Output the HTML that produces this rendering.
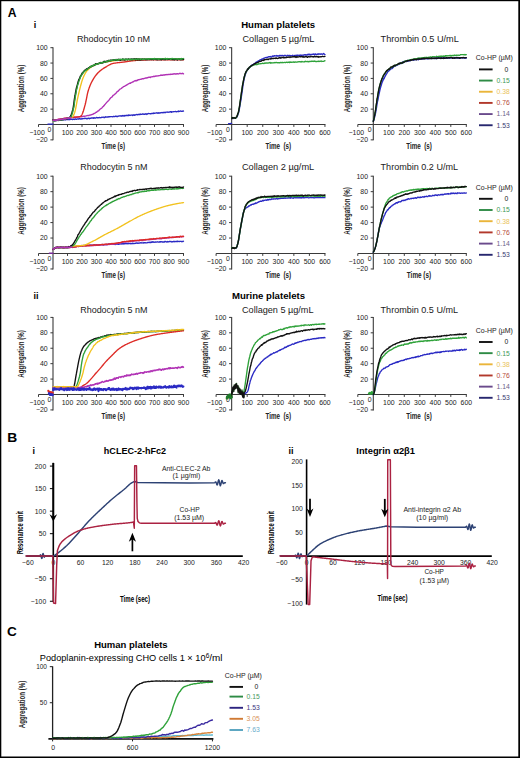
<!DOCTYPE html>
<html><head><meta charset="utf-8"><style>
html,body{margin:0;padding:0;background:#fff;width:520px;height:758px;overflow:hidden}
svg{display:block;font-family:"Liberation Sans", sans-serif}
</style></head><body>
<svg width="520" height="758" viewBox="0 0 520 758">
<rect width="520" height="758" fill="#fff"/>
<rect x="0" y="0" width="1.3" height="758" fill="#000"/><rect x="0" y="0" width="520" height="1.2" fill="#000"/><rect x="518.3" y="0" width="1.7" height="758" fill="#000"/><rect x="0" y="756.5" width="520" height="1.5" fill="#000"/>
<text x="7.80" y="16.70" font-size="12" font-weight="bold" fill="#000" textLength="8.80" lengthAdjust="spacingAndGlyphs">A</text>
<text x="33.80" y="27.70" font-size="9" font-weight="bold" fill="#000">i</text>
<text x="278.20" y="27.70" font-size="9.4" text-anchor="middle" font-weight="bold" fill="#000" textLength="74.00" lengthAdjust="spacingAndGlyphs">Human platelets</text>
<text x="33.60" y="299.30" font-size="9" font-weight="bold" fill="#000">ii</text>
<text x="268.50" y="299.30" font-size="9.4" text-anchor="middle" font-weight="bold" fill="#000" textLength="73.00" lengthAdjust="spacingAndGlyphs">Murine platelets</text>
<line x1="53.00" y1="47.20" x2="53.00" y2="140.36" stroke="#3a3a3a" stroke-width="1.1"/>
<line x1="50.40" y1="47.70" x2="53.00" y2="47.70" stroke="#3a3a3a" stroke-width="1.0"/>
<text x="47.70" y="50.15" font-size="6.9" text-anchor="end" fill="#222">100</text>
<line x1="50.40" y1="63.06" x2="53.00" y2="63.06" stroke="#3a3a3a" stroke-width="1.0"/>
<text x="47.70" y="65.51" font-size="6.9" text-anchor="end" fill="#222">80</text>
<line x1="50.40" y1="78.42" x2="53.00" y2="78.42" stroke="#3a3a3a" stroke-width="1.0"/>
<text x="47.70" y="80.87" font-size="6.9" text-anchor="end" fill="#222">60</text>
<line x1="50.40" y1="93.78" x2="53.00" y2="93.78" stroke="#3a3a3a" stroke-width="1.0"/>
<text x="47.70" y="96.23" font-size="6.9" text-anchor="end" fill="#222">40</text>
<line x1="50.40" y1="109.14" x2="53.00" y2="109.14" stroke="#3a3a3a" stroke-width="1.0"/>
<text x="47.70" y="111.59" font-size="6.9" text-anchor="end" fill="#222">20</text>
<line x1="50.40" y1="139.86" x2="53.00" y2="139.86" stroke="#3a3a3a" stroke-width="1.0"/>
<text x="47.70" y="142.31" font-size="6.9" text-anchor="end" fill="#222">−20</text>
<line x1="38.50" y1="124.50" x2="184.00" y2="124.50" stroke="#3a3a3a" stroke-width="1.1"/>
<line x1="38.50" y1="124.50" x2="38.50" y2="126.90" stroke="#3a3a3a" stroke-width="1.0"/>
<text x="37.00" y="135.30" font-size="6.9" text-anchor="middle" fill="#222">−100</text>
<line x1="67.50" y1="124.50" x2="67.50" y2="126.90" stroke="#3a3a3a" stroke-width="1.0"/>
<text x="67.50" y="135.30" font-size="6.9" text-anchor="middle" fill="#222">100</text>
<line x1="82.00" y1="124.50" x2="82.00" y2="126.90" stroke="#3a3a3a" stroke-width="1.0"/>
<text x="82.00" y="135.30" font-size="6.9" text-anchor="middle" fill="#222">200</text>
<line x1="96.50" y1="124.50" x2="96.50" y2="126.90" stroke="#3a3a3a" stroke-width="1.0"/>
<text x="96.50" y="135.30" font-size="6.9" text-anchor="middle" fill="#222">300</text>
<line x1="111.00" y1="124.50" x2="111.00" y2="126.90" stroke="#3a3a3a" stroke-width="1.0"/>
<text x="111.00" y="135.30" font-size="6.9" text-anchor="middle" fill="#222">400</text>
<line x1="125.50" y1="124.50" x2="125.50" y2="126.90" stroke="#3a3a3a" stroke-width="1.0"/>
<text x="125.50" y="135.30" font-size="6.9" text-anchor="middle" fill="#222">500</text>
<line x1="140.00" y1="124.50" x2="140.00" y2="126.90" stroke="#3a3a3a" stroke-width="1.0"/>
<text x="140.00" y="135.30" font-size="6.9" text-anchor="middle" fill="#222">600</text>
<line x1="154.50" y1="124.50" x2="154.50" y2="126.90" stroke="#3a3a3a" stroke-width="1.0"/>
<text x="154.50" y="135.30" font-size="6.9" text-anchor="middle" fill="#222">700</text>
<line x1="169.00" y1="124.50" x2="169.00" y2="126.90" stroke="#3a3a3a" stroke-width="1.0"/>
<text x="169.00" y="135.30" font-size="6.9" text-anchor="middle" fill="#222">800</text>
<line x1="183.50" y1="124.50" x2="183.50" y2="126.90" stroke="#3a3a3a" stroke-width="1.0"/>
<text x="183.50" y="135.30" font-size="6.9" text-anchor="middle" fill="#222">900</text>
<text x="49.30" y="131.70" font-size="6.9" text-anchor="middle" fill="#222">0</text>
<text x="24.30" y="88.50" font-size="8.4" text-anchor="middle" font-weight="bold" fill="#222" textLength="47.50" lengthAdjust="spacingAndGlyphs" transform="rotate(-90 24.30 88.50)">Aggregation (%)</text>
<text x="113.30" y="148.60" font-size="8.6" text-anchor="middle" font-weight="bold" fill="#222" textLength="23.60" lengthAdjust="spacingAndGlyphs">Time (s)</text>
<text x="113.45" y="41.80" font-size="9" text-anchor="middle" fill="#1a1a1a" textLength="73.10" lengthAdjust="spacingAndGlyphs">Rhodocytin 10 nM</text>
<line x1="231.65" y1="47.20" x2="231.65" y2="140.36" stroke="#3a3a3a" stroke-width="1.1"/>
<line x1="229.05" y1="47.70" x2="231.65" y2="47.70" stroke="#3a3a3a" stroke-width="1.0"/>
<text x="226.35" y="50.15" font-size="6.9" text-anchor="end" fill="#222">100</text>
<line x1="229.05" y1="63.06" x2="231.65" y2="63.06" stroke="#3a3a3a" stroke-width="1.0"/>
<text x="226.35" y="65.51" font-size="6.9" text-anchor="end" fill="#222">80</text>
<line x1="229.05" y1="78.42" x2="231.65" y2="78.42" stroke="#3a3a3a" stroke-width="1.0"/>
<text x="226.35" y="80.87" font-size="6.9" text-anchor="end" fill="#222">60</text>
<line x1="229.05" y1="93.78" x2="231.65" y2="93.78" stroke="#3a3a3a" stroke-width="1.0"/>
<text x="226.35" y="96.23" font-size="6.9" text-anchor="end" fill="#222">40</text>
<line x1="229.05" y1="109.14" x2="231.65" y2="109.14" stroke="#3a3a3a" stroke-width="1.0"/>
<text x="226.35" y="111.59" font-size="6.9" text-anchor="end" fill="#222">20</text>
<line x1="229.05" y1="139.86" x2="231.65" y2="139.86" stroke="#3a3a3a" stroke-width="1.0"/>
<text x="226.35" y="142.31" font-size="6.9" text-anchor="end" fill="#222">−20</text>
<line x1="216.10" y1="124.50" x2="325.45" y2="124.50" stroke="#3a3a3a" stroke-width="1.1"/>
<line x1="216.10" y1="124.50" x2="216.10" y2="126.90" stroke="#3a3a3a" stroke-width="1.0"/>
<text x="214.60" y="135.30" font-size="6.9" text-anchor="middle" fill="#222">−100</text>
<line x1="247.20" y1="124.50" x2="247.20" y2="126.90" stroke="#3a3a3a" stroke-width="1.0"/>
<text x="247.20" y="135.30" font-size="6.9" text-anchor="middle" fill="#222">100</text>
<line x1="262.75" y1="124.50" x2="262.75" y2="126.90" stroke="#3a3a3a" stroke-width="1.0"/>
<text x="262.75" y="135.30" font-size="6.9" text-anchor="middle" fill="#222">200</text>
<line x1="278.30" y1="124.50" x2="278.30" y2="126.90" stroke="#3a3a3a" stroke-width="1.0"/>
<text x="278.30" y="135.30" font-size="6.9" text-anchor="middle" fill="#222">300</text>
<line x1="293.85" y1="124.50" x2="293.85" y2="126.90" stroke="#3a3a3a" stroke-width="1.0"/>
<text x="293.85" y="135.30" font-size="6.9" text-anchor="middle" fill="#222">400</text>
<line x1="309.40" y1="124.50" x2="309.40" y2="126.90" stroke="#3a3a3a" stroke-width="1.0"/>
<text x="309.40" y="135.30" font-size="6.9" text-anchor="middle" fill="#222">500</text>
<line x1="324.95" y1="124.50" x2="324.95" y2="126.90" stroke="#3a3a3a" stroke-width="1.0"/>
<text x="324.95" y="135.30" font-size="6.9" text-anchor="middle" fill="#222">600</text>
<text x="227.95" y="131.70" font-size="6.9" text-anchor="middle" fill="#222">0</text>
<text x="208.00" y="88.50" font-size="8.4" text-anchor="middle" font-weight="bold" fill="#222" textLength="47.50" lengthAdjust="spacingAndGlyphs" transform="rotate(-90 208.00 88.50)">Aggregation (%)</text>
<text x="278.30" y="148.60" font-size="8.6" text-anchor="middle" font-weight="bold" fill="#222" textLength="25.60" lengthAdjust="spacingAndGlyphs">Time&#160;&#160;(s)</text>
<text x="278.45" y="41.80" font-size="9" text-anchor="middle" fill="#1a1a1a" textLength="71.90" lengthAdjust="spacingAndGlyphs">Collagen 5 µg/mL</text>
<line x1="373.30" y1="47.20" x2="373.30" y2="140.36" stroke="#3a3a3a" stroke-width="1.1"/>
<line x1="370.70" y1="47.70" x2="373.30" y2="47.70" stroke="#3a3a3a" stroke-width="1.0"/>
<text x="368.00" y="50.15" font-size="6.9" text-anchor="end" fill="#222">100</text>
<line x1="370.70" y1="63.06" x2="373.30" y2="63.06" stroke="#3a3a3a" stroke-width="1.0"/>
<text x="368.00" y="65.51" font-size="6.9" text-anchor="end" fill="#222">80</text>
<line x1="370.70" y1="78.42" x2="373.30" y2="78.42" stroke="#3a3a3a" stroke-width="1.0"/>
<text x="368.00" y="80.87" font-size="6.9" text-anchor="end" fill="#222">60</text>
<line x1="370.70" y1="93.78" x2="373.30" y2="93.78" stroke="#3a3a3a" stroke-width="1.0"/>
<text x="368.00" y="96.23" font-size="6.9" text-anchor="end" fill="#222">40</text>
<line x1="370.70" y1="109.14" x2="373.30" y2="109.14" stroke="#3a3a3a" stroke-width="1.0"/>
<text x="368.00" y="111.59" font-size="6.9" text-anchor="end" fill="#222">20</text>
<line x1="370.70" y1="139.86" x2="373.30" y2="139.86" stroke="#3a3a3a" stroke-width="1.0"/>
<text x="368.00" y="142.31" font-size="6.9" text-anchor="end" fill="#222">−20</text>
<line x1="357.80" y1="124.50" x2="466.80" y2="124.50" stroke="#3a3a3a" stroke-width="1.1"/>
<line x1="357.80" y1="124.50" x2="357.80" y2="126.90" stroke="#3a3a3a" stroke-width="1.0"/>
<text x="356.30" y="135.30" font-size="6.9" text-anchor="middle" fill="#222">−100</text>
<line x1="388.80" y1="124.50" x2="388.80" y2="126.90" stroke="#3a3a3a" stroke-width="1.0"/>
<text x="388.80" y="135.30" font-size="6.9" text-anchor="middle" fill="#222">100</text>
<line x1="404.30" y1="124.50" x2="404.30" y2="126.90" stroke="#3a3a3a" stroke-width="1.0"/>
<text x="404.30" y="135.30" font-size="6.9" text-anchor="middle" fill="#222">200</text>
<line x1="419.80" y1="124.50" x2="419.80" y2="126.90" stroke="#3a3a3a" stroke-width="1.0"/>
<text x="419.80" y="135.30" font-size="6.9" text-anchor="middle" fill="#222">300</text>
<line x1="435.30" y1="124.50" x2="435.30" y2="126.90" stroke="#3a3a3a" stroke-width="1.0"/>
<text x="435.30" y="135.30" font-size="6.9" text-anchor="middle" fill="#222">400</text>
<line x1="450.80" y1="124.50" x2="450.80" y2="126.90" stroke="#3a3a3a" stroke-width="1.0"/>
<text x="450.80" y="135.30" font-size="6.9" text-anchor="middle" fill="#222">500</text>
<line x1="466.30" y1="124.50" x2="466.30" y2="126.90" stroke="#3a3a3a" stroke-width="1.0"/>
<text x="466.30" y="135.30" font-size="6.9" text-anchor="middle" fill="#222">600</text>
<text x="369.60" y="131.70" font-size="6.9" text-anchor="middle" fill="#222">0</text>
<text x="349.80" y="88.50" font-size="8.4" text-anchor="middle" font-weight="bold" fill="#222" textLength="47.50" lengthAdjust="spacingAndGlyphs" transform="rotate(-90 349.80 88.50)">Aggregation (%)</text>
<text x="419.00" y="148.60" font-size="8.6" text-anchor="middle" font-weight="bold" fill="#222" textLength="25.60" lengthAdjust="spacingAndGlyphs">Time&#160;&#160;(s)</text>
<text x="419.70" y="41.80" font-size="9" text-anchor="middle" fill="#1a1a1a" textLength="78.20" lengthAdjust="spacingAndGlyphs">Thrombin 0.5 U/mL</text>
<text x="494.30" y="60.40" font-size="6.8" text-anchor="middle" fill="#222" textLength="37.00" lengthAdjust="spacingAndGlyphs">Co-HP (µM)</text>
<line x1="479.00" y1="69.40" x2="492.60" y2="69.40" stroke="#111" stroke-width="1.9"/>
<text x="508.30" y="71.80" font-size="6.8" text-anchor="end" fill="#222">0</text>
<line x1="479.00" y1="80.57" x2="492.60" y2="80.57" stroke="#2e8b45" stroke-width="1.9"/>
<text x="509.80" y="82.97" font-size="6.8" text-anchor="end" fill="#3f9a58">0.15</text>
<line x1="479.00" y1="91.74" x2="492.60" y2="91.74" stroke="#eab53a" stroke-width="1.9"/>
<text x="509.80" y="94.14" font-size="6.8" text-anchor="end" fill="#e9c35a">0.38</text>
<line x1="479.00" y1="102.91" x2="492.60" y2="102.91" stroke="#b2382b" stroke-width="1.9"/>
<text x="509.80" y="105.31" font-size="6.8" text-anchor="end" fill="#b54a3a">0.76</text>
<line x1="479.00" y1="114.08" x2="492.60" y2="114.08" stroke="#6a4a8c" stroke-width="1.9"/>
<text x="509.80" y="116.48" font-size="6.8" text-anchor="end" fill="#6f5f88">1.14</text>
<line x1="479.00" y1="125.25" x2="492.60" y2="125.25" stroke="#27276f" stroke-width="1.9"/>
<text x="509.80" y="127.65" font-size="6.8" text-anchor="end" fill="#3a3a70">1.53</text>
<line x1="53.00" y1="175.70" x2="53.00" y2="269.46" stroke="#3a3a3a" stroke-width="1.1"/>
<line x1="50.40" y1="176.20" x2="53.00" y2="176.20" stroke="#3a3a3a" stroke-width="1.0"/>
<text x="47.70" y="178.65" font-size="6.9" text-anchor="end" fill="#222">100</text>
<line x1="50.40" y1="191.66" x2="53.00" y2="191.66" stroke="#3a3a3a" stroke-width="1.0"/>
<text x="47.70" y="194.11" font-size="6.9" text-anchor="end" fill="#222">80</text>
<line x1="50.40" y1="207.12" x2="53.00" y2="207.12" stroke="#3a3a3a" stroke-width="1.0"/>
<text x="47.70" y="209.57" font-size="6.9" text-anchor="end" fill="#222">60</text>
<line x1="50.40" y1="222.58" x2="53.00" y2="222.58" stroke="#3a3a3a" stroke-width="1.0"/>
<text x="47.70" y="225.03" font-size="6.9" text-anchor="end" fill="#222">40</text>
<line x1="50.40" y1="238.04" x2="53.00" y2="238.04" stroke="#3a3a3a" stroke-width="1.0"/>
<text x="47.70" y="240.49" font-size="6.9" text-anchor="end" fill="#222">20</text>
<line x1="50.40" y1="268.96" x2="53.00" y2="268.96" stroke="#3a3a3a" stroke-width="1.0"/>
<text x="47.70" y="271.41" font-size="6.9" text-anchor="end" fill="#222">−20</text>
<line x1="38.50" y1="253.50" x2="184.00" y2="253.50" stroke="#3a3a3a" stroke-width="1.1"/>
<line x1="38.50" y1="253.50" x2="38.50" y2="255.90" stroke="#3a3a3a" stroke-width="1.0"/>
<text x="37.00" y="264.30" font-size="6.9" text-anchor="middle" fill="#222">−100</text>
<line x1="67.50" y1="253.50" x2="67.50" y2="255.90" stroke="#3a3a3a" stroke-width="1.0"/>
<text x="67.50" y="264.30" font-size="6.9" text-anchor="middle" fill="#222">100</text>
<line x1="82.00" y1="253.50" x2="82.00" y2="255.90" stroke="#3a3a3a" stroke-width="1.0"/>
<text x="82.00" y="264.30" font-size="6.9" text-anchor="middle" fill="#222">200</text>
<line x1="96.50" y1="253.50" x2="96.50" y2="255.90" stroke="#3a3a3a" stroke-width="1.0"/>
<text x="96.50" y="264.30" font-size="6.9" text-anchor="middle" fill="#222">300</text>
<line x1="111.00" y1="253.50" x2="111.00" y2="255.90" stroke="#3a3a3a" stroke-width="1.0"/>
<text x="111.00" y="264.30" font-size="6.9" text-anchor="middle" fill="#222">400</text>
<line x1="125.50" y1="253.50" x2="125.50" y2="255.90" stroke="#3a3a3a" stroke-width="1.0"/>
<text x="125.50" y="264.30" font-size="6.9" text-anchor="middle" fill="#222">500</text>
<line x1="140.00" y1="253.50" x2="140.00" y2="255.90" stroke="#3a3a3a" stroke-width="1.0"/>
<text x="140.00" y="264.30" font-size="6.9" text-anchor="middle" fill="#222">600</text>
<line x1="154.50" y1="253.50" x2="154.50" y2="255.90" stroke="#3a3a3a" stroke-width="1.0"/>
<text x="154.50" y="264.30" font-size="6.9" text-anchor="middle" fill="#222">700</text>
<line x1="169.00" y1="253.50" x2="169.00" y2="255.90" stroke="#3a3a3a" stroke-width="1.0"/>
<text x="169.00" y="264.30" font-size="6.9" text-anchor="middle" fill="#222">800</text>
<line x1="183.50" y1="253.50" x2="183.50" y2="255.90" stroke="#3a3a3a" stroke-width="1.0"/>
<text x="183.50" y="264.30" font-size="6.9" text-anchor="middle" fill="#222">900</text>
<text x="49.30" y="260.70" font-size="6.9" text-anchor="middle" fill="#222">0</text>
<text x="24.30" y="211.00" font-size="8.4" text-anchor="middle" font-weight="bold" fill="#222" textLength="47.50" lengthAdjust="spacingAndGlyphs" transform="rotate(-90 24.30 211.00)">Aggregation (%)</text>
<text x="113.30" y="277.60" font-size="8.6" text-anchor="middle" font-weight="bold" fill="#222" textLength="23.60" lengthAdjust="spacingAndGlyphs">Time (s)</text>
<text x="113.85" y="170.30" font-size="9" text-anchor="middle" fill="#1a1a1a" textLength="67.30" lengthAdjust="spacingAndGlyphs">Rhodocytin 5 nM</text>
<line x1="231.65" y1="175.70" x2="231.65" y2="269.46" stroke="#3a3a3a" stroke-width="1.1"/>
<line x1="229.05" y1="176.20" x2="231.65" y2="176.20" stroke="#3a3a3a" stroke-width="1.0"/>
<text x="226.35" y="178.65" font-size="6.9" text-anchor="end" fill="#222">100</text>
<line x1="229.05" y1="191.66" x2="231.65" y2="191.66" stroke="#3a3a3a" stroke-width="1.0"/>
<text x="226.35" y="194.11" font-size="6.9" text-anchor="end" fill="#222">80</text>
<line x1="229.05" y1="207.12" x2="231.65" y2="207.12" stroke="#3a3a3a" stroke-width="1.0"/>
<text x="226.35" y="209.57" font-size="6.9" text-anchor="end" fill="#222">60</text>
<line x1="229.05" y1="222.58" x2="231.65" y2="222.58" stroke="#3a3a3a" stroke-width="1.0"/>
<text x="226.35" y="225.03" font-size="6.9" text-anchor="end" fill="#222">40</text>
<line x1="229.05" y1="238.04" x2="231.65" y2="238.04" stroke="#3a3a3a" stroke-width="1.0"/>
<text x="226.35" y="240.49" font-size="6.9" text-anchor="end" fill="#222">20</text>
<line x1="229.05" y1="268.96" x2="231.65" y2="268.96" stroke="#3a3a3a" stroke-width="1.0"/>
<text x="226.35" y="271.41" font-size="6.9" text-anchor="end" fill="#222">−20</text>
<line x1="216.10" y1="253.50" x2="325.45" y2="253.50" stroke="#3a3a3a" stroke-width="1.1"/>
<line x1="216.10" y1="253.50" x2="216.10" y2="255.90" stroke="#3a3a3a" stroke-width="1.0"/>
<text x="214.60" y="264.30" font-size="6.9" text-anchor="middle" fill="#222">−100</text>
<line x1="247.20" y1="253.50" x2="247.20" y2="255.90" stroke="#3a3a3a" stroke-width="1.0"/>
<text x="247.20" y="264.30" font-size="6.9" text-anchor="middle" fill="#222">100</text>
<line x1="262.75" y1="253.50" x2="262.75" y2="255.90" stroke="#3a3a3a" stroke-width="1.0"/>
<text x="262.75" y="264.30" font-size="6.9" text-anchor="middle" fill="#222">200</text>
<line x1="278.30" y1="253.50" x2="278.30" y2="255.90" stroke="#3a3a3a" stroke-width="1.0"/>
<text x="278.30" y="264.30" font-size="6.9" text-anchor="middle" fill="#222">300</text>
<line x1="293.85" y1="253.50" x2="293.85" y2="255.90" stroke="#3a3a3a" stroke-width="1.0"/>
<text x="293.85" y="264.30" font-size="6.9" text-anchor="middle" fill="#222">400</text>
<line x1="309.40" y1="253.50" x2="309.40" y2="255.90" stroke="#3a3a3a" stroke-width="1.0"/>
<text x="309.40" y="264.30" font-size="6.9" text-anchor="middle" fill="#222">500</text>
<line x1="324.95" y1="253.50" x2="324.95" y2="255.90" stroke="#3a3a3a" stroke-width="1.0"/>
<text x="324.95" y="264.30" font-size="6.9" text-anchor="middle" fill="#222">600</text>
<text x="227.95" y="260.70" font-size="6.9" text-anchor="middle" fill="#222">0</text>
<text x="208.00" y="211.00" font-size="8.4" text-anchor="middle" font-weight="bold" fill="#222" textLength="47.50" lengthAdjust="spacingAndGlyphs" transform="rotate(-90 208.00 211.00)">Aggregation (%)</text>
<text x="278.30" y="277.60" font-size="8.6" text-anchor="middle" font-weight="bold" fill="#222" textLength="25.60" lengthAdjust="spacingAndGlyphs">Time&#160;&#160;(s)</text>
<text x="278.05" y="170.30" font-size="9" text-anchor="middle" fill="#1a1a1a" textLength="72.30" lengthAdjust="spacingAndGlyphs">Collagen 2 µg/mL</text>
<line x1="373.30" y1="175.70" x2="373.30" y2="269.46" stroke="#3a3a3a" stroke-width="1.1"/>
<line x1="370.70" y1="176.20" x2="373.30" y2="176.20" stroke="#3a3a3a" stroke-width="1.0"/>
<text x="368.00" y="178.65" font-size="6.9" text-anchor="end" fill="#222">100</text>
<line x1="370.70" y1="191.66" x2="373.30" y2="191.66" stroke="#3a3a3a" stroke-width="1.0"/>
<text x="368.00" y="194.11" font-size="6.9" text-anchor="end" fill="#222">80</text>
<line x1="370.70" y1="207.12" x2="373.30" y2="207.12" stroke="#3a3a3a" stroke-width="1.0"/>
<text x="368.00" y="209.57" font-size="6.9" text-anchor="end" fill="#222">60</text>
<line x1="370.70" y1="222.58" x2="373.30" y2="222.58" stroke="#3a3a3a" stroke-width="1.0"/>
<text x="368.00" y="225.03" font-size="6.9" text-anchor="end" fill="#222">40</text>
<line x1="370.70" y1="238.04" x2="373.30" y2="238.04" stroke="#3a3a3a" stroke-width="1.0"/>
<text x="368.00" y="240.49" font-size="6.9" text-anchor="end" fill="#222">20</text>
<line x1="370.70" y1="268.96" x2="373.30" y2="268.96" stroke="#3a3a3a" stroke-width="1.0"/>
<text x="368.00" y="271.41" font-size="6.9" text-anchor="end" fill="#222">−20</text>
<line x1="357.80" y1="253.50" x2="466.80" y2="253.50" stroke="#3a3a3a" stroke-width="1.1"/>
<line x1="357.80" y1="253.50" x2="357.80" y2="255.90" stroke="#3a3a3a" stroke-width="1.0"/>
<text x="356.30" y="264.30" font-size="6.9" text-anchor="middle" fill="#222">−100</text>
<line x1="388.80" y1="253.50" x2="388.80" y2="255.90" stroke="#3a3a3a" stroke-width="1.0"/>
<text x="388.80" y="264.30" font-size="6.9" text-anchor="middle" fill="#222">100</text>
<line x1="404.30" y1="253.50" x2="404.30" y2="255.90" stroke="#3a3a3a" stroke-width="1.0"/>
<text x="404.30" y="264.30" font-size="6.9" text-anchor="middle" fill="#222">200</text>
<line x1="419.80" y1="253.50" x2="419.80" y2="255.90" stroke="#3a3a3a" stroke-width="1.0"/>
<text x="419.80" y="264.30" font-size="6.9" text-anchor="middle" fill="#222">300</text>
<line x1="435.30" y1="253.50" x2="435.30" y2="255.90" stroke="#3a3a3a" stroke-width="1.0"/>
<text x="435.30" y="264.30" font-size="6.9" text-anchor="middle" fill="#222">400</text>
<line x1="450.80" y1="253.50" x2="450.80" y2="255.90" stroke="#3a3a3a" stroke-width="1.0"/>
<text x="450.80" y="264.30" font-size="6.9" text-anchor="middle" fill="#222">500</text>
<line x1="466.30" y1="253.50" x2="466.30" y2="255.90" stroke="#3a3a3a" stroke-width="1.0"/>
<text x="466.30" y="264.30" font-size="6.9" text-anchor="middle" fill="#222">600</text>
<text x="369.60" y="260.70" font-size="6.9" text-anchor="middle" fill="#222">0</text>
<text x="349.80" y="211.00" font-size="8.4" text-anchor="middle" font-weight="bold" fill="#222" textLength="47.50" lengthAdjust="spacingAndGlyphs" transform="rotate(-90 349.80 211.00)">Aggregation (%)</text>
<text x="419.00" y="277.60" font-size="8.6" text-anchor="middle" font-weight="bold" fill="#222" textLength="24.30" lengthAdjust="spacingAndGlyphs">Time (s)</text>
<text x="419.30" y="170.30" font-size="9" text-anchor="middle" fill="#1a1a1a" textLength="77.40" lengthAdjust="spacingAndGlyphs">Thrombin 0.2 U/mL</text>
<text x="494.30" y="189.80" font-size="6.8" text-anchor="middle" fill="#222" textLength="37.00" lengthAdjust="spacingAndGlyphs">Co-HP (µM)</text>
<line x1="479.00" y1="198.80" x2="492.60" y2="198.80" stroke="#111" stroke-width="1.9"/>
<text x="508.30" y="201.20" font-size="6.8" text-anchor="end" fill="#222">0</text>
<line x1="479.00" y1="210.00" x2="492.60" y2="210.00" stroke="#2e8b45" stroke-width="1.9"/>
<text x="509.80" y="212.40" font-size="6.8" text-anchor="end" fill="#3f9a58">0.15</text>
<line x1="479.00" y1="221.20" x2="492.60" y2="221.20" stroke="#eab53a" stroke-width="1.9"/>
<text x="509.80" y="223.60" font-size="6.8" text-anchor="end" fill="#e9c35a">0.38</text>
<line x1="479.00" y1="232.40" x2="492.60" y2="232.40" stroke="#b2382b" stroke-width="1.9"/>
<text x="509.80" y="234.80" font-size="6.8" text-anchor="end" fill="#b54a3a">0.76</text>
<line x1="479.00" y1="243.60" x2="492.60" y2="243.60" stroke="#6a4a8c" stroke-width="1.9"/>
<text x="509.80" y="246.00" font-size="6.8" text-anchor="end" fill="#6f5f88">1.14</text>
<line x1="479.00" y1="254.80" x2="492.60" y2="254.80" stroke="#27276f" stroke-width="1.9"/>
<text x="509.80" y="257.20" font-size="6.8" text-anchor="end" fill="#3a3a70">1.53</text>
<line x1="53.00" y1="316.90" x2="53.00" y2="410.42" stroke="#3a3a3a" stroke-width="1.1"/>
<line x1="50.40" y1="317.40" x2="53.00" y2="317.40" stroke="#3a3a3a" stroke-width="1.0"/>
<text x="47.70" y="319.85" font-size="6.9" text-anchor="end" fill="#222">100</text>
<line x1="50.40" y1="332.82" x2="53.00" y2="332.82" stroke="#3a3a3a" stroke-width="1.0"/>
<text x="47.70" y="335.27" font-size="6.9" text-anchor="end" fill="#222">80</text>
<line x1="50.40" y1="348.24" x2="53.00" y2="348.24" stroke="#3a3a3a" stroke-width="1.0"/>
<text x="47.70" y="350.69" font-size="6.9" text-anchor="end" fill="#222">60</text>
<line x1="50.40" y1="363.66" x2="53.00" y2="363.66" stroke="#3a3a3a" stroke-width="1.0"/>
<text x="47.70" y="366.11" font-size="6.9" text-anchor="end" fill="#222">40</text>
<line x1="50.40" y1="379.08" x2="53.00" y2="379.08" stroke="#3a3a3a" stroke-width="1.0"/>
<text x="47.70" y="381.53" font-size="6.9" text-anchor="end" fill="#222">20</text>
<line x1="50.40" y1="409.92" x2="53.00" y2="409.92" stroke="#3a3a3a" stroke-width="1.0"/>
<text x="47.70" y="412.37" font-size="6.9" text-anchor="end" fill="#222">−20</text>
<line x1="38.50" y1="394.50" x2="184.00" y2="394.50" stroke="#3a3a3a" stroke-width="1.1"/>
<line x1="38.50" y1="394.50" x2="38.50" y2="396.90" stroke="#3a3a3a" stroke-width="1.0"/>
<text x="37.00" y="405.30" font-size="6.9" text-anchor="middle" fill="#222">−100</text>
<line x1="67.50" y1="394.50" x2="67.50" y2="396.90" stroke="#3a3a3a" stroke-width="1.0"/>
<text x="67.50" y="405.30" font-size="6.9" text-anchor="middle" fill="#222">100</text>
<line x1="82.00" y1="394.50" x2="82.00" y2="396.90" stroke="#3a3a3a" stroke-width="1.0"/>
<text x="82.00" y="405.30" font-size="6.9" text-anchor="middle" fill="#222">200</text>
<line x1="96.50" y1="394.50" x2="96.50" y2="396.90" stroke="#3a3a3a" stroke-width="1.0"/>
<text x="96.50" y="405.30" font-size="6.9" text-anchor="middle" fill="#222">300</text>
<line x1="111.00" y1="394.50" x2="111.00" y2="396.90" stroke="#3a3a3a" stroke-width="1.0"/>
<text x="111.00" y="405.30" font-size="6.9" text-anchor="middle" fill="#222">400</text>
<line x1="125.50" y1="394.50" x2="125.50" y2="396.90" stroke="#3a3a3a" stroke-width="1.0"/>
<text x="125.50" y="405.30" font-size="6.9" text-anchor="middle" fill="#222">500</text>
<line x1="140.00" y1="394.50" x2="140.00" y2="396.90" stroke="#3a3a3a" stroke-width="1.0"/>
<text x="140.00" y="405.30" font-size="6.9" text-anchor="middle" fill="#222">600</text>
<line x1="154.50" y1="394.50" x2="154.50" y2="396.90" stroke="#3a3a3a" stroke-width="1.0"/>
<text x="154.50" y="405.30" font-size="6.9" text-anchor="middle" fill="#222">700</text>
<line x1="169.00" y1="394.50" x2="169.00" y2="396.90" stroke="#3a3a3a" stroke-width="1.0"/>
<text x="169.00" y="405.30" font-size="6.9" text-anchor="middle" fill="#222">800</text>
<line x1="183.50" y1="394.50" x2="183.50" y2="396.90" stroke="#3a3a3a" stroke-width="1.0"/>
<text x="183.50" y="405.30" font-size="6.9" text-anchor="middle" fill="#222">900</text>
<text x="49.30" y="401.70" font-size="6.9" text-anchor="middle" fill="#222">0</text>
<text x="24.30" y="354.00" font-size="8.4" text-anchor="middle" font-weight="bold" fill="#222" textLength="47.50" lengthAdjust="spacingAndGlyphs" transform="rotate(-90 24.30 354.00)">Aggregation (%)</text>
<text x="113.30" y="418.60" font-size="8.6" text-anchor="middle" font-weight="bold" fill="#222" textLength="23.60" lengthAdjust="spacingAndGlyphs">Time (s)</text>
<text x="113.85" y="312.70" font-size="9" text-anchor="middle" fill="#1a1a1a" textLength="67.30" lengthAdjust="spacingAndGlyphs">Rhodocytin 5 nM</text>
<line x1="231.65" y1="316.90" x2="231.65" y2="410.42" stroke="#3a3a3a" stroke-width="1.1"/>
<line x1="229.05" y1="317.40" x2="231.65" y2="317.40" stroke="#3a3a3a" stroke-width="1.0"/>
<text x="226.35" y="319.85" font-size="6.9" text-anchor="end" fill="#222">100</text>
<line x1="229.05" y1="332.82" x2="231.65" y2="332.82" stroke="#3a3a3a" stroke-width="1.0"/>
<text x="226.35" y="335.27" font-size="6.9" text-anchor="end" fill="#222">80</text>
<line x1="229.05" y1="348.24" x2="231.65" y2="348.24" stroke="#3a3a3a" stroke-width="1.0"/>
<text x="226.35" y="350.69" font-size="6.9" text-anchor="end" fill="#222">60</text>
<line x1="229.05" y1="363.66" x2="231.65" y2="363.66" stroke="#3a3a3a" stroke-width="1.0"/>
<text x="226.35" y="366.11" font-size="6.9" text-anchor="end" fill="#222">40</text>
<line x1="229.05" y1="379.08" x2="231.65" y2="379.08" stroke="#3a3a3a" stroke-width="1.0"/>
<text x="226.35" y="381.53" font-size="6.9" text-anchor="end" fill="#222">20</text>
<line x1="229.05" y1="409.92" x2="231.65" y2="409.92" stroke="#3a3a3a" stroke-width="1.0"/>
<text x="226.35" y="412.37" font-size="6.9" text-anchor="end" fill="#222">−20</text>
<line x1="216.10" y1="394.50" x2="325.45" y2="394.50" stroke="#3a3a3a" stroke-width="1.1"/>
<line x1="216.10" y1="394.50" x2="216.10" y2="396.90" stroke="#3a3a3a" stroke-width="1.0"/>
<text x="214.60" y="405.30" font-size="6.9" text-anchor="middle" fill="#222">−100</text>
<line x1="247.20" y1="394.50" x2="247.20" y2="396.90" stroke="#3a3a3a" stroke-width="1.0"/>
<text x="247.20" y="405.30" font-size="6.9" text-anchor="middle" fill="#222">100</text>
<line x1="262.75" y1="394.50" x2="262.75" y2="396.90" stroke="#3a3a3a" stroke-width="1.0"/>
<text x="262.75" y="405.30" font-size="6.9" text-anchor="middle" fill="#222">200</text>
<line x1="278.30" y1="394.50" x2="278.30" y2="396.90" stroke="#3a3a3a" stroke-width="1.0"/>
<text x="278.30" y="405.30" font-size="6.9" text-anchor="middle" fill="#222">300</text>
<line x1="293.85" y1="394.50" x2="293.85" y2="396.90" stroke="#3a3a3a" stroke-width="1.0"/>
<text x="293.85" y="405.30" font-size="6.9" text-anchor="middle" fill="#222">400</text>
<line x1="309.40" y1="394.50" x2="309.40" y2="396.90" stroke="#3a3a3a" stroke-width="1.0"/>
<text x="309.40" y="405.30" font-size="6.9" text-anchor="middle" fill="#222">500</text>
<line x1="324.95" y1="394.50" x2="324.95" y2="396.90" stroke="#3a3a3a" stroke-width="1.0"/>
<text x="324.95" y="405.30" font-size="6.9" text-anchor="middle" fill="#222">600</text>
<text x="227.95" y="401.70" font-size="6.9" text-anchor="middle" fill="#222">0</text>
<text x="208.00" y="354.00" font-size="8.4" text-anchor="middle" font-weight="bold" fill="#222" textLength="47.50" lengthAdjust="spacingAndGlyphs" transform="rotate(-90 208.00 354.00)">Aggregation (%)</text>
<text x="278.30" y="418.60" font-size="8.6" text-anchor="middle" font-weight="bold" fill="#222" textLength="25.60" lengthAdjust="spacingAndGlyphs">Time&#160;&#160;(s)</text>
<text x="277.75" y="312.70" font-size="9" text-anchor="middle" fill="#1a1a1a" textLength="71.50" lengthAdjust="spacingAndGlyphs">Collagen 5 µg/mL</text>
<line x1="373.30" y1="316.90" x2="373.30" y2="410.42" stroke="#3a3a3a" stroke-width="1.1"/>
<line x1="370.70" y1="317.40" x2="373.30" y2="317.40" stroke="#3a3a3a" stroke-width="1.0"/>
<text x="368.00" y="319.85" font-size="6.9" text-anchor="end" fill="#222">100</text>
<line x1="370.70" y1="332.82" x2="373.30" y2="332.82" stroke="#3a3a3a" stroke-width="1.0"/>
<text x="368.00" y="335.27" font-size="6.9" text-anchor="end" fill="#222">80</text>
<line x1="370.70" y1="348.24" x2="373.30" y2="348.24" stroke="#3a3a3a" stroke-width="1.0"/>
<text x="368.00" y="350.69" font-size="6.9" text-anchor="end" fill="#222">60</text>
<line x1="370.70" y1="363.66" x2="373.30" y2="363.66" stroke="#3a3a3a" stroke-width="1.0"/>
<text x="368.00" y="366.11" font-size="6.9" text-anchor="end" fill="#222">40</text>
<line x1="370.70" y1="379.08" x2="373.30" y2="379.08" stroke="#3a3a3a" stroke-width="1.0"/>
<text x="368.00" y="381.53" font-size="6.9" text-anchor="end" fill="#222">20</text>
<line x1="370.70" y1="409.92" x2="373.30" y2="409.92" stroke="#3a3a3a" stroke-width="1.0"/>
<text x="368.00" y="412.37" font-size="6.9" text-anchor="end" fill="#222">−20</text>
<line x1="357.80" y1="394.50" x2="466.80" y2="394.50" stroke="#3a3a3a" stroke-width="1.1"/>
<line x1="357.80" y1="394.50" x2="357.80" y2="396.90" stroke="#3a3a3a" stroke-width="1.0"/>
<text x="356.30" y="405.30" font-size="6.9" text-anchor="middle" fill="#222">−100</text>
<line x1="388.80" y1="394.50" x2="388.80" y2="396.90" stroke="#3a3a3a" stroke-width="1.0"/>
<text x="388.80" y="405.30" font-size="6.9" text-anchor="middle" fill="#222">100</text>
<line x1="404.30" y1="394.50" x2="404.30" y2="396.90" stroke="#3a3a3a" stroke-width="1.0"/>
<text x="404.30" y="405.30" font-size="6.9" text-anchor="middle" fill="#222">200</text>
<line x1="419.80" y1="394.50" x2="419.80" y2="396.90" stroke="#3a3a3a" stroke-width="1.0"/>
<text x="419.80" y="405.30" font-size="6.9" text-anchor="middle" fill="#222">300</text>
<line x1="435.30" y1="394.50" x2="435.30" y2="396.90" stroke="#3a3a3a" stroke-width="1.0"/>
<text x="435.30" y="405.30" font-size="6.9" text-anchor="middle" fill="#222">400</text>
<line x1="450.80" y1="394.50" x2="450.80" y2="396.90" stroke="#3a3a3a" stroke-width="1.0"/>
<text x="450.80" y="405.30" font-size="6.9" text-anchor="middle" fill="#222">500</text>
<line x1="466.30" y1="394.50" x2="466.30" y2="396.90" stroke="#3a3a3a" stroke-width="1.0"/>
<text x="466.30" y="405.30" font-size="6.9" text-anchor="middle" fill="#222">600</text>
<text x="369.60" y="401.70" font-size="6.9" text-anchor="middle" fill="#222">0</text>
<text x="349.80" y="354.00" font-size="8.4" text-anchor="middle" font-weight="bold" fill="#222" textLength="47.50" lengthAdjust="spacingAndGlyphs" transform="rotate(-90 349.80 354.00)">Aggregation (%)</text>
<text x="419.00" y="418.60" font-size="8.6" text-anchor="middle" font-weight="bold" fill="#222" textLength="25.60" lengthAdjust="spacingAndGlyphs">Time&#160;&#160;(s)</text>
<text x="419.30" y="312.70" font-size="9" text-anchor="middle" fill="#1a1a1a" textLength="77.40" lengthAdjust="spacingAndGlyphs">Thrombin 0.5 U/mL</text>
<text x="494.30" y="333.20" font-size="6.8" text-anchor="middle" fill="#222" textLength="37.00" lengthAdjust="spacingAndGlyphs">Co-HP (µM)</text>
<line x1="479.00" y1="342.00" x2="492.60" y2="342.00" stroke="#111" stroke-width="1.9"/>
<text x="508.30" y="344.40" font-size="6.8" text-anchor="end" fill="#222">0</text>
<line x1="479.00" y1="353.16" x2="492.60" y2="353.16" stroke="#2e8b45" stroke-width="1.9"/>
<text x="509.80" y="355.56" font-size="6.8" text-anchor="end" fill="#3f9a58">0.15</text>
<line x1="479.00" y1="364.32" x2="492.60" y2="364.32" stroke="#eab53a" stroke-width="1.9"/>
<text x="509.80" y="366.72" font-size="6.8" text-anchor="end" fill="#e9c35a">0.38</text>
<line x1="479.00" y1="375.48" x2="492.60" y2="375.48" stroke="#b2382b" stroke-width="1.9"/>
<text x="509.80" y="377.88" font-size="6.8" text-anchor="end" fill="#b54a3a">0.76</text>
<line x1="479.00" y1="386.64" x2="492.60" y2="386.64" stroke="#6a4a8c" stroke-width="1.9"/>
<text x="509.80" y="389.04" font-size="6.8" text-anchor="end" fill="#6f5f88">1.14</text>
<line x1="479.00" y1="397.80" x2="492.60" y2="397.80" stroke="#27276f" stroke-width="1.9"/>
<text x="509.80" y="400.20" font-size="6.8" text-anchor="end" fill="#3a3a70">1.53</text>
<path d="M47.92,124.12 L48.65,124.12 L49.38,124.12 L50.10,124.12 L50.83,124.12 L51.55,124.12 L52.27,124.12 L53.00,124.12" fill="none" stroke="#2a2ac4" stroke-width="1.25" stroke-linejoin="round" stroke-linecap="round"/>
<path d="M53.00,120.18 L53.44,120.13 L53.87,120.37 L54.30,120.51 L54.74,120.55 L55.17,120.31 L55.61,120.49 L56.05,120.54 L56.48,120.20 L56.91,120.19 L57.35,120.09 L57.78,120.35 L58.22,120.14 L58.66,120.13 L59.09,120.39 L59.52,119.97 L59.96,119.99 L60.39,119.57 L60.83,119.96 L61.27,120.00 L61.70,119.71 L62.13,119.89 L62.57,119.73 L63.00,119.95 L63.44,119.81 L63.88,119.63 L64.31,119.67 L64.75,119.75 L65.18,119.96 L65.61,119.64 L66.05,119.68 L66.48,119.54 L66.92,119.61 L67.36,119.41 L67.79,119.61 L68.22,119.53 L68.66,119.42 L69.09,119.73 L69.53,119.57 L69.97,119.56 L70.40,119.06 L70.83,119.43 L71.27,119.26 L71.70,119.24 L72.14,119.39 L72.58,119.61 L73.01,119.10 L73.44,119.33 L73.88,119.09 L74.31,119.45 L74.75,119.26 L75.19,118.91 L75.62,118.85 L76.06,119.35 L76.49,119.32 L76.92,119.05 L77.36,118.87 L77.80,118.96 L78.23,118.90 L78.66,119.12 L79.10,118.79 L79.53,118.66 L79.97,118.93 L80.41,119.10 L80.84,118.94 L81.28,118.62 L81.71,119.07 L82.14,118.73 L82.58,118.87 L83.02,118.68 L83.45,118.67 L83.88,118.60 L84.32,118.28 L84.75,118.46 L85.19,118.26 L85.62,118.51 L86.06,118.55 L86.50,118.36 L86.93,118.95 L87.36,118.38 L87.80,118.31 L88.23,118.55 L88.67,118.20 L89.10,118.37 L89.54,118.70 L89.97,118.24 L90.41,118.36 L90.84,118.24 L91.28,118.14 L91.72,117.84 L92.15,118.04 L92.58,118.03 L93.02,117.92 L93.45,118.32 L93.89,117.70 L94.32,118.12 L94.76,117.79 L95.19,118.07 L95.63,118.01 L96.06,117.87 L96.50,117.40 L96.94,117.60 L97.37,117.82 L97.81,117.73 L98.24,117.86 L98.67,117.62 L99.11,117.69 L99.54,117.41 L99.98,117.78 L100.41,117.56 L100.85,117.62 L101.28,117.57 L101.72,117.27 L102.16,117.35 L102.59,117.23 L103.03,117.08 L103.46,117.06 L103.89,117.51 L104.33,117.12 L104.76,117.53 L105.20,117.17 L105.63,116.76 L106.07,117.14 L106.50,117.14 L106.94,117.00 L107.38,117.00 L107.81,116.97 L108.25,117.09 L108.68,116.71 L109.11,116.71 L109.55,116.89 L109.98,116.76 L110.42,116.66 L110.85,116.56 L111.29,116.65 L111.72,116.56 L112.16,116.72 L112.59,116.84 L113.03,116.70 L113.47,116.38 L113.90,116.35 L114.33,116.48 L114.77,116.59 L115.20,116.39 L115.64,116.10 L116.07,116.12 L116.51,116.48 L116.94,116.33 L117.38,116.57 L117.81,116.47 L118.25,116.19 L118.69,116.18 L119.12,115.97 L119.55,115.88 L119.99,115.93 L120.42,115.80 L120.86,116.13 L121.30,116.21 L121.73,115.86 L122.16,115.41 L122.60,115.82 L123.03,116.07 L123.47,115.77 L123.91,115.51 L124.34,115.95 L124.77,115.56 L125.21,115.80 L125.64,115.40 L126.08,115.46 L126.52,115.51 L126.95,115.15 L127.38,115.58 L127.82,115.60 L128.25,115.08 L128.69,115.56 L129.12,114.94 L129.56,115.33 L130.00,115.49 L130.43,115.25 L130.87,115.19 L131.30,115.14 L131.74,115.18 L132.17,114.90 L132.60,115.52 L133.04,115.14 L133.47,115.05 L133.91,114.61 L134.34,115.31 L134.78,114.96 L135.21,115.07 L135.65,114.95 L136.08,114.66 L136.52,114.67 L136.95,114.43 L137.39,114.79 L137.82,114.58 L138.26,114.37 L138.69,114.39 L139.13,114.59 L139.56,114.27 L140.00,114.63 L140.44,114.07 L140.87,114.35 L141.31,114.37 L141.74,114.26 L142.18,114.11 L142.61,113.91 L143.04,114.23 L143.48,114.24 L143.91,114.02 L144.35,114.26 L144.78,114.39 L145.22,113.87 L145.65,114.06 L146.09,113.74 L146.52,114.12 L146.96,114.44 L147.39,113.80 L147.83,113.79 L148.26,113.48 L148.70,113.65 L149.13,113.65 L149.57,113.57 L150.00,113.72 L150.44,113.60 L150.88,113.84 L151.31,113.44 L151.75,113.66 L152.18,113.56 L152.62,113.31 L153.05,113.23 L153.49,113.56 L153.92,112.95 L154.35,113.42 L154.79,113.11 L155.22,113.05 L155.66,113.16 L156.09,113.13 L156.53,112.79 L156.96,112.93 L157.40,112.98 L157.83,113.38 L158.27,113.14 L158.70,112.74 L159.14,112.89 L159.57,113.08 L160.01,112.98 L160.44,112.89 L160.88,112.66 L161.31,112.69 L161.75,112.53 L162.19,112.85 L162.62,112.47 L163.06,112.72 L163.49,112.65 L163.93,112.22 L164.36,112.51 L164.79,112.52 L165.23,112.50 L165.66,112.50 L166.10,112.09 L166.53,112.09 L166.97,112.18 L167.40,112.25 L167.84,112.05 L168.27,112.24 L168.71,112.10 L169.14,112.08 L169.58,112.10 L170.01,111.77 L170.45,111.72 L170.88,111.77 L171.32,112.35 L171.75,111.60 L172.19,111.79 L172.62,111.97 L173.06,111.86 L173.50,111.60 L173.93,111.56 L174.37,111.59 L174.80,111.69 L175.23,111.68 L175.67,111.49 L176.10,111.64 L176.54,111.76 L176.97,111.67 L177.41,111.55 L177.84,111.42 L178.28,111.02 L178.71,111.69 L179.15,111.30 L179.58,111.37 L180.02,111.27 L180.45,111.03 L180.89,111.02 L181.32,111.25 L181.76,111.30 L182.19,111.42 L182.63,111.14 L183.06,110.85 L183.50,111.11" fill="none" stroke="#2a2ac4" stroke-width="1.35" stroke-linejoin="round" stroke-linecap="round"/>
<path d="M53.00,120.32 L53.44,120.25 L53.87,120.22 L54.30,120.04 L54.74,120.15 L55.17,120.18 L55.61,120.16 L56.05,119.77 L56.48,119.89 L56.91,119.81 L57.35,119.57 L57.78,119.74 L58.22,119.28 L58.66,119.38 L59.09,119.50 L59.52,119.44 L59.96,119.11 L60.39,119.39 L60.83,119.24 L61.27,119.07 L61.70,118.98 L62.13,118.94 L62.57,118.82 L63.00,118.87 L63.44,118.77 L63.88,118.49 L64.31,118.53 L64.75,118.63 L65.18,118.24 L65.61,118.75 L66.05,118.37 L66.48,118.22 L66.92,118.11 L67.36,118.18 L67.79,118.20 L68.22,117.99 L68.66,118.06 L69.09,117.90 L69.53,118.35 L69.97,117.80 L70.40,117.93 L70.83,117.61 L71.27,117.59 L71.70,117.54 L72.14,117.67 L72.58,117.49 L73.01,117.56 L73.44,117.43 L73.88,117.44 L74.31,117.51 L74.75,117.03 L75.19,117.17 L75.62,117.56 L76.06,117.06 L76.49,117.37 L76.92,117.14 L77.36,117.15 L77.80,117.10 L78.23,116.93 L78.66,116.97 L79.10,117.10 L79.53,116.82 L79.97,116.72 L80.41,116.45 L80.84,116.73 L81.28,116.79 L81.71,116.61 L82.14,116.39 L82.58,116.57 L83.02,116.48 L83.45,116.23 L83.88,116.25 L84.32,116.15 L84.75,116.22 L85.19,116.19 L85.62,116.04 L86.06,115.94 L86.50,115.90 L86.93,115.70 L87.36,115.60 L87.80,115.52 L88.23,115.44 L88.67,115.55 L89.10,115.49 L89.54,115.09 L89.97,115.09 L90.41,114.95 L90.84,115.01 L91.28,114.72 L91.72,114.63 L92.15,114.50 L92.58,114.29 L93.02,114.24 L93.45,113.81 L93.89,113.44 L94.32,113.52 L94.76,113.19 L95.19,113.15 L95.63,112.64 L96.06,112.20 L96.50,112.40 L96.94,111.95 L97.37,111.38 L97.81,111.22 L98.24,110.91 L98.67,110.89 L99.11,110.23 L99.54,109.69 L99.98,109.23 L100.41,108.96 L100.85,108.76 L101.28,108.37 L101.72,108.15 L102.16,107.63 L102.59,106.88 L103.03,106.63 L103.46,106.37 L103.89,105.50 L104.33,105.48 L104.76,104.54 L105.20,104.28 L105.63,103.68 L106.07,103.13 L106.50,102.69 L106.94,102.04 L107.38,101.73 L107.81,101.30 L108.25,100.87 L108.68,100.53 L109.11,99.96 L109.55,99.24 L109.98,98.81 L110.42,98.26 L110.85,97.60 L111.29,97.46 L111.72,97.04 L112.16,96.87 L112.59,96.26 L113.03,95.44 L113.47,95.26 L113.90,94.94 L114.33,94.45 L114.77,94.37 L115.20,93.79 L115.64,93.46 L116.07,93.19 L116.51,92.34 L116.94,91.92 L117.38,91.70 L117.81,91.23 L118.25,91.05 L118.69,90.44 L119.12,90.02 L119.55,89.53 L119.99,89.16 L120.42,88.98 L120.86,88.73 L121.30,88.50 L121.73,88.14 L122.16,87.64 L122.60,87.35 L123.03,87.14 L123.47,86.60 L123.91,86.48 L124.34,86.30 L124.77,86.07 L125.21,85.77 L125.64,85.67 L126.08,85.43 L126.52,84.98 L126.95,84.88 L127.38,84.60 L127.82,84.14 L128.25,84.12 L128.69,83.67 L129.12,83.65 L129.56,83.19 L130.00,83.14 L130.43,83.26 L130.87,82.59 L131.30,82.60 L131.74,82.66 L132.17,82.14 L132.60,81.93 L133.04,81.96 L133.47,81.67 L133.91,81.31 L134.34,81.00 L134.78,80.87 L135.21,80.69 L135.65,80.55 L136.08,80.96 L136.52,80.54 L136.95,80.26 L137.39,80.56 L137.82,79.90 L138.26,79.75 L138.69,79.87 L139.13,79.69 L139.56,79.66 L140.00,79.40 L140.44,79.28 L140.87,79.17 L141.31,79.21 L141.74,78.89 L142.18,78.89 L142.61,78.59 L143.04,78.58 L143.48,78.76 L143.91,78.65 L144.35,78.31 L144.78,78.30 L145.22,78.05 L145.65,77.91 L146.09,77.93 L146.52,78.10 L146.96,77.93 L147.39,77.56 L147.83,77.72 L148.26,77.30 L148.70,77.39 L149.13,77.21 L149.57,77.34 L150.00,77.14 L150.44,77.49 L150.88,76.98 L151.31,76.78 L151.75,76.93 L152.18,76.84 L152.62,76.64 L153.05,76.54 L153.49,76.60 L153.92,76.30 L154.35,76.58 L154.79,76.09 L155.22,76.40 L155.66,76.24 L156.09,75.84 L156.53,76.13 L156.96,76.16 L157.40,75.83 L157.83,75.91 L158.27,75.88 L158.70,75.74 L159.14,75.68 L159.57,75.65 L160.01,75.60 L160.44,75.13 L160.88,75.41 L161.31,75.10 L161.75,75.40 L162.19,75.04 L162.62,75.26 L163.06,75.08 L163.49,74.85 L163.93,74.97 L164.36,75.14 L164.79,74.87 L165.23,74.76 L165.66,74.59 L166.10,74.79 L166.53,74.63 L166.97,74.53 L167.40,74.75 L167.84,74.48 L168.27,74.55 L168.71,74.32 L169.14,74.37 L169.58,74.34 L170.01,74.65 L170.45,74.27 L170.88,74.28 L171.32,74.33 L171.75,74.23 L172.19,74.32 L172.62,74.07 L173.06,73.96 L173.50,73.94 L173.93,74.08 L174.37,73.72 L174.80,73.81 L175.23,74.06 L175.67,73.91 L176.10,74.12 L176.54,73.86 L176.97,73.71 L177.41,73.60 L177.84,73.83 L178.28,74.02 L178.71,73.75 L179.15,73.50 L179.58,73.67 L180.02,73.48 L180.45,73.53 L180.89,73.40 L181.32,73.54 L181.76,73.72 L182.19,73.54 L182.63,73.21 L183.06,73.67 L183.50,73.87" fill="none" stroke="#b133b5" stroke-width="1.35" stroke-linejoin="round" stroke-linecap="round"/>
<path d="M53.00,120.43 L53.44,120.34 L53.87,120.25 L54.30,120.16 L54.74,120.07 L55.17,119.98 L55.61,119.90 L56.05,119.81 L56.48,119.73 L56.91,119.64 L57.35,119.56 L57.78,119.48 L58.22,119.40 L58.66,119.32 L59.09,119.24 L59.52,119.16 L59.96,119.08 L60.39,119.00 L60.83,118.93 L61.27,118.85 L61.70,118.78 L62.13,118.71 L62.57,118.63 L63.00,118.56 L63.44,118.49 L63.88,118.42 L64.31,118.35 L64.75,118.29 L65.18,118.22 L65.61,118.15 L66.05,118.09 L66.48,118.03 L66.92,117.96 L67.36,117.90 L67.79,117.84 L68.22,117.78 L68.66,117.72 L69.09,117.66 L69.53,117.61 L69.97,117.55 L70.40,117.50 L70.83,117.46 L71.27,117.42 L71.70,117.39 L72.14,117.36 L72.58,117.33 L73.01,117.30 L73.44,117.28 L73.88,117.25 L74.31,117.23 L74.75,117.20 L75.19,117.17 L75.62,117.14 L76.06,117.11 L76.49,117.08 L76.92,117.03 L77.36,116.99 L77.80,116.94 L78.23,116.88 L78.66,116.82 L79.10,116.74 L79.53,116.66 L79.97,116.57 L80.41,116.47 L80.84,116.27 L81.28,115.75 L81.71,115.03 L82.14,114.25 L82.58,113.28 L83.02,112.11 L83.45,110.77 L83.88,109.31 L84.32,107.76 L84.75,106.15 L85.19,104.53 L85.62,102.75 L86.06,100.71 L86.50,98.53 L86.93,96.32 L87.36,94.20 L87.80,92.29 L88.23,90.71 L88.67,89.36 L89.10,88.10 L89.54,86.91 L89.97,85.80 L90.41,84.75 L90.84,83.76 L91.28,82.83 L91.72,81.95 L92.15,81.12 L92.58,80.34 L93.02,79.59 L93.45,78.86 L93.89,78.16 L94.32,77.49 L94.76,76.84 L95.19,76.22 L95.63,75.62 L96.06,75.04 L96.50,74.50 L96.94,73.97 L97.37,73.48 L97.81,73.01 L98.24,72.56 L98.67,72.14 L99.11,71.74 L99.54,71.35 L99.98,70.97 L100.41,70.62 L100.85,70.27 L101.28,69.93 L101.72,69.61 L102.16,69.30 L102.59,68.99 L103.03,68.70 L103.46,68.41 L103.89,68.13 L104.33,67.86 L104.76,67.59 L105.20,67.33 L105.63,67.07 L106.07,66.81 L106.50,66.56 L106.94,66.29 L107.38,66.03 L107.81,65.77 L108.25,65.51 L108.68,65.26 L109.11,65.02 L109.55,64.78 L109.98,64.56 L110.42,64.35 L110.85,64.15 L111.29,63.97 L111.72,63.81 L112.16,63.67 L112.59,63.55 L113.03,63.46 L113.47,63.37 L113.90,63.28 L114.33,63.20 L114.77,63.13 L115.20,63.05 L115.64,62.99 L116.07,62.92 L116.51,62.86 L116.94,62.80 L117.38,62.75 L117.81,62.70 L118.25,62.65 L118.69,62.60 L119.12,62.55 L119.55,62.50 L119.99,62.46 L120.42,62.41 L120.86,62.37 L121.30,62.32 L121.73,62.27 L122.16,62.23 L122.60,62.18 L123.03,62.13 L123.47,62.08 L123.91,62.02 L124.34,61.97 L124.77,61.91 L125.21,61.85 L125.64,61.78 L126.08,61.72 L126.52,61.65 L126.95,61.58 L127.38,61.51 L127.82,61.44 L128.25,61.37 L128.69,61.30 L129.12,61.24 L129.56,61.17 L130.00,61.11 L130.43,61.04 L130.87,60.98 L131.30,60.92 L131.74,60.87 L132.17,60.82 L132.60,60.77 L133.04,60.73 L133.47,60.68 L133.91,60.64 L134.34,60.59 L134.78,60.55 L135.21,60.51 L135.65,60.46 L136.08,60.42 L136.52,60.38 L136.95,60.34 L137.39,60.30 L137.82,60.26 L138.26,60.22 L138.69,60.19 L139.13,60.16 L139.56,60.13 L140.00,60.10 L140.44,60.07 L140.87,60.05 L141.31,60.03 L141.74,60.02 L142.18,60.00 L142.61,59.99 L143.04,59.99 L143.48,59.98 L143.91,59.98 L144.35,59.97 L144.78,59.96 L145.22,59.96 L145.65,59.95 L146.09,59.95 L146.52,59.94 L146.96,59.94 L147.39,59.93 L147.83,59.93 L148.26,59.93 L148.70,59.92 L149.13,59.92 L149.57,59.91 L150.00,59.91 L150.44,59.90 L150.88,59.90 L151.31,59.90 L151.75,59.89 L152.18,59.89 L152.62,59.88 L153.05,59.88 L153.49,59.88 L153.92,59.87 L154.35,59.87 L154.79,59.86 L155.22,59.86 L155.66,59.86 L156.09,59.85 L156.53,59.85 L156.96,59.85 L157.40,59.84 L157.83,59.84 L158.27,59.84 L158.70,59.84 L159.14,59.83 L159.57,59.83 L160.01,59.83 L160.44,59.82 L160.88,59.82 L161.31,59.82 L161.75,59.82 L162.19,59.81 L162.62,59.81 L163.06,59.81 L163.49,59.81 L163.93,59.80 L164.36,59.80 L164.79,59.80 L165.23,59.80 L165.66,59.80 L166.10,59.79 L166.53,59.79 L166.97,59.79 L167.40,59.79 L167.84,59.79 L168.27,59.78 L168.71,59.78 L169.14,59.78 L169.58,59.78 L170.01,59.78 L170.45,59.78 L170.88,59.78 L171.32,59.77 L171.75,59.77 L172.19,59.77 L172.62,59.77 L173.06,59.77 L173.50,59.77 L173.93,59.77 L174.37,59.77 L174.80,59.77 L175.23,59.77 L175.67,59.76 L176.10,59.76 L176.54,59.76 L176.97,59.76 L177.41,59.76 L177.84,59.76 L178.28,59.76 L178.71,59.76 L179.15,59.76 L179.58,59.76 L180.02,59.76 L180.45,59.76 L180.89,59.76 L181.32,59.76 L181.76,59.76 L182.19,59.76 L182.63,59.76 L183.06,59.76 L183.50,59.76" fill="none" stroke="#dd2a25" stroke-width="1.35" stroke-linejoin="round" stroke-linecap="round"/>
<path d="M53.00,120.43 L53.44,120.39 L53.87,120.35 L54.30,120.30 L54.74,120.25 L55.17,120.20 L55.61,120.15 L56.05,120.10 L56.48,120.04 L56.91,119.98 L57.35,119.92 L57.78,119.86 L58.22,119.79 L58.66,119.73 L59.09,119.66 L59.52,119.59 L59.96,119.51 L60.39,119.44 L60.83,119.37 L61.27,119.29 L61.70,119.21 L62.13,119.13 L62.57,119.05 L63.00,118.97 L63.44,118.89 L63.88,118.80 L64.31,118.72 L64.75,118.63 L65.18,118.54 L65.61,118.45 L66.05,118.36 L66.48,118.27 L66.92,118.18 L67.36,118.09 L67.79,118.00 L68.22,117.90 L68.66,117.81 L69.09,117.71 L69.53,117.62 L69.97,117.53 L70.40,117.45 L70.83,117.36 L71.27,117.27 L71.70,117.15 L72.14,117.01 L72.58,116.82 L73.01,116.40 L73.44,115.65 L73.88,114.63 L74.31,113.46 L74.75,112.21 L75.19,110.72 L75.62,108.83 L76.06,106.67 L76.49,104.34 L76.92,101.98 L77.36,99.70 L77.80,97.62 L78.23,95.68 L78.66,93.77 L79.10,91.89 L79.53,90.06 L79.97,88.30 L80.41,86.63 L80.84,85.04 L81.28,83.47 L81.71,81.94 L82.14,80.50 L82.58,79.17 L83.02,78.00 L83.45,76.99 L83.88,76.03 L84.32,75.13 L84.75,74.27 L85.19,73.48 L85.62,72.74 L86.06,72.07 L86.50,71.45 L86.93,70.91 L87.36,70.42 L87.80,69.95 L88.23,69.50 L88.67,69.07 L89.10,68.66 L89.54,68.27 L89.97,67.89 L90.41,67.54 L90.84,67.20 L91.28,66.88 L91.72,66.59 L92.15,66.31 L92.58,66.04 L93.02,65.80 L93.45,65.57 L93.89,65.36 L94.32,65.17 L94.76,64.98 L95.19,64.80 L95.63,64.62 L96.06,64.45 L96.50,64.29 L96.94,64.13 L97.37,63.98 L97.81,63.83 L98.24,63.69 L98.67,63.56 L99.11,63.43 L99.54,63.30 L99.98,63.18 L100.41,63.06 L100.85,62.95 L101.28,62.84 L101.72,62.74 L102.16,62.64 L102.59,62.54 L103.03,62.44 L103.46,62.35 L103.89,62.26 L104.33,62.18 L104.76,62.09 L105.20,62.01 L105.63,61.93 L106.07,61.86 L106.50,61.79 L106.94,61.72 L107.38,61.65 L107.81,61.58 L108.25,61.51 L108.68,61.45 L109.11,61.39 L109.55,61.33 L109.98,61.27 L110.42,61.21 L110.85,61.15 L111.29,61.09 L111.72,61.04 L112.16,60.98 L112.59,60.92 L113.03,60.87 L113.47,60.81 L113.90,60.76 L114.33,60.70 L114.77,60.64 L115.20,60.58 L115.64,60.51 L116.07,60.45 L116.51,60.39 L116.94,60.32 L117.38,60.26 L117.81,60.20 L118.25,60.14 L118.69,60.08 L119.12,60.03 L119.55,59.98 L119.99,59.93 L120.42,59.89 L120.86,59.85 L121.30,59.82 L121.73,59.79 L122.16,59.77 L122.60,59.76 L123.03,59.75 L123.47,59.74 L123.91,59.73 L124.34,59.72 L124.77,59.71 L125.21,59.70 L125.64,59.70 L126.08,59.69 L126.52,59.68 L126.95,59.67 L127.38,59.66 L127.82,59.66 L128.25,59.65 L128.69,59.64 L129.12,59.63 L129.56,59.62 L130.00,59.62 L130.43,59.61 L130.87,59.60 L131.30,59.59 L131.74,59.59 L132.17,59.58 L132.60,59.57 L133.04,59.57 L133.47,59.56 L133.91,59.55 L134.34,59.55 L134.78,59.54 L135.21,59.53 L135.65,59.53 L136.08,59.52 L136.52,59.51 L136.95,59.51 L137.39,59.50 L137.82,59.49 L138.26,59.49 L138.69,59.48 L139.13,59.48 L139.56,59.47 L140.00,59.47 L140.44,59.46 L140.87,59.45 L141.31,59.45 L141.74,59.44 L142.18,59.44 L142.61,59.43 L143.04,59.43 L143.48,59.42 L143.91,59.42 L144.35,59.41 L144.78,59.41 L145.22,59.40 L145.65,59.40 L146.09,59.39 L146.52,59.39 L146.96,59.39 L147.39,59.38 L147.83,59.38 L148.26,59.37 L148.70,59.37 L149.13,59.36 L149.57,59.36 L150.00,59.36 L150.44,59.35 L150.88,59.35 L151.31,59.34 L151.75,59.34 L152.18,59.34 L152.62,59.33 L153.05,59.33 L153.49,59.33 L153.92,59.32 L154.35,59.32 L154.79,59.32 L155.22,59.31 L155.66,59.31 L156.09,59.31 L156.53,59.30 L156.96,59.30 L157.40,59.30 L157.83,59.30 L158.27,59.29 L158.70,59.29 L159.14,59.29 L159.57,59.28 L160.01,59.28 L160.44,59.28 L160.88,59.28 L161.31,59.27 L161.75,59.27 L162.19,59.27 L162.62,59.27 L163.06,59.27 L163.49,59.26 L163.93,59.26 L164.36,59.26 L164.79,59.26 L165.23,59.26 L165.66,59.25 L166.10,59.25 L166.53,59.25 L166.97,59.25 L167.40,59.25 L167.84,59.25 L168.27,59.24 L168.71,59.24 L169.14,59.24 L169.58,59.24 L170.01,59.24 L170.45,59.24 L170.88,59.24 L171.32,59.24 L171.75,59.23 L172.19,59.23 L172.62,59.23 L173.06,59.23 L173.50,59.23 L173.93,59.23 L174.37,59.23 L174.80,59.23 L175.23,59.23 L175.67,59.23 L176.10,59.23 L176.54,59.22 L176.97,59.22 L177.41,59.22 L177.84,59.22 L178.28,59.22 L178.71,59.22 L179.15,59.22 L179.58,59.22 L180.02,59.22 L180.45,59.22 L180.89,59.22 L181.32,59.22 L181.76,59.22 L182.19,59.22 L182.63,59.22 L183.06,59.22 L183.50,59.22" fill="none" stroke="#f2c21e" stroke-width="1.35" stroke-linejoin="round" stroke-linecap="round"/>
<path d="M53.00,119.94 L53.44,120.33 L53.87,120.57 L54.30,120.56 L54.74,120.76 L55.17,120.23 L55.61,120.34 L56.05,120.50 L56.48,120.42 L56.91,120.40 L57.35,120.02 L57.78,120.27 L58.22,119.87 L58.66,120.34 L59.09,120.24 L59.52,120.16 L59.96,120.12 L60.39,119.96 L60.83,119.64 L61.27,119.53 L61.70,119.98 L62.13,119.36 L62.57,119.56 L63.00,119.13 L63.44,119.44 L63.88,119.50 L64.31,119.03 L64.75,118.96 L65.18,119.11 L65.61,118.88 L66.05,118.74 L66.48,118.57 L66.92,118.91 L67.36,118.66 L67.79,118.23 L68.22,118.04 L68.66,118.08 L69.09,118.21 L69.53,117.33 L69.97,117.45 L70.40,117.06 L70.83,115.70 L71.27,114.80 L71.70,113.59 L72.14,112.20 L72.58,110.64 L73.01,109.22 L73.44,106.84 L73.88,103.78 L74.31,100.43 L74.75,97.51 L75.19,95.27 L75.62,92.67 L76.06,90.26 L76.49,88.13 L76.92,86.51 L77.36,85.12 L77.80,83.49 L78.23,81.76 L78.66,80.56 L79.10,79.25 L79.53,78.75 L79.97,77.43 L80.41,76.21 L80.84,76.01 L81.28,75.01 L81.71,74.43 L82.14,73.14 L82.58,72.86 L83.02,72.51 L83.45,71.88 L83.88,71.50 L84.32,70.87 L84.75,70.43 L85.19,70.12 L85.62,69.91 L86.06,69.49 L86.50,69.16 L86.93,68.77 L87.36,69.16 L87.80,68.36 L88.23,68.12 L88.67,67.81 L89.10,67.62 L89.54,67.30 L89.97,66.89 L90.41,66.69 L90.84,66.45 L91.28,66.48 L91.72,66.28 L92.15,65.94 L92.58,65.96 L93.02,65.47 L93.45,65.35 L93.89,65.39 L94.32,65.26 L94.76,64.76 L95.19,64.64 L95.63,63.86 L96.06,64.02 L96.50,64.26 L96.94,64.06 L97.37,64.06 L97.81,63.88 L98.24,63.66 L98.67,63.47 L99.11,63.49 L99.54,63.05 L99.98,62.98 L100.41,62.57 L100.85,63.21 L101.28,62.65 L101.72,62.78 L102.16,62.96 L102.59,62.55 L103.03,62.75 L103.46,62.26 L103.89,61.51 L104.33,61.72 L104.76,61.48 L105.20,61.50 L105.63,62.01 L106.07,61.43 L106.50,61.37 L106.94,61.18 L107.38,61.40 L107.81,61.51 L108.25,60.45 L108.68,60.56 L109.11,60.66 L109.55,60.75 L109.98,60.51 L110.42,60.76 L110.85,60.18 L111.29,60.31 L111.72,60.33 L112.16,60.35 L112.59,60.23 L113.03,60.14 L113.47,60.22 L113.90,59.87 L114.33,60.01 L114.77,60.04 L115.20,60.18 L115.64,59.67 L116.07,59.62 L116.51,59.73 L116.94,60.28 L117.38,59.90 L117.81,59.57 L118.25,59.76 L118.69,59.45 L119.12,59.82 L119.55,59.51 L119.99,59.55 L120.42,60.22 L120.86,59.73 L121.30,59.67 L121.73,59.74 L122.16,59.79 L122.60,59.21 L123.03,59.59 L123.47,59.37 L123.91,59.85 L124.34,60.01 L124.77,59.64 L125.21,59.43 L125.64,59.68 L126.08,59.39 L126.52,59.32 L126.95,59.61 L127.38,59.51 L127.82,59.66 L128.25,59.24 L128.69,59.08 L129.12,59.36 L129.56,59.59 L130.00,59.63 L130.43,59.53 L130.87,59.26 L131.30,59.63 L131.74,59.11 L132.17,59.73 L132.60,59.45 L133.04,59.14 L133.47,59.02 L133.91,59.52 L134.34,59.24 L134.78,58.84 L135.21,59.15 L135.65,59.92 L136.08,59.35 L136.52,58.86 L136.95,59.67 L137.39,59.19 L137.82,59.88 L138.26,59.03 L138.69,59.58 L139.13,59.20 L139.56,59.17 L140.00,60.02 L140.44,59.70 L140.87,59.30 L141.31,59.72 L141.74,59.37 L142.18,59.58 L142.61,59.05 L143.04,59.47 L143.48,59.56 L143.91,59.20 L144.35,59.06 L144.78,59.38 L145.22,59.28 L145.65,59.22 L146.09,59.45 L146.52,59.60 L146.96,59.21 L147.39,59.41 L147.83,59.64 L148.26,59.12 L148.70,59.22 L149.13,59.28 L149.57,59.49 L150.00,59.36 L150.44,59.17 L150.88,59.19 L151.31,59.49 L151.75,59.51 L152.18,59.22 L152.62,59.25 L153.05,59.10 L153.49,59.56 L153.92,59.08 L154.35,58.88 L154.79,59.07 L155.22,59.25 L155.66,59.07 L156.09,59.58 L156.53,59.38 L156.96,58.80 L157.40,59.65 L157.83,59.54 L158.27,59.08 L158.70,59.42 L159.14,59.40 L159.57,59.52 L160.01,58.87 L160.44,59.40 L160.88,59.32 L161.31,59.68 L161.75,59.08 L162.19,59.26 L162.62,59.14 L163.06,58.89 L163.49,59.21 L163.93,59.52 L164.36,59.48 L164.79,59.23 L165.23,58.94 L165.66,59.52 L166.10,59.30 L166.53,59.27 L166.97,59.09 L167.40,59.44 L167.84,59.17 L168.27,59.06 L168.71,59.24 L169.14,59.26 L169.58,59.09 L170.01,59.10 L170.45,58.94 L170.88,59.48 L171.32,58.95 L171.75,59.28 L172.19,59.49 L172.62,59.36 L173.06,59.51 L173.50,59.27 L173.93,58.99 L174.37,59.74 L174.80,59.50 L175.23,59.05 L175.67,59.29 L176.10,59.04 L176.54,59.53 L176.97,59.24 L177.41,59.82 L177.84,59.42 L178.28,59.05 L178.71,58.94 L179.15,58.85 L179.58,59.23 L180.02,59.42 L180.45,59.31 L180.89,59.66 L181.32,58.91 L181.76,58.95 L182.19,59.43 L182.63,58.80 L183.06,59.53 L183.50,59.09" fill="none" stroke="#111111" stroke-width="1.6" stroke-linejoin="round" stroke-linecap="round"/>
<path d="M53.00,120.62 L53.44,120.83 L53.87,120.33 L54.30,120.68 L54.74,120.12 L55.17,120.59 L55.61,120.34 L56.05,120.45 L56.48,120.28 L56.91,120.42 L57.35,120.05 L57.78,120.06 L58.22,120.14 L58.66,120.13 L59.09,119.60 L59.52,120.16 L59.96,120.04 L60.39,119.69 L60.83,119.81 L61.27,120.11 L61.70,119.69 L62.13,119.67 L62.57,119.73 L63.00,119.36 L63.44,119.58 L63.88,119.28 L64.31,119.39 L64.75,118.66 L65.18,118.98 L65.61,118.70 L66.05,118.63 L66.48,118.41 L66.92,118.49 L67.36,118.15 L67.79,118.17 L68.22,118.63 L68.66,117.85 L69.09,118.08 L69.53,117.42 L69.97,117.40 L70.40,117.20 L70.83,117.23 L71.27,116.42 L71.70,115.22 L72.14,113.82 L72.58,112.63 L73.01,110.26 L73.44,108.87 L73.88,106.89 L74.31,104.11 L74.75,100.67 L75.19,97.67 L75.62,95.14 L76.06,92.55 L76.49,90.00 L76.92,88.49 L77.36,86.25 L77.80,84.45 L78.23,83.52 L78.66,81.87 L79.10,80.65 L79.53,79.65 L79.97,78.10 L80.41,77.41 L80.84,76.15 L81.28,75.46 L81.71,74.83 L82.14,73.98 L82.58,73.50 L83.02,73.25 L83.45,72.05 L83.88,71.83 L84.32,71.22 L84.75,71.49 L85.19,70.45 L85.62,70.14 L86.06,70.00 L86.50,70.15 L86.93,69.32 L87.36,69.19 L87.80,68.78 L88.23,68.42 L88.67,68.35 L89.10,67.88 L89.54,67.56 L89.97,66.94 L90.41,67.03 L90.84,66.20 L91.28,66.75 L91.72,66.26 L92.15,65.71 L92.58,66.13 L93.02,65.41 L93.45,65.26 L93.89,65.30 L94.32,65.04 L94.76,64.46 L95.19,64.76 L95.63,64.44 L96.06,64.26 L96.50,63.94 L96.94,64.56 L97.37,64.29 L97.81,64.13 L98.24,63.76 L98.67,63.44 L99.11,63.27 L99.54,63.42 L99.98,62.89 L100.41,63.14 L100.85,62.86 L101.28,63.09 L101.72,62.61 L102.16,62.86 L102.59,62.32 L103.03,62.28 L103.46,61.94 L103.89,62.35 L104.33,62.41 L104.76,61.83 L105.20,61.83 L105.63,61.90 L106.07,61.97 L106.50,61.35 L106.94,61.87 L107.38,61.41 L107.81,60.94 L108.25,61.13 L108.68,60.85 L109.11,60.74 L109.55,60.62 L109.98,60.41 L110.42,60.42 L110.85,60.57 L111.29,60.70 L111.72,60.42 L112.16,60.45 L112.59,60.15 L113.03,59.91 L113.47,59.97 L113.90,60.26 L114.33,60.01 L114.77,60.01 L115.20,60.08 L115.64,59.63 L116.07,59.74 L116.51,59.76 L116.94,60.09 L117.38,60.37 L117.81,59.90 L118.25,59.44 L118.69,59.72 L119.12,59.64 L119.55,59.67 L119.99,59.47 L120.42,59.55 L120.86,59.13 L121.30,59.53 L121.73,59.54 L122.16,59.13 L122.60,59.27 L123.03,59.26 L123.47,59.29 L123.91,59.40 L124.34,59.31 L124.77,59.25 L125.21,59.34 L125.64,59.79 L126.08,59.03 L126.52,59.45 L126.95,59.46 L127.38,59.40 L127.82,59.48 L128.25,59.51 L128.69,59.32 L129.12,59.09 L129.56,59.35 L130.00,59.17 L130.43,59.58 L130.87,59.09 L131.30,59.52 L131.74,59.09 L132.17,59.41 L132.60,59.37 L133.04,59.51 L133.47,59.51 L133.91,59.26 L134.34,59.43 L134.78,59.25 L135.21,58.93 L135.65,59.38 L136.08,59.25 L136.52,59.19 L136.95,59.31 L137.39,59.17 L137.82,59.10 L138.26,58.91 L138.69,59.31 L139.13,59.18 L139.56,59.16 L140.00,58.84 L140.44,59.35 L140.87,59.07 L141.31,58.93 L141.74,58.96 L142.18,59.25 L142.61,59.32 L143.04,59.51 L143.48,59.20 L143.91,59.13 L144.35,59.41 L144.78,58.86 L145.22,59.02 L145.65,59.10 L146.09,59.17 L146.52,58.93 L146.96,59.10 L147.39,58.91 L147.83,59.13 L148.26,58.78 L148.70,59.39 L149.13,59.26 L149.57,58.59 L150.00,58.76 L150.44,58.62 L150.88,59.17 L151.31,58.82 L151.75,58.75 L152.18,58.77 L152.62,59.02 L153.05,58.63 L153.49,58.87 L153.92,59.26 L154.35,58.39 L154.79,58.93 L155.22,58.66 L155.66,59.11 L156.09,59.16 L156.53,58.74 L156.96,58.75 L157.40,59.11 L157.83,58.87 L158.27,59.23 L158.70,59.40 L159.14,58.67 L159.57,59.18 L160.01,58.74 L160.44,58.67 L160.88,58.82 L161.31,58.56 L161.75,58.82 L162.19,58.83 L162.62,58.90 L163.06,58.80 L163.49,58.81 L163.93,59.11 L164.36,58.90 L164.79,58.97 L165.23,58.23 L165.66,58.60 L166.10,59.06 L166.53,58.74 L166.97,59.28 L167.40,58.86 L167.84,58.45 L168.27,58.85 L168.71,58.57 L169.14,58.95 L169.58,58.76 L170.01,58.78 L170.45,59.37 L170.88,59.04 L171.32,58.42 L171.75,59.05 L172.19,58.58 L172.62,58.46 L173.06,58.86 L173.50,58.62 L173.93,58.76 L174.37,58.98 L174.80,58.71 L175.23,58.75 L175.67,59.07 L176.10,58.95 L176.54,59.15 L176.97,58.92 L177.41,58.85 L177.84,59.07 L178.28,59.27 L178.71,58.68 L179.15,58.55 L179.58,59.05 L180.02,58.82 L180.45,58.99 L180.89,59.44 L181.32,58.35 L181.76,58.77 L182.19,59.16 L182.63,58.54 L183.06,58.67 L183.50,58.51" fill="none" stroke="#2fa23a" stroke-width="1.3" stroke-linejoin="round" stroke-linecap="round"/>
<path d="M53.00,120.32 L53.44,120.31 L53.87,120.12 L54.30,120.34 L54.74,120.21 L55.17,120.36 L55.61,120.32 L56.05,120.06 L56.48,120.00 L56.91,120.23 L57.35,119.87 L57.78,119.71 L58.22,120.00 L58.66,119.80 L59.09,119.42 L59.52,119.75 L59.96,119.47 L60.39,119.37 L60.83,119.40 L61.27,119.34 L61.70,119.20 L62.13,119.18 L62.57,119.13 L63.00,119.30 L63.44,118.97 L63.88,119.05 L64.31,118.63 L64.75,118.44 L65.18,118.54 L65.61,118.96 L66.05,118.40 L66.48,118.46 L66.92,118.57 L67.36,118.51 L67.79,118.08 L68.22,118.26 L68.66,118.09 L69.09,117.99 L69.53,117.78 L69.97,118.25 L70.40,117.56 L70.83,117.78" fill="none" stroke="#b133b5" stroke-width="1.6" stroke-linejoin="round" stroke-linecap="round"/>
<path d="M228.54,123.73 L229.32,123.64 L230.09,123.54 L230.87,123.44 L231.65,123.35" fill="none" stroke="#2a2ac4" stroke-width="1.25" stroke-linejoin="round" stroke-linecap="round"/>
<path d="M231.65,118.07 L232.12,117.83 L232.58,117.89 L233.05,118.50 L233.52,117.83 L233.98,118.01 L234.45,118.21 L234.92,118.11 L235.38,118.34 L235.85,117.79 L236.31,117.44 L236.78,117.18 L237.25,116.24 L237.71,115.40 L238.18,113.91 L238.65,112.44 L239.11,110.42 L239.58,107.73 L240.05,105.15 L240.51,102.19 L240.98,99.60 L241.45,96.14 L241.91,93.16 L242.38,89.80 L242.85,86.25 L243.31,83.73 L243.78,80.58 L244.25,78.69 L244.71,76.63 L245.18,74.58 L245.65,73.68 L246.11,72.16 L246.58,71.01 L247.04,70.59 L247.51,69.96 L247.98,68.94 L248.44,68.87 L248.91,67.99 L249.38,67.68 L249.84,67.02 L250.31,66.82 L250.78,66.08 L251.24,65.69 L251.71,65.04 L252.18,65.16 L252.64,64.61 L253.11,64.77 L253.58,64.20 L254.04,63.63 L254.51,63.69 L254.97,63.09 L255.44,62.97 L255.91,62.36 L256.37,62.05 L256.84,62.02 L257.31,61.49 L257.77,61.50 L258.24,61.09 L258.71,60.74 L259.17,60.49 L259.64,60.24 L260.11,59.74 L260.57,60.03 L261.04,59.66 L261.51,59.80 L261.97,58.93 L262.44,59.15 L262.91,58.80 L263.37,58.55 L263.84,58.13 L264.31,58.10 L264.77,57.92 L265.24,57.68 L265.70,57.64 L266.17,57.46 L266.64,57.58 L267.10,57.39 L267.57,57.45 L268.04,56.89 L268.50,56.79 L268.97,56.76 L269.44,56.76 L269.90,56.89 L270.37,56.55 L270.84,56.96 L271.30,57.11 L271.77,56.74 L272.24,56.06 L272.70,56.28 L273.17,55.92 L273.63,56.39 L274.10,55.94 L274.57,55.75 L275.03,55.84 L275.50,55.96 L275.97,55.74 L276.43,56.05 L276.90,55.50 L277.37,56.14 L277.83,56.02 L278.30,55.82 L278.77,55.98 L279.23,55.38 L279.70,55.61 L280.17,55.92 L280.63,55.36 L281.10,55.42 L281.57,55.81 L282.03,55.36 L282.50,55.43 L282.97,55.82 L283.43,55.82 L283.90,55.62 L284.36,55.42 L284.83,55.31 L285.30,55.32 L285.76,55.78 L286.23,56.07 L286.70,56.04 L287.16,55.30 L287.63,55.40 L288.10,55.37 L288.56,55.64 L289.03,55.62 L289.50,55.52 L289.96,55.52 L290.43,55.60 L290.90,55.84 L291.36,55.93 L291.83,55.57 L292.30,55.64 L292.76,55.27 L293.23,55.83 L293.69,56.04 L294.16,56.03 L294.63,55.57 L295.09,55.17 L295.56,55.62 L296.03,55.70 L296.49,55.43 L296.96,55.15 L297.43,55.24 L297.89,55.26 L298.36,55.23 L298.83,55.48 L299.29,55.37 L299.76,55.26 L300.23,54.90 L300.69,55.80 L301.16,55.38 L301.62,55.13 L302.09,55.24 L302.56,55.17 L303.02,55.16 L303.49,55.28 L303.96,54.91 L304.42,54.69 L304.89,55.03 L305.36,54.81 L305.82,54.61 L306.29,54.98 L306.76,54.81 L307.22,55.06 L307.69,54.36 L308.16,54.29 L308.62,54.71 L309.09,54.17 L309.56,54.41 L310.02,55.00 L310.49,54.44 L310.95,54.47 L311.42,54.38 L311.89,54.31 L312.35,54.55 L312.82,54.16 L313.29,54.32 L313.75,53.93 L314.22,54.37 L314.69,54.90 L315.15,53.85 L315.62,54.14 L316.09,54.67 L316.55,54.36 L317.02,54.38 L317.49,53.96 L317.95,54.30 L318.42,53.86 L318.89,54.22 L319.35,53.86 L319.82,54.20 L320.29,54.32 L320.75,53.88 L321.22,54.05 L321.68,53.86 L322.15,54.34 L322.62,54.18 L323.08,54.00 L323.55,53.45 L324.02,53.79 L324.48,54.25 L324.95,54.57" fill="none" stroke="#2a2ac4" stroke-width="1.35" stroke-linejoin="round" stroke-linecap="round"/>
<path d="M231.65,117.61 L232.12,117.91 L232.58,118.22 L233.05,117.78 L233.52,117.81 L233.98,117.56 L234.45,117.93 L234.92,118.07 L235.38,117.81 L235.85,118.18 L236.31,117.41 L236.78,116.63 L237.25,115.57 L237.71,114.48 L238.18,113.05 L238.65,111.27 L239.11,108.73 L239.58,105.90 L240.05,102.69 L240.51,99.33 L240.98,96.12 L241.45,92.79 L241.91,89.10 L242.38,86.31 L242.85,83.66 L243.31,81.40 L243.78,78.81 L244.25,76.68 L244.71,75.76 L245.18,73.65 L245.65,72.93 L246.11,71.69 L246.58,70.90 L247.04,70.44 L247.51,69.83 L247.98,69.08 L248.44,68.03 L248.91,68.30 L249.38,67.69 L249.84,67.25 L250.31,66.87 L250.78,66.25 L251.24,65.75 L251.71,65.87 L252.18,65.54 L252.64,65.48 L253.11,64.95 L253.58,65.11 L254.04,64.83 L254.51,64.87 L254.97,64.49 L255.44,64.61 L255.91,64.65 L256.37,64.02 L256.84,64.67 L257.31,64.18 L257.77,64.20 L258.24,64.22 L258.71,63.57 L259.17,63.84 L259.64,63.91 L260.11,63.93 L260.57,63.62 L261.04,63.62 L261.51,63.59 L261.97,63.61 L262.44,63.13 L262.91,63.32 L263.37,63.34 L263.84,63.49 L264.31,63.35 L264.77,63.02 L265.24,63.26 L265.70,62.96 L266.17,63.08 L266.64,62.96 L267.10,62.95 L267.57,63.08 L268.04,63.03 L268.50,62.98 L268.97,62.82 L269.44,62.47 L269.90,62.75 L270.37,63.16 L270.84,62.47 L271.30,62.91 L271.77,63.01 L272.24,62.84 L272.70,62.86 L273.17,62.79 L273.63,62.84 L274.10,62.83 L274.57,62.57 L275.03,62.48 L275.50,62.77 L275.97,62.48 L276.43,62.59 L276.90,62.53 L277.37,62.70 L277.83,62.70 L278.30,62.57 L278.77,62.90 L279.23,62.69 L279.70,62.90 L280.17,62.49 L280.63,62.61 L281.10,62.51 L281.57,62.67 L282.03,62.74 L282.50,62.38 L282.97,62.63 L283.43,62.57 L283.90,62.49 L284.36,62.39 L284.83,62.44 L285.30,62.63 L285.76,62.61 L286.23,62.18 L286.70,62.42 L287.16,62.38 L287.63,62.47 L288.10,62.10 L288.56,62.16 L289.03,62.33 L289.50,62.53 L289.96,61.83 L290.43,62.26 L290.90,62.35 L291.36,62.20 L291.83,62.30 L292.30,62.06 L292.76,62.15 L293.23,62.25 L293.69,61.87 L294.16,62.14 L294.63,62.32 L295.09,61.88 L295.56,62.03 L296.03,62.12 L296.49,62.21 L296.96,62.01 L297.43,61.98 L297.89,61.94 L298.36,61.93 L298.83,61.57 L299.29,61.60 L299.76,61.73 L300.23,61.66 L300.69,61.85 L301.16,62.02 L301.62,61.63 L302.09,61.45 L302.56,61.83 L303.02,61.82 L303.49,61.81 L303.96,61.91 L304.42,61.54 L304.89,61.84 L305.36,61.35 L305.82,61.28 L306.29,61.57 L306.76,61.58 L307.22,61.73 L307.69,61.38 L308.16,61.52 L308.62,61.81 L309.09,61.69 L309.56,61.41 L310.02,61.58 L310.49,61.39 L310.95,61.42 L311.42,61.18 L311.89,61.46 L312.35,61.23 L312.82,61.21 L313.29,61.15 L313.75,61.46 L314.22,61.33 L314.69,60.89 L315.15,61.40 L315.62,61.47 L316.09,61.32 L316.55,61.56 L317.02,61.49 L317.49,61.40 L317.95,61.37 L318.42,61.11 L318.89,61.51 L319.35,61.32 L319.82,61.23 L320.29,61.33 L320.75,61.12 L321.22,60.83 L321.68,61.46 L322.15,61.41 L322.62,61.34 L323.08,61.34 L323.55,61.33 L324.02,61.14 L324.48,60.89 L324.95,60.74" fill="none" stroke="#2fa23a" stroke-width="1.35" stroke-linejoin="round" stroke-linecap="round"/>
<path d="M231.65,117.99 L232.12,118.52 L232.58,117.55 L233.05,117.97 L233.52,118.08 L233.98,117.68 L234.45,118.00 L234.92,118.03 L235.38,118.21 L235.85,117.67 L236.31,117.09 L236.78,116.66 L237.25,115.61 L237.71,113.90 L238.18,112.96 L238.65,111.17 L239.11,109.01 L239.58,105.97 L240.05,102.45 L240.51,99.41 L240.98,96.00 L241.45,92.72 L241.91,90.04 L242.38,86.37 L242.85,83.74 L243.31,81.75 L243.78,78.81 L244.25,76.97 L244.71,75.33 L245.18,73.67 L245.65,72.46 L246.11,71.58 L246.58,71.09 L247.04,70.23 L247.51,68.93 L247.98,69.37 L248.44,68.48 L248.91,68.01 L249.38,67.17 L249.84,66.98 L250.31,66.70 L250.78,66.46 L251.24,65.70 L251.71,65.69 L252.18,65.41 L252.64,65.03 L253.11,64.60 L253.58,64.48 L254.04,64.15 L254.51,63.73 L254.97,63.88 L255.44,63.49 L255.91,63.17 L256.37,62.77 L256.84,62.57 L257.31,62.63 L257.77,62.57 L258.24,62.19 L258.71,62.03 L259.17,61.47 L259.64,61.35 L260.11,61.33 L260.57,61.46 L261.04,61.35 L261.51,60.80 L261.97,60.51 L262.44,60.41 L262.91,60.43 L263.37,60.06 L263.84,60.61 L264.31,59.64 L264.77,59.42 L265.24,59.67 L265.70,59.55 L266.17,59.58 L266.64,59.20 L267.10,59.61 L267.57,59.44 L268.04,59.11 L268.50,59.52 L268.97,58.94 L269.44,58.88 L269.90,58.94 L270.37,59.01 L270.84,58.35 L271.30,58.90 L271.77,58.66 L272.24,58.43 L272.70,58.59 L273.17,58.25 L273.63,58.48 L274.10,58.37 L274.57,58.39 L275.03,58.16 L275.50,58.47 L275.97,58.01 L276.43,57.93 L276.90,58.45 L277.37,58.53 L277.83,58.44 L278.30,58.26 L278.77,57.82 L279.23,57.95 L279.70,57.42 L280.17,57.46 L280.63,58.26 L281.10,57.92 L281.57,57.85 L282.03,57.30 L282.50,57.49 L282.97,57.41 L283.43,57.84 L283.90,57.04 L284.36,57.84 L284.83,57.50 L285.30,57.73 L285.76,57.68 L286.23,57.34 L286.70,57.61 L287.16,57.15 L287.63,57.16 L288.10,57.26 L288.56,57.07 L289.03,56.91 L289.50,56.89 L289.96,57.46 L290.43,56.95 L290.90,56.86 L291.36,57.18 L291.83,57.16 L292.30,56.71 L292.76,56.83 L293.23,56.96 L293.69,56.59 L294.16,56.71 L294.63,56.48 L295.09,57.04 L295.56,56.66 L296.03,57.45 L296.49,57.08 L296.96,56.45 L297.43,57.16 L297.89,56.93 L298.36,56.98 L298.83,56.75 L299.29,56.56 L299.76,56.43 L300.23,56.90 L300.69,56.76 L301.16,56.61 L301.62,56.53 L302.09,56.91 L302.56,56.46 L303.02,57.21 L303.49,56.74 L303.96,57.18 L304.42,56.93 L304.89,57.01 L305.36,56.32 L305.82,56.34 L306.29,56.58 L306.76,56.74 L307.22,57.30 L307.69,57.23 L308.16,56.72 L308.62,56.57 L309.09,56.62 L309.56,56.95 L310.02,56.96 L310.49,56.60 L310.95,56.13 L311.42,56.54 L311.89,56.75 L312.35,56.76 L312.82,56.61 L313.29,56.64 L313.75,57.11 L314.22,56.30 L314.69,56.59 L315.15,56.56 L315.62,56.83 L316.09,56.41 L316.55,56.43 L317.02,56.90 L317.49,56.43 L317.95,56.89 L318.42,57.19 L318.89,56.47 L319.35,56.96 L319.82,56.84 L320.29,56.94 L320.75,56.71 L321.22,56.79 L321.68,56.65 L322.15,56.56 L322.62,56.25 L323.08,56.56 L323.55,56.55 L324.02,56.55 L324.48,56.47 L324.95,56.44" fill="none" stroke="#111111" stroke-width="1.35" stroke-linejoin="round" stroke-linecap="round"/>
<path d="M373.30,121.36 L373.76,120.25 L374.23,118.54 L374.69,116.40 L375.16,114.52 L375.62,112.31 L376.09,109.70 L376.56,106.91 L377.02,103.70 L377.49,101.23 L377.95,99.26 L378.42,96.55 L378.88,94.35 L379.35,92.35 L379.81,90.03 L380.28,88.31 L380.74,86.61 L381.20,85.24 L381.67,83.42 L382.13,82.27 L382.60,81.04 L383.06,80.13 L383.53,78.57 L384.00,78.67 L384.46,77.39 L384.93,76.60 L385.39,75.71 L385.86,74.88 L386.32,74.04 L386.79,73.32 L387.25,72.57 L387.72,71.73 L388.18,71.38 L388.65,70.99 L389.11,70.58 L389.57,70.01 L390.04,69.48 L390.50,69.43 L390.97,68.46 L391.44,68.49 L391.90,67.93 L392.37,68.35 L392.83,67.41 L393.30,67.22 L393.76,66.51 L394.23,66.29 L394.69,66.15 L395.16,65.80 L395.62,65.74 L396.09,65.61 L396.55,64.87 L397.01,65.16 L397.48,64.76 L397.94,64.67 L398.41,64.39 L398.88,64.04 L399.34,63.54 L399.81,63.75 L400.27,63.16 L400.74,63.56 L401.20,63.14 L401.67,62.97 L402.13,62.45 L402.60,62.12 L403.06,62.80 L403.53,62.08 L403.99,61.57 L404.46,61.79 L404.92,61.27 L405.38,61.24 L405.85,61.30 L406.31,61.56 L406.78,61.27 L407.25,60.64 L407.71,61.09 L408.18,61.04 L408.64,60.80 L409.11,60.31 L409.57,60.48 L410.04,60.77 L410.50,60.48 L410.97,60.09 L411.43,59.89 L411.89,59.72 L412.36,59.88 L412.82,59.81 L413.29,60.06 L413.75,59.89 L414.22,60.00 L414.69,59.65 L415.15,59.45 L415.62,59.47 L416.08,59.63 L416.55,59.22 L417.01,59.08 L417.48,58.95 L417.94,59.67 L418.41,59.68 L418.87,59.33 L419.34,58.90 L419.80,58.75 L420.26,58.77 L420.73,58.90 L421.19,58.81 L421.66,58.89 L422.12,58.96 L422.59,59.00 L423.06,58.02 L423.52,58.77 L423.99,58.56 L424.45,58.54 L424.92,58.43 L425.38,58.62 L425.85,58.37 L426.31,58.10 L426.78,58.68 L427.24,58.64 L427.71,58.72 L428.17,58.55 L428.63,58.72 L429.10,58.35 L429.56,58.25 L430.03,58.10 L430.50,58.07 L430.96,58.43 L431.43,58.28 L431.89,58.49 L432.36,58.28 L432.82,58.26 L433.29,58.15 L433.75,58.26 L434.22,58.48 L434.68,57.99 L435.14,58.24 L435.61,58.51 L436.07,58.58 L436.54,58.02 L437.00,58.57 L437.47,58.00 L437.94,57.80 L438.40,58.01 L438.87,57.94 L439.33,57.99 L439.80,58.25 L440.26,58.05 L440.73,58.52 L441.19,57.94 L441.66,57.93 L442.12,58.04 L442.59,57.81 L443.05,58.09 L443.51,58.44 L443.98,57.72 L444.44,58.01 L444.91,58.17 L445.38,58.14 L445.84,58.10 L446.31,57.96 L446.77,58.29 L447.24,57.97 L447.70,58.06 L448.17,57.83 L448.63,58.04 L449.10,57.82 L449.56,58.16 L450.02,57.87 L450.49,58.01 L450.96,57.70 L451.42,57.85 L451.88,57.70 L452.35,58.03 L452.81,58.06 L453.28,57.92 L453.75,58.14 L454.21,57.97 L454.68,57.61 L455.14,58.14 L455.61,58.02 L456.07,57.87 L456.54,57.51 L457.00,57.39 L457.47,58.00 L457.93,57.98 L458.39,57.81 L458.86,58.01 L459.33,58.31 L459.79,57.72 L460.25,57.77 L460.72,57.79 L461.19,57.73 L461.65,57.81 L462.12,57.99 L462.58,57.70 L463.05,57.85 L463.51,57.80 L463.98,58.09 L464.44,57.82 L464.91,57.85 L465.37,58.03 L465.84,58.01 L466.30,57.94" fill="none" stroke="#2a2ac4" stroke-width="1.5" stroke-linejoin="round" stroke-linecap="round"/>
<path d="M373.30,121.43 L373.76,119.58 L374.23,117.49 L374.69,114.85 L375.16,112.60 L375.62,109.47 L376.09,106.54 L376.56,103.03 L377.02,99.48 L377.49,97.36 L377.95,94.44 L378.42,91.67 L378.88,89.21 L379.35,87.30 L379.81,85.49 L380.28,83.76 L380.74,82.35 L381.20,80.74 L381.67,79.68 L382.13,78.39 L382.60,77.25 L383.06,76.10 L383.53,75.47 L384.00,74.62 L384.46,73.71 L384.93,73.63 L385.39,72.50 L385.86,72.14 L386.32,71.19 L386.79,70.96 L387.25,70.62 L387.72,69.75 L388.18,69.71 L388.65,69.42 L389.11,68.76 L389.57,68.96 L390.04,68.24 L390.50,67.73 L390.97,67.89 L391.44,67.10 L391.90,67.12 L392.37,66.91 L392.83,66.92 L393.30,65.97 L393.76,65.75 L394.23,65.90 L394.69,65.51 L395.16,65.80 L395.62,65.14 L396.09,64.86 L396.55,64.92 L397.01,64.70 L397.48,64.41 L397.94,64.36 L398.41,64.38 L398.88,63.65 L399.34,63.45 L399.81,63.34 L400.27,63.13 L400.74,62.89 L401.20,63.02 L401.67,63.45 L402.13,62.59 L402.60,62.54 L403.06,62.49 L403.53,61.93 L403.99,62.09 L404.46,61.95 L404.92,60.95 L405.38,61.41 L405.85,61.12 L406.31,60.86 L406.78,60.70 L407.25,60.71 L407.71,60.43 L408.18,60.44 L408.64,60.40 L409.11,60.24 L409.57,59.92 L410.04,59.79 L410.50,59.74 L410.97,60.07 L411.43,59.67 L411.89,59.40 L412.36,59.50 L412.82,59.20 L413.29,59.18 L413.75,58.84 L414.22,59.54 L414.69,58.89 L415.15,58.60 L415.62,58.60 L416.08,58.78 L416.55,58.63 L417.01,58.58 L417.48,58.33 L417.94,58.18 L418.41,58.41 L418.87,57.96 L419.34,58.03 L419.80,58.55 L420.26,58.10 L420.73,57.98 L421.19,58.05 L421.66,57.82 L422.12,57.80 L422.59,57.76 L423.06,57.75 L423.52,57.57 L423.99,57.73 L424.45,57.42 L424.92,57.91 L425.38,57.44 L425.85,57.53 L426.31,57.47 L426.78,57.27 L427.24,57.44 L427.71,57.99 L428.17,57.56 L428.63,57.24 L429.10,57.22 L429.56,57.23 L430.03,57.23 L430.50,56.90 L430.96,57.02 L431.43,57.22 L431.89,57.15 L432.36,56.71 L432.82,56.87 L433.29,56.78 L433.75,56.82 L434.22,56.75 L434.68,56.89 L435.14,56.95 L435.61,56.92 L436.07,56.87 L436.54,56.23 L437.00,56.46 L437.47,56.55 L437.94,56.56 L438.40,56.86 L438.87,56.29 L439.33,56.82 L439.80,56.16 L440.26,56.48 L440.73,56.65 L441.19,55.96 L441.66,56.48 L442.12,56.29 L442.59,56.23 L443.05,56.50 L443.51,56.03 L443.98,56.39 L444.44,56.10 L444.91,56.28 L445.38,55.63 L445.84,55.95 L446.31,55.60 L446.77,56.01 L447.24,55.81 L447.70,55.71 L448.17,55.78 L448.63,55.82 L449.10,55.48 L449.56,55.61 L450.02,55.65 L450.49,55.45 L450.96,56.22 L451.42,55.80 L451.88,55.43 L452.35,55.59 L452.81,55.54 L453.28,55.78 L453.75,55.49 L454.21,55.07 L454.68,55.46 L455.14,55.55 L455.61,55.35 L456.07,55.02 L456.54,55.37 L457.00,55.57 L457.47,55.11 L457.93,55.21 L458.39,55.07 L458.86,55.46 L459.33,55.30 L459.79,55.09 L460.25,54.91 L460.72,54.56 L461.19,54.62 L461.65,54.64 L462.12,54.65 L462.58,54.60 L463.05,54.67 L463.51,54.64 L463.98,54.84 L464.44,54.84 L464.91,54.40 L465.37,54.93 L465.84,54.77 L466.30,54.66" fill="none" stroke="#2fa23a" stroke-width="1.35" stroke-linejoin="round" stroke-linecap="round"/>
<path d="M373.30,121.39 L373.76,119.59 L374.23,117.35 L374.69,115.05 L375.16,112.49 L375.62,109.63 L376.09,105.59 L376.56,103.25 L377.02,99.18 L377.49,97.14 L377.95,94.10 L378.42,91.57 L378.88,89.04 L379.35,87.17 L379.81,85.52 L380.28,83.74 L380.74,82.19 L381.20,81.10 L381.67,79.55 L382.13,78.34 L382.60,77.60 L383.06,76.55 L383.53,75.15 L384.00,74.73 L384.46,73.95 L384.93,73.27 L385.39,72.66 L385.86,71.81 L386.32,71.34 L386.79,70.41 L387.25,70.50 L387.72,69.90 L388.18,69.75 L388.65,69.00 L389.11,69.21 L389.57,68.71 L390.04,68.25 L390.50,67.26 L390.97,67.10 L391.44,66.87 L391.90,67.05 L392.37,67.14 L392.83,66.41 L393.30,66.05 L393.76,66.21 L394.23,65.38 L394.69,65.15 L395.16,65.75 L395.62,65.24 L396.09,65.00 L396.55,64.79 L397.01,64.57 L397.48,64.33 L397.94,64.21 L398.41,63.38 L398.88,63.89 L399.34,63.89 L399.81,63.17 L400.27,63.04 L400.74,63.36 L401.20,63.14 L401.67,62.98 L402.13,63.10 L402.60,62.75 L403.06,62.19 L403.53,62.43 L403.99,62.03 L404.46,61.88 L404.92,61.80 L405.38,61.42 L405.85,61.35 L406.31,60.97 L406.78,61.04 L407.25,61.14 L407.71,60.51 L408.18,60.72 L408.64,60.58 L409.11,60.53 L409.57,60.58 L410.04,60.63 L410.50,60.05 L410.97,60.41 L411.43,60.23 L411.89,59.87 L412.36,59.77 L412.82,59.91 L413.29,59.38 L413.75,59.81 L414.22,59.15 L414.69,59.30 L415.15,59.50 L415.62,59.53 L416.08,59.16 L416.55,59.74 L417.01,59.13 L417.48,59.08 L417.94,58.82 L418.41,58.81 L418.87,59.01 L419.34,58.92 L419.80,59.20 L420.26,58.82 L420.73,59.08 L421.19,59.18 L421.66,58.44 L422.12,58.40 L422.59,58.80 L423.06,58.68 L423.52,58.17 L423.99,59.00 L424.45,58.32 L424.92,58.71 L425.38,58.47 L425.85,58.60 L426.31,58.21 L426.78,58.26 L427.24,58.55 L427.71,58.22 L428.17,58.26 L428.63,58.13 L429.10,58.67 L429.56,58.21 L430.03,58.39 L430.50,58.32 L430.96,58.71 L431.43,57.85 L431.89,58.34 L432.36,58.20 L432.82,58.63 L433.29,58.32 L433.75,58.22 L434.22,58.22 L434.68,58.49 L435.14,58.14 L435.61,58.30 L436.07,57.99 L436.54,58.44 L437.00,57.90 L437.47,58.39 L437.94,58.40 L438.40,58.03 L438.87,57.98 L439.33,58.01 L439.80,58.23 L440.26,58.15 L440.73,58.29 L441.19,57.81 L441.66,58.46 L442.12,58.32 L442.59,58.30 L443.05,57.90 L443.51,58.35 L443.98,57.82 L444.44,58.38 L444.91,58.37 L445.38,57.89 L445.84,57.86 L446.31,58.03 L446.77,57.63 L447.24,58.03 L447.70,58.03 L448.17,57.95 L448.63,57.59 L449.10,57.93 L449.56,57.45 L450.02,57.55 L450.49,57.61 L450.96,57.64 L451.42,57.54 L451.88,57.72 L452.35,58.36 L452.81,57.77 L453.28,57.84 L453.75,58.07 L454.21,58.22 L454.68,57.75 L455.14,58.03 L455.61,57.77 L456.07,57.95 L456.54,57.68 L457.00,57.97 L457.47,57.69 L457.93,57.75 L458.39,57.84 L458.86,57.79 L459.33,57.66 L459.79,58.33 L460.25,58.15 L460.72,57.69 L461.19,57.70 L461.65,57.65 L462.12,57.62 L462.58,57.92 L463.05,57.40 L463.51,57.52 L463.98,57.61 L464.44,57.74 L464.91,57.85 L465.37,57.82 L465.84,57.60 L466.30,57.66" fill="none" stroke="#111111" stroke-width="1.35" stroke-linejoin="round" stroke-linecap="round"/>
<path d="M53.00,249.32 L53.44,249.12 L53.87,248.92 L54.30,248.29 L54.74,248.48 L55.17,248.19 L55.61,247.64 L56.05,247.65 L56.48,247.75 L56.91,247.75 L57.35,247.47 L57.78,247.21 L58.22,247.20 L58.66,247.49 L59.09,247.52 L59.52,247.63 L59.96,247.11 L60.39,247.49 L60.83,247.54 L61.27,247.32 L61.70,247.25 L62.13,247.46 L62.57,247.23 L63.00,247.71 L63.44,247.38 L63.88,247.36 L64.31,247.39 L64.75,247.34 L65.18,247.44 L65.61,247.36 L66.05,247.88 L66.48,247.61 L66.92,247.31 L67.36,247.68 L67.79,247.63 L68.22,247.06 L68.66,247.41 L69.09,247.34 L69.53,247.29 L69.97,246.99 L70.40,247.34 L70.83,247.40 L71.27,247.14 L71.70,246.87 L72.14,247.43 L72.58,247.05 L73.01,247.04 L73.44,246.88 L73.88,246.72 L74.31,246.72 L74.75,247.02 L75.19,246.69 L75.62,246.60 L76.06,246.52 L76.49,246.24 L76.92,246.44 L77.36,246.44 L77.80,246.28 L78.23,246.18 L78.66,245.99 L79.10,246.40 L79.53,246.28 L79.97,245.98 L80.41,245.74 L80.84,245.88 L81.28,245.78 L81.71,245.46 L82.14,245.74 L82.58,245.67 L83.02,245.71 L83.45,245.48 L83.88,245.54 L84.32,245.66 L84.75,245.45 L85.19,245.47 L85.62,245.63 L86.06,245.37 L86.50,245.09 L86.93,245.67 L87.36,245.64 L87.80,245.44 L88.23,245.43 L88.67,245.32 L89.10,245.36 L89.54,245.30 L89.97,245.09 L90.41,245.04 L90.84,245.67 L91.28,245.14 L91.72,245.22 L92.15,245.10 L92.58,245.17 L93.02,245.09 L93.45,245.18 L93.89,245.25 L94.32,245.13 L94.76,244.92 L95.19,245.05 L95.63,245.05 L96.06,244.78 L96.50,244.83 L96.94,245.14 L97.37,245.11 L97.81,244.97 L98.24,244.82 L98.67,244.69 L99.11,245.20 L99.54,244.59 L99.98,244.82 L100.41,244.77 L100.85,244.63 L101.28,244.71 L101.72,244.71 L102.16,244.54 L102.59,244.48 L103.03,244.90 L103.46,244.97 L103.89,244.85 L104.33,244.58 L104.76,244.66 L105.20,244.63 L105.63,244.67 L106.07,244.71 L106.50,244.43 L106.94,244.52 L107.38,244.44 L107.81,244.37 L108.25,244.17 L108.68,244.03 L109.11,244.53 L109.55,244.15 L109.98,244.34 L110.42,244.27 L110.85,244.12 L111.29,244.43 L111.72,244.32 L112.16,244.09 L112.59,244.14 L113.03,243.89 L113.47,244.10 L113.90,244.17 L114.33,244.20 L114.77,244.04 L115.20,244.49 L115.64,243.87 L116.07,244.04 L116.51,244.20 L116.94,244.04 L117.38,243.94 L117.81,244.25 L118.25,243.83 L118.69,244.40 L119.12,243.68 L119.55,244.00 L119.99,243.87 L120.42,243.95 L120.86,244.00 L121.30,243.68 L121.73,244.03 L122.16,243.84 L122.60,243.70 L123.03,244.02 L123.47,243.65 L123.91,243.92 L124.34,243.56 L124.77,243.77 L125.21,243.44 L125.64,243.68 L126.08,243.84 L126.52,243.44 L126.95,243.38 L127.38,243.41 L127.82,243.86 L128.25,243.76 L128.69,243.35 L129.12,243.42 L129.56,243.55 L130.00,243.51 L130.43,243.42 L130.87,243.85 L131.30,243.65 L131.74,243.63 L132.17,243.17 L132.60,243.43 L133.04,243.74 L133.47,243.34 L133.91,243.36 L134.34,243.41 L134.78,243.53 L135.21,243.40 L135.65,243.15 L136.08,243.27 L136.52,243.02 L136.95,242.89 L137.39,243.19 L137.82,243.40 L138.26,243.27 L138.69,243.04 L139.13,242.89 L139.56,243.05 L140.00,243.00 L140.44,242.92 L140.87,242.71 L141.31,242.78 L141.74,242.96 L142.18,242.98 L142.61,242.84 L143.04,242.93 L143.48,242.97 L143.91,242.55 L144.35,242.69 L144.78,242.90 L145.22,242.59 L145.65,242.84 L146.09,242.80 L146.52,242.89 L146.96,242.78 L147.39,242.62 L147.83,242.45 L148.26,242.49 L148.70,242.39 L149.13,242.40 L149.57,242.47 L150.00,242.13 L150.44,242.55 L150.88,242.50 L151.31,241.89 L151.75,242.22 L152.18,242.20 L152.62,241.71 L153.05,242.41 L153.49,241.87 L153.92,242.17 L154.35,242.18 L154.79,242.32 L155.22,242.13 L155.66,241.96 L156.09,242.09 L156.53,242.16 L156.96,241.98 L157.40,241.79 L157.83,242.01 L158.27,242.09 L158.70,242.07 L159.14,241.90 L159.57,242.07 L160.01,241.68 L160.44,242.04 L160.88,241.71 L161.31,241.94 L161.75,241.74 L162.19,242.09 L162.62,241.90 L163.06,242.03 L163.49,241.98 L163.93,241.82 L164.36,242.03 L164.79,241.41 L165.23,241.45 L165.66,241.59 L166.10,241.75 L166.53,241.85 L166.97,242.05 L167.40,241.55 L167.84,241.92 L168.27,241.70 L168.71,241.79 L169.14,241.66 L169.58,241.33 L170.01,241.65 L170.45,241.66 L170.88,241.44 L171.32,241.71 L171.75,241.97 L172.19,241.73 L172.62,241.62 L173.06,241.72 L173.50,241.37 L173.93,241.32 L174.37,241.74 L174.80,241.52 L175.23,241.48 L175.67,241.60 L176.10,241.63 L176.54,241.42 L176.97,241.57 L177.41,241.14 L177.84,241.49 L178.28,241.48 L178.71,241.44 L179.15,241.43 L179.58,241.55 L180.02,241.35 L180.45,241.30 L180.89,241.41 L181.32,241.37 L181.76,241.71 L182.19,241.53 L182.63,241.43 L183.06,241.51 L183.50,241.23" fill="none" stroke="#2a2ac4" stroke-width="1.35" stroke-linejoin="round" stroke-linecap="round"/>
<path d="M53.00,249.43 L53.44,249.17 L53.87,248.94 L54.30,248.57 L54.74,248.25 L55.17,247.68 L55.61,247.90 L56.05,247.41 L56.48,247.54 L56.91,247.22 L57.35,247.33 L57.78,247.60 L58.22,247.42 L58.66,247.69 L59.09,247.36 L59.52,247.49 L59.96,247.63 L60.39,247.48 L60.83,247.38 L61.27,247.10 L61.70,247.34 L62.13,247.41 L62.57,247.48 L63.00,247.82 L63.44,247.70 L63.88,247.84 L64.31,247.66 L64.75,247.32 L65.18,247.28 L65.61,247.43 L66.05,247.53 L66.48,247.36 L66.92,247.11 L67.36,247.45 L67.79,247.25 L68.22,247.24 L68.66,247.55 L69.09,247.38 L69.53,247.50 L69.97,247.29 L70.40,247.37 L70.83,247.41 L71.27,247.12 L71.70,247.19 L72.14,247.16 L72.58,246.94 L73.01,246.95 L73.44,246.78 L73.88,246.63 L74.31,247.04 L74.75,246.72 L75.19,247.00 L75.62,246.53 L76.06,246.31 L76.49,246.70 L76.92,246.30 L77.36,246.33 L77.80,246.31 L78.23,246.66 L78.66,246.42 L79.10,246.27 L79.53,246.15 L79.97,246.09 L80.41,245.94 L80.84,246.00 L81.28,246.01 L81.71,246.10 L82.14,246.03 L82.58,245.92 L83.02,245.51 L83.45,245.89 L83.88,245.82 L84.32,245.62 L84.75,245.63 L85.19,245.63 L85.62,245.69 L86.06,245.43 L86.50,245.75 L86.93,245.42 L87.36,245.37 L87.80,245.55 L88.23,245.65 L88.67,245.65 L89.10,245.49 L89.54,245.82 L89.97,245.29 L90.41,245.60 L90.84,245.64 L91.28,245.35 L91.72,245.40 L92.15,245.52 L92.58,245.16 L93.02,245.53 L93.45,245.41 L93.89,245.54 L94.32,245.01 L94.76,245.16 L95.19,245.45 L95.63,245.13 L96.06,245.27 L96.50,245.28 L96.94,245.15 L97.37,245.40 L97.81,245.04 L98.24,245.05 L98.67,244.79 L99.11,245.13 L99.54,245.18 L99.98,245.09 L100.41,245.00 L100.85,244.76 L101.28,244.52 L101.72,244.74 L102.16,244.74 L102.59,244.95 L103.03,244.97 L103.46,244.91 L103.89,244.59 L104.33,244.49 L104.76,244.67 L105.20,244.81 L105.63,244.46 L106.07,244.56 L106.50,244.63 L106.94,244.73 L107.38,244.74 L107.81,244.19 L108.25,244.46 L108.68,244.31 L109.11,244.24 L109.55,244.15 L109.98,243.90 L110.42,244.24 L110.85,243.99 L111.29,244.27 L111.72,244.32 L112.16,244.06 L112.59,244.32 L113.03,244.21 L113.47,244.05 L113.90,243.79 L114.33,243.87 L114.77,244.07 L115.20,243.75 L115.64,243.78 L116.07,243.71 L116.51,243.66 L116.94,243.52 L117.38,243.31 L117.81,243.27 L118.25,243.26 L118.69,243.31 L119.12,243.34 L119.55,242.71 L119.99,242.68 L120.42,243.09 L120.86,242.68 L121.30,242.58 L121.73,242.54 L122.16,242.44 L122.60,242.45 L123.03,242.08 L123.47,242.17 L123.91,241.99 L124.34,242.03 L124.77,241.97 L125.21,242.01 L125.64,241.70 L126.08,242.12 L126.52,241.57 L126.95,241.76 L127.38,241.64 L127.82,241.71 L128.25,241.87 L128.69,241.68 L129.12,241.43 L129.56,241.52 L130.00,241.33 L130.43,241.50 L130.87,241.60 L131.30,241.30 L131.74,241.31 L132.17,241.32 L132.60,240.94 L133.04,241.41 L133.47,241.07 L133.91,241.10 L134.34,240.81 L134.78,240.96 L135.21,240.88 L135.65,240.86 L136.08,240.83 L136.52,240.86 L136.95,240.81 L137.39,240.62 L137.82,240.37 L138.26,240.83 L138.69,240.60 L139.13,240.76 L139.56,240.26 L140.00,240.25 L140.44,240.44 L140.87,240.21 L141.31,240.36 L141.74,240.53 L142.18,240.03 L142.61,240.51 L143.04,240.39 L143.48,240.00 L143.91,240.01 L144.35,240.01 L144.78,240.12 L145.22,240.13 L145.65,240.16 L146.09,239.75 L146.52,239.81 L146.96,239.52 L147.39,239.75 L147.83,239.69 L148.26,239.82 L148.70,239.77 L149.13,239.57 L149.57,239.73 L150.00,239.41 L150.44,239.36 L150.88,239.68 L151.31,239.35 L151.75,239.37 L152.18,239.33 L152.62,239.38 L153.05,239.11 L153.49,239.21 L153.92,239.10 L154.35,239.10 L154.79,239.22 L155.22,239.26 L155.66,238.79 L156.09,238.74 L156.53,238.96 L156.96,238.75 L157.40,238.68 L157.83,238.61 L158.27,238.65 L158.70,238.78 L159.14,238.61 L159.57,238.75 L160.01,238.60 L160.44,238.74 L160.88,238.81 L161.31,238.66 L161.75,238.72 L162.19,238.37 L162.62,238.29 L163.06,238.28 L163.49,238.43 L163.93,238.28 L164.36,238.44 L164.79,238.13 L165.23,238.07 L165.66,237.82 L166.10,238.23 L166.53,238.06 L166.97,238.01 L167.40,237.59 L167.84,237.88 L168.27,237.80 L168.71,238.06 L169.14,237.82 L169.58,237.42 L170.01,237.50 L170.45,237.57 L170.88,237.69 L171.32,237.73 L171.75,237.52 L172.19,237.61 L172.62,237.13 L173.06,237.52 L173.50,237.47 L173.93,237.24 L174.37,237.28 L174.80,237.41 L175.23,237.44 L175.67,237.33 L176.10,236.92 L176.54,237.21 L176.97,237.11 L177.41,236.90 L177.84,236.75 L178.28,236.84 L178.71,236.86 L179.15,236.98 L179.58,236.99 L180.02,236.78 L180.45,236.78 L180.89,236.69 L181.32,237.00 L181.76,236.86 L182.19,236.49 L182.63,236.34 L183.06,236.51 L183.50,236.68" fill="none" stroke="#b133b5" stroke-width="1.35" stroke-linejoin="round" stroke-linecap="round"/>
<path d="M53.00,249.39 L53.44,249.30 L53.87,248.88 L54.30,248.55 L54.74,248.09 L55.17,247.77 L55.61,247.62 L56.05,247.70 L56.48,247.31 L56.91,247.54 L57.35,247.70 L57.78,247.33 L58.22,247.18 L58.66,247.63 L59.09,247.53 L59.52,247.56 L59.96,247.54 L60.39,247.29 L60.83,247.34 L61.27,247.44 L61.70,247.44 L62.13,247.58 L62.57,247.55 L63.00,247.58 L63.44,247.38 L63.88,247.37 L64.31,247.52 L64.75,247.36 L65.18,247.60 L65.61,247.15 L66.05,247.63 L66.48,247.55 L66.92,247.48 L67.36,247.34 L67.79,247.42 L68.22,247.58 L68.66,247.34 L69.09,247.28 L69.53,247.55 L69.97,247.67 L70.40,247.22 L70.83,247.43 L71.27,247.07 L71.70,246.90 L72.14,246.94 L72.58,247.04 L73.01,246.90 L73.44,247.00 L73.88,247.05 L74.31,246.88 L74.75,246.87 L75.19,246.71 L75.62,246.87 L76.06,246.79 L76.49,246.55 L76.92,246.49 L77.36,246.44 L77.80,246.25 L78.23,246.56 L78.66,246.18 L79.10,246.26 L79.53,246.18 L79.97,245.95 L80.41,246.05 L80.84,245.89 L81.28,245.74 L81.71,245.96 L82.14,246.19 L82.58,245.96 L83.02,245.92 L83.45,245.78 L83.88,245.91 L84.32,245.73 L84.75,245.69 L85.19,245.99 L85.62,245.42 L86.06,245.73 L86.50,245.82 L86.93,245.71 L87.36,245.45 L87.80,245.05 L88.23,245.82 L88.67,245.59 L89.10,245.28 L89.54,245.54 L89.97,245.40 L90.41,245.45 L90.84,245.36 L91.28,245.29 L91.72,245.46 L92.15,245.43 L92.58,245.48 L93.02,245.20 L93.45,244.83 L93.89,245.00 L94.32,245.16 L94.76,244.92 L95.19,244.99 L95.63,245.11 L96.06,245.13 L96.50,244.98 L96.94,245.09 L97.37,244.94 L97.81,244.84 L98.24,245.06 L98.67,245.02 L99.11,244.85 L99.54,244.90 L99.98,244.76 L100.41,244.66 L100.85,244.63 L101.28,244.54 L101.72,244.60 L102.16,244.54 L102.59,244.57 L103.03,244.50 L103.46,244.50 L103.89,244.45 L104.33,244.47 L104.76,244.33 L105.20,244.22 L105.63,244.11 L106.07,244.03 L106.50,244.12 L106.94,244.30 L107.38,244.37 L107.81,244.37 L108.25,244.14 L108.68,244.02 L109.11,243.85 L109.55,243.95 L109.98,243.93 L110.42,244.07 L110.85,243.73 L111.29,243.51 L111.72,243.82 L112.16,243.38 L112.59,243.55 L113.03,243.74 L113.47,243.46 L113.90,243.48 L114.33,243.40 L114.77,243.59 L115.20,243.30 L115.64,243.16 L116.07,243.41 L116.51,243.09 L116.94,242.89 L117.38,242.96 L117.81,243.03 L118.25,242.87 L118.69,242.63 L119.12,242.57 L119.55,242.58 L119.99,242.57 L120.42,242.49 L120.86,242.31 L121.30,242.37 L121.73,242.04 L122.16,241.71 L122.60,241.95 L123.03,241.84 L123.47,241.74 L123.91,241.59 L124.34,241.65 L124.77,241.46 L125.21,241.61 L125.64,241.59 L126.08,241.46 L126.52,241.24 L126.95,241.37 L127.38,241.34 L127.82,241.14 L128.25,241.44 L128.69,241.16 L129.12,241.41 L129.56,241.10 L130.00,240.68 L130.43,241.18 L130.87,240.72 L131.30,240.94 L131.74,240.90 L132.17,240.83 L132.60,240.44 L133.04,240.79 L133.47,240.66 L133.91,240.71 L134.34,240.64 L134.78,240.45 L135.21,240.49 L135.65,240.48 L136.08,240.57 L136.52,240.40 L136.95,240.42 L137.39,240.36 L137.82,240.31 L138.26,240.36 L138.69,240.44 L139.13,240.15 L139.56,240.44 L140.00,239.99 L140.44,240.18 L140.87,240.19 L141.31,239.85 L141.74,240.06 L142.18,239.91 L142.61,240.02 L143.04,239.78 L143.48,239.75 L143.91,239.80 L144.35,239.75 L144.78,239.91 L145.22,239.46 L145.65,239.69 L146.09,239.57 L146.52,239.58 L146.96,239.42 L147.39,239.45 L147.83,239.43 L148.26,239.38 L148.70,239.26 L149.13,239.01 L149.57,239.38 L150.00,239.01 L150.44,239.11 L150.88,239.01 L151.31,239.14 L151.75,238.85 L152.18,238.84 L152.62,239.20 L153.05,239.14 L153.49,238.58 L153.92,238.88 L154.35,238.79 L154.79,238.94 L155.22,238.67 L155.66,238.62 L156.09,238.66 L156.53,238.35 L156.96,238.54 L157.40,238.34 L157.83,238.42 L158.27,238.36 L158.70,238.39 L159.14,238.39 L159.57,238.04 L160.01,238.05 L160.44,238.00 L160.88,238.24 L161.31,238.16 L161.75,238.04 L162.19,238.07 L162.62,237.89 L163.06,237.69 L163.49,237.99 L163.93,237.92 L164.36,238.06 L164.79,237.59 L165.23,237.72 L165.66,237.65 L166.10,237.77 L166.53,237.63 L166.97,237.64 L167.40,237.66 L167.84,237.44 L168.27,237.28 L168.71,237.26 L169.14,237.46 L169.58,236.91 L170.01,237.44 L170.45,237.30 L170.88,237.47 L171.32,237.28 L171.75,237.15 L172.19,237.26 L172.62,237.15 L173.06,237.25 L173.50,237.13 L173.93,237.22 L174.37,237.07 L174.80,237.29 L175.23,237.06 L175.67,236.97 L176.10,236.89 L176.54,236.64 L176.97,236.97 L177.41,236.88 L177.84,236.61 L178.28,236.85 L178.71,236.73 L179.15,236.91 L179.58,237.09 L180.02,236.25 L180.45,236.44 L180.89,236.21 L181.32,236.51 L181.76,236.68 L182.19,236.38 L182.63,236.54 L183.06,236.34 L183.50,236.28" fill="none" stroke="#dd2a25" stroke-width="1.35" stroke-linejoin="round" stroke-linecap="round"/>
<path d="M53.00,249.48 L53.44,249.17 L53.87,248.84 L54.30,248.51 L54.74,248.21 L55.17,247.93 L55.61,247.71 L56.05,247.55 L56.48,247.48 L56.91,247.47 L57.35,247.47 L57.78,247.47 L58.22,247.47 L58.66,247.47 L59.09,247.47 L59.52,247.47 L59.96,247.47 L60.39,247.47 L60.83,247.47 L61.27,247.47 L61.70,247.47 L62.13,247.47 L62.57,247.47 L63.00,247.47 L63.44,247.47 L63.88,247.47 L64.31,247.47 L64.75,247.47 L65.18,247.47 L65.61,247.47 L66.05,247.47 L66.48,247.47 L66.92,247.47 L67.36,247.45 L67.79,247.40 L68.22,247.32 L68.66,247.22 L69.09,247.10 L69.53,246.97 L69.97,246.83 L70.40,246.69 L70.83,246.55 L71.27,246.43 L71.70,246.31 L72.14,246.22 L72.58,246.16 L73.01,246.11 L73.44,246.06 L73.88,246.02 L74.31,245.99 L74.75,245.95 L75.19,245.92 L75.62,245.90 L76.06,245.87 L76.49,245.85 L76.92,245.83 L77.36,245.80 L77.80,245.78 L78.23,245.76 L78.66,245.74 L79.10,245.71 L79.53,245.69 L79.97,245.66 L80.41,245.63 L80.84,245.60 L81.28,245.57 L81.71,245.53 L82.14,245.48 L82.58,245.44 L83.02,245.38 L83.45,245.32 L83.88,245.23 L84.32,245.13 L84.75,245.01 L85.19,244.87 L85.62,244.72 L86.06,244.55 L86.50,244.37 L86.93,244.18 L87.36,243.99 L87.80,243.78 L88.23,243.57 L88.67,243.35 L89.10,243.13 L89.54,242.91 L89.97,242.68 L90.41,242.45 L90.84,242.23 L91.28,242.01 L91.72,241.79 L92.15,241.58 L92.58,241.37 L93.02,241.16 L93.45,240.95 L93.89,240.73 L94.32,240.51 L94.76,240.29 L95.19,240.06 L95.63,239.83 L96.06,239.59 L96.50,239.36 L96.94,239.12 L97.37,238.87 L97.81,238.63 L98.24,238.39 L98.67,238.14 L99.11,237.89 L99.54,237.64 L99.98,237.40 L100.41,237.15 L100.85,236.90 L101.28,236.65 L101.72,236.40 L102.16,236.16 L102.59,235.91 L103.03,235.67 L103.46,235.42 L103.89,235.18 L104.33,234.95 L104.76,234.71 L105.20,234.48 L105.63,234.25 L106.07,234.02 L106.50,233.80 L106.94,233.58 L107.38,233.36 L107.81,233.14 L108.25,232.93 L108.68,232.71 L109.11,232.50 L109.55,232.29 L109.98,232.07 L110.42,231.86 L110.85,231.65 L111.29,231.44 L111.72,231.22 L112.16,231.01 L112.59,230.79 L113.03,230.58 L113.47,230.36 L113.90,230.14 L114.33,229.91 L114.77,229.69 L115.20,229.46 L115.64,229.23 L116.07,229.00 L116.51,228.76 L116.94,228.53 L117.38,228.29 L117.81,228.05 L118.25,227.81 L118.69,227.57 L119.12,227.32 L119.55,227.08 L119.99,226.83 L120.42,226.59 L120.86,226.34 L121.30,226.10 L121.73,225.85 L122.16,225.60 L122.60,225.36 L123.03,225.11 L123.47,224.87 L123.91,224.63 L124.34,224.38 L124.77,224.14 L125.21,223.90 L125.64,223.66 L126.08,223.42 L126.52,223.18 L126.95,222.93 L127.38,222.69 L127.82,222.45 L128.25,222.20 L128.69,221.95 L129.12,221.71 L129.56,221.46 L130.00,221.21 L130.43,220.97 L130.87,220.72 L131.30,220.47 L131.74,220.23 L132.17,219.98 L132.60,219.74 L133.04,219.49 L133.47,219.25 L133.91,219.01 L134.34,218.77 L134.78,218.53 L135.21,218.29 L135.65,218.06 L136.08,217.83 L136.52,217.60 L136.95,217.37 L137.39,217.14 L137.82,216.92 L138.26,216.70 L138.69,216.49 L139.13,216.27 L139.56,216.06 L140.00,215.85 L140.44,215.65 L140.87,215.45 L141.31,215.25 L141.74,215.05 L142.18,214.85 L142.61,214.65 L143.04,214.45 L143.48,214.26 L143.91,214.06 L144.35,213.87 L144.78,213.68 L145.22,213.49 L145.65,213.30 L146.09,213.12 L146.52,212.93 L146.96,212.75 L147.39,212.57 L147.83,212.39 L148.26,212.21 L148.70,212.03 L149.13,211.86 L149.57,211.68 L150.00,211.51 L150.44,211.34 L150.88,211.17 L151.31,211.00 L151.75,210.84 L152.18,210.67 L152.62,210.51 L153.05,210.35 L153.49,210.19 L153.92,210.03 L154.35,209.88 L154.79,209.72 L155.22,209.57 L155.66,209.42 L156.09,209.26 L156.53,209.11 L156.96,208.96 L157.40,208.81 L157.83,208.66 L158.27,208.51 L158.70,208.36 L159.14,208.22 L159.57,208.07 L160.01,207.93 L160.44,207.78 L160.88,207.64 L161.31,207.50 L161.75,207.36 L162.19,207.23 L162.62,207.09 L163.06,206.96 L163.49,206.82 L163.93,206.69 L164.36,206.57 L164.79,206.44 L165.23,206.32 L165.66,206.20 L166.10,206.08 L166.53,205.96 L166.97,205.84 L167.40,205.73 L167.84,205.62 L168.27,205.51 L168.71,205.41 L169.14,205.31 L169.58,205.21 L170.01,205.11 L170.45,205.01 L170.88,204.91 L171.32,204.81 L171.75,204.72 L172.19,204.62 L172.62,204.53 L173.06,204.44 L173.50,204.35 L173.93,204.26 L174.37,204.17 L174.80,204.08 L175.23,203.99 L175.67,203.91 L176.10,203.82 L176.54,203.74 L176.97,203.66 L177.41,203.58 L177.84,203.50 L178.28,203.42 L178.71,203.35 L179.15,203.28 L179.58,203.20 L180.02,203.13 L180.45,203.06 L180.89,203.00 L181.32,202.93 L181.76,202.87 L182.19,202.81 L182.63,202.75 L183.06,202.69 L183.50,202.64" fill="none" stroke="#f2c21e" stroke-width="1.35" stroke-linejoin="round" stroke-linecap="round"/>
<path d="M53.00,249.39 L53.44,249.29 L53.87,248.82 L54.30,248.46 L54.74,248.00 L55.17,247.99 L55.61,247.43 L56.05,247.46 L56.48,247.42 L56.91,247.57 L57.35,247.42 L57.78,247.38 L58.22,247.62 L58.66,247.37 L59.09,247.43 L59.52,247.51 L59.96,247.60 L60.39,247.50 L60.83,247.37 L61.27,247.21 L61.70,247.45 L62.13,247.52 L62.57,247.37 L63.00,247.33 L63.44,247.36 L63.88,247.50 L64.31,247.84 L64.75,247.44 L65.18,247.48 L65.61,247.65 L66.05,247.47 L66.48,247.63 L66.92,247.52 L67.36,247.27 L67.79,247.51 L68.22,247.73 L68.66,247.13 L69.09,247.21 L69.53,247.07 L69.97,247.22 L70.40,247.07 L70.83,246.68 L71.27,246.53 L71.70,246.23 L72.14,246.08 L72.58,245.79 L73.01,245.68 L73.44,245.33 L73.88,245.17 L74.31,244.60 L74.75,244.07 L75.19,243.81 L75.62,242.91 L76.06,242.25 L76.49,241.44 L76.92,240.39 L77.36,239.99 L77.80,239.16 L78.23,238.36 L78.66,238.03 L79.10,236.85 L79.53,236.35 L79.97,235.85 L80.41,235.07 L80.84,234.20 L81.28,234.12 L81.71,233.18 L82.14,232.52 L82.58,232.31 L83.02,231.51 L83.45,231.18 L83.88,230.34 L84.32,229.89 L84.75,229.10 L85.19,228.65 L85.62,227.80 L86.06,227.21 L86.50,226.53 L86.93,226.19 L87.36,225.62 L87.80,225.01 L88.23,224.45 L88.67,223.77 L89.10,223.30 L89.54,222.59 L89.97,221.83 L90.41,221.21 L90.84,220.72 L91.28,220.44 L91.72,219.41 L92.15,218.80 L92.58,218.40 L93.02,218.05 L93.45,217.34 L93.89,216.92 L94.32,216.60 L94.76,215.65 L95.19,215.16 L95.63,214.70 L96.06,214.15 L96.50,213.75 L96.94,213.44 L97.37,212.55 L97.81,212.35 L98.24,211.90 L98.67,211.33 L99.11,211.23 L99.54,210.61 L99.98,210.08 L100.41,209.81 L100.85,209.75 L101.28,208.98 L101.72,208.50 L102.16,208.48 L102.59,207.57 L103.03,207.55 L103.46,207.23 L103.89,206.84 L104.33,206.43 L104.76,206.23 L105.20,205.98 L105.63,205.62 L106.07,205.56 L106.50,204.79 L106.94,205.08 L107.38,204.58 L107.81,204.42 L108.25,204.03 L108.68,203.81 L109.11,203.39 L109.55,203.33 L109.98,203.12 L110.42,202.53 L110.85,202.77 L111.29,202.39 L111.72,202.21 L112.16,201.78 L112.59,201.71 L113.03,201.30 L113.47,201.37 L113.90,200.99 L114.33,200.73 L114.77,200.60 L115.20,200.35 L115.64,200.42 L116.07,199.90 L116.51,199.81 L116.94,199.29 L117.38,199.52 L117.81,199.42 L118.25,198.69 L118.69,198.52 L119.12,198.67 L119.55,198.76 L119.99,198.40 L120.42,198.08 L120.86,197.89 L121.30,197.63 L121.73,197.44 L122.16,197.36 L122.60,197.33 L123.03,196.94 L123.47,196.75 L123.91,196.78 L124.34,196.75 L124.77,196.42 L125.21,196.37 L125.64,196.25 L126.08,196.09 L126.52,195.78 L126.95,195.58 L127.38,195.51 L127.82,195.45 L128.25,195.42 L128.69,195.46 L129.12,195.11 L129.56,194.86 L130.00,194.92 L130.43,194.58 L130.87,194.62 L131.30,194.32 L131.74,194.64 L132.17,194.02 L132.60,193.83 L133.04,193.81 L133.47,193.57 L133.91,193.70 L134.34,193.41 L134.78,193.36 L135.21,193.16 L135.65,193.05 L136.08,192.91 L136.52,192.93 L136.95,192.78 L137.39,192.87 L137.82,192.54 L138.26,192.78 L138.69,192.25 L139.13,191.92 L139.56,192.20 L140.00,192.11 L140.44,191.95 L140.87,191.82 L141.31,191.70 L141.74,191.82 L142.18,191.71 L142.61,191.53 L143.04,191.46 L143.48,191.64 L143.91,191.31 L144.35,191.05 L144.78,191.52 L145.22,191.25 L145.65,191.17 L146.09,191.22 L146.52,191.21 L146.96,190.69 L147.39,190.86 L147.83,190.76 L148.26,190.62 L148.70,190.90 L149.13,190.48 L149.57,190.71 L150.00,190.40 L150.44,190.52 L150.88,190.26 L151.31,190.33 L151.75,190.38 L152.18,190.18 L152.62,190.38 L153.05,190.14 L153.49,190.41 L153.92,190.19 L154.35,189.83 L154.79,189.95 L155.22,190.20 L155.66,189.81 L156.09,190.03 L156.53,189.89 L156.96,189.97 L157.40,189.79 L157.83,189.93 L158.27,189.61 L158.70,189.84 L159.14,189.86 L159.57,189.80 L160.01,189.92 L160.44,189.58 L160.88,189.49 L161.31,189.42 L161.75,189.53 L162.19,189.60 L162.62,189.35 L163.06,189.31 L163.49,189.60 L163.93,189.67 L164.36,189.53 L164.79,189.43 L165.23,189.24 L165.66,189.22 L166.10,189.30 L166.53,189.16 L166.97,189.35 L167.40,189.30 L167.84,189.59 L168.27,189.31 L168.71,189.24 L169.14,188.99 L169.58,189.16 L170.01,189.17 L170.45,189.07 L170.88,189.12 L171.32,189.33 L171.75,189.11 L172.19,189.00 L172.62,188.98 L173.06,189.02 L173.50,188.96 L173.93,188.78 L174.37,189.06 L174.80,188.85 L175.23,188.87 L175.67,188.79 L176.10,188.72 L176.54,188.60 L176.97,189.07 L177.41,188.67 L177.84,188.79 L178.28,188.85 L178.71,188.54 L179.15,188.52 L179.58,188.62 L180.02,188.51 L180.45,188.58 L180.89,188.21 L181.32,188.13 L181.76,188.19 L182.19,188.52 L182.63,188.21 L183.06,188.23 L183.50,188.24" fill="none" stroke="#2fa23a" stroke-width="1.35" stroke-linejoin="round" stroke-linecap="round"/>
<path d="M53.00,249.51 L53.44,249.21 L53.87,248.95 L54.30,248.64 L54.74,248.36 L55.17,247.48 L55.61,247.60 L56.05,247.68 L56.48,247.60 L56.91,247.36 L57.35,247.12 L57.78,247.14 L58.22,247.65 L58.66,247.72 L59.09,247.59 L59.52,247.41 L59.96,247.57 L60.39,247.58 L60.83,247.07 L61.27,247.71 L61.70,247.34 L62.13,247.50 L62.57,247.58 L63.00,247.10 L63.44,247.71 L63.88,247.42 L64.31,247.50 L64.75,247.60 L65.18,247.55 L65.61,247.45 L66.05,246.97 L66.48,247.37 L66.92,247.52 L67.36,247.71 L67.79,247.33 L68.22,247.11 L68.66,246.57 L69.09,247.22 L69.53,246.98 L69.97,246.80 L70.40,246.49 L70.83,245.69 L71.27,245.64 L71.70,245.45 L72.14,244.97 L72.58,244.64 L73.01,244.19 L73.44,243.38 L73.88,242.80 L74.31,242.33 L74.75,241.26 L75.19,240.50 L75.62,239.90 L76.06,239.08 L76.49,238.18 L76.92,237.41 L77.36,236.76 L77.80,235.29 L78.23,234.42 L78.66,234.36 L79.10,233.22 L79.53,232.62 L79.97,231.78 L80.41,230.90 L80.84,230.04 L81.28,229.43 L81.71,228.66 L82.14,227.86 L82.58,227.31 L83.02,226.43 L83.45,225.78 L83.88,225.38 L84.32,224.42 L84.75,223.97 L85.19,223.03 L85.62,222.35 L86.06,222.20 L86.50,221.18 L86.93,220.85 L87.36,220.13 L87.80,219.50 L88.23,218.69 L88.67,218.06 L89.10,217.59 L89.54,217.39 L89.97,216.31 L90.41,215.61 L90.84,215.77 L91.28,214.83 L91.72,214.29 L92.15,213.60 L92.58,213.19 L93.02,212.43 L93.45,212.20 L93.89,211.81 L94.32,211.53 L94.76,211.04 L95.19,210.26 L95.63,209.63 L96.06,209.50 L96.50,208.73 L96.94,208.50 L97.37,207.82 L97.81,207.32 L98.24,207.07 L98.67,206.93 L99.11,206.15 L99.54,205.91 L99.98,205.54 L100.41,205.09 L100.85,204.64 L101.28,204.17 L101.72,204.27 L102.16,203.41 L102.59,203.23 L103.03,202.67 L103.46,202.60 L103.89,202.09 L104.33,201.74 L104.76,201.35 L105.20,201.37 L105.63,200.75 L106.07,200.85 L106.50,200.72 L106.94,200.39 L107.38,200.25 L107.81,199.49 L108.25,199.34 L108.68,199.66 L109.11,199.13 L109.55,198.82 L109.98,198.62 L110.42,198.56 L110.85,198.38 L111.29,197.89 L111.72,197.87 L112.16,197.82 L112.59,197.40 L113.03,197.39 L113.47,197.12 L113.90,196.73 L114.33,196.73 L114.77,196.02 L115.20,196.59 L115.64,196.33 L116.07,195.67 L116.51,195.75 L116.94,195.66 L117.38,195.27 L117.81,195.33 L118.25,195.32 L118.69,194.69 L119.12,194.80 L119.55,194.63 L119.99,194.49 L120.42,194.38 L120.86,194.39 L121.30,194.27 L121.73,194.26 L122.16,193.63 L122.60,193.64 L123.03,193.57 L123.47,193.68 L123.91,193.52 L124.34,193.22 L124.77,192.95 L125.21,192.93 L125.64,192.80 L126.08,192.84 L126.52,192.40 L126.95,192.38 L127.38,192.07 L127.82,192.11 L128.25,192.29 L128.69,192.11 L129.12,191.91 L129.56,191.55 L130.00,191.64 L130.43,191.55 L130.87,191.17 L131.30,191.16 L131.74,191.11 L132.17,191.47 L132.60,191.06 L133.04,190.55 L133.47,190.70 L133.91,190.49 L134.34,190.29 L134.78,190.40 L135.21,190.84 L135.65,190.31 L136.08,190.33 L136.52,190.38 L136.95,189.93 L137.39,190.19 L137.82,189.73 L138.26,189.82 L138.69,189.93 L139.13,189.93 L139.56,189.35 L140.00,189.69 L140.44,189.52 L140.87,189.54 L141.31,189.64 L141.74,189.49 L142.18,189.41 L142.61,189.65 L143.04,189.42 L143.48,189.40 L143.91,189.12 L144.35,189.10 L144.78,189.32 L145.22,189.16 L145.65,188.98 L146.09,189.11 L146.52,189.24 L146.96,188.71 L147.39,188.83 L147.83,188.86 L148.26,188.84 L148.70,188.65 L149.13,188.76 L149.57,188.63 L150.00,188.39 L150.44,188.30 L150.88,188.21 L151.31,188.69 L151.75,188.47 L152.18,188.68 L152.62,188.60 L153.05,188.63 L153.49,188.41 L153.92,188.39 L154.35,188.46 L154.79,188.26 L155.22,188.11 L155.66,188.27 L156.09,188.30 L156.53,187.96 L156.96,188.12 L157.40,188.00 L157.83,188.22 L158.27,187.87 L158.70,187.79 L159.14,188.12 L159.57,188.09 L160.01,187.93 L160.44,187.71 L160.88,187.65 L161.31,187.55 L161.75,187.91 L162.19,188.08 L162.62,187.85 L163.06,187.64 L163.49,187.54 L163.93,187.86 L164.36,187.59 L164.79,187.63 L165.23,187.45 L165.66,187.69 L166.10,187.53 L166.53,187.55 L166.97,187.42 L167.40,187.45 L167.84,187.36 L168.27,187.39 L168.71,187.26 L169.14,187.59 L169.58,186.74 L170.01,187.12 L170.45,187.65 L170.88,187.25 L171.32,187.46 L171.75,187.52 L172.19,187.12 L172.62,187.80 L173.06,187.49 L173.50,187.24 L173.93,187.65 L174.37,187.15 L174.80,187.41 L175.23,187.31 L175.67,187.02 L176.10,187.28 L176.54,187.10 L176.97,187.03 L177.41,187.39 L177.84,187.36 L178.28,187.02 L178.71,187.15 L179.15,186.98 L179.58,186.81 L180.02,187.44 L180.45,187.28 L180.89,187.17 L181.32,187.51 L181.76,187.44 L182.19,187.54 L182.63,187.31 L183.06,187.24 L183.50,186.93" fill="none" stroke="#111111" stroke-width="1.35" stroke-linejoin="round" stroke-linecap="round"/>
<path d="M49.38,253.27 L50.10,253.27 L50.83,253.27 L51.55,253.27 L52.27,253.27 L53.00,253.27" fill="none" stroke="#7a2a9a" stroke-width="1.5" stroke-linejoin="round" stroke-linecap="round"/>
<path d="M53.00,249.08 L53.44,249.19 L53.87,248.86 L54.30,248.47 L54.74,248.15 L55.17,247.94 L55.61,247.49 L56.05,247.37 L56.48,247.56 L56.91,247.82 L57.35,247.47 L57.78,247.25 L58.22,247.23 L58.66,247.54 L59.09,247.56 L59.52,247.46 L59.96,247.57 L60.39,247.61 L60.83,247.56 L61.27,247.19 L61.70,247.24 L62.13,247.42 L62.57,247.33 L63.00,247.55 L63.44,247.56 L63.88,247.36 L64.31,247.40 L64.75,247.67 L65.18,247.27 L65.61,247.81 L66.05,247.57 L66.48,247.29 L66.92,247.25 L67.36,247.02 L67.79,247.48 L68.22,247.44 L68.66,247.31 L69.09,247.31 L69.53,247.44 L69.97,247.26 L70.40,247.20 L70.83,246.93 L71.27,247.05 L71.70,246.93" fill="none" stroke="#b133b5" stroke-width="1.5" stroke-linejoin="round" stroke-linecap="round"/>
<path d="M231.65,247.94 L232.12,247.99 L232.58,247.73 L233.05,248.02 L233.52,247.84 L233.98,247.69 L234.45,247.96 L234.92,247.72 L235.38,248.02 L235.85,247.87 L236.31,248.02 L236.78,246.67 L237.25,245.25 L237.71,243.82 L238.18,242.37 L238.65,239.69 L239.11,236.66 L239.58,233.28 L240.05,231.06 L240.51,227.90 L240.98,225.28 L241.45,223.02 L241.91,220.14 L242.38,218.28 L242.85,215.35 L243.31,212.86 L243.78,211.24 L244.25,210.03 L244.71,209.38 L245.18,208.82 L245.65,208.26 L246.11,207.89 L246.58,207.73 L247.04,207.19 L247.51,207.17 L247.98,206.66 L248.44,206.68 L248.91,205.79 L249.38,206.06 L249.84,205.75 L250.31,205.03 L250.78,204.97 L251.24,205.17 L251.71,204.61 L252.18,204.08 L252.64,204.38 L253.11,204.45 L253.58,204.21 L254.04,203.58 L254.51,203.83 L254.97,203.69 L255.44,202.85 L255.91,203.45 L256.37,203.07 L256.84,203.03 L257.31,202.62 L257.77,202.37 L258.24,201.99 L258.71,202.17 L259.17,201.56 L259.64,201.64 L260.11,201.08 L260.57,201.33 L261.04,201.09 L261.51,201.35 L261.97,201.22 L262.44,200.66 L262.91,200.26 L263.37,200.88 L263.84,200.51 L264.31,200.40 L264.77,200.26 L265.24,200.05 L265.70,199.97 L266.17,199.86 L266.64,200.42 L267.10,200.15 L267.57,199.35 L268.04,199.46 L268.50,199.96 L268.97,199.66 L269.44,199.41 L269.90,199.59 L270.37,199.47 L270.84,199.62 L271.30,199.47 L271.77,198.82 L272.24,199.14 L272.70,199.13 L273.17,198.95 L273.63,199.17 L274.10,198.91 L274.57,198.95 L275.03,198.76 L275.50,199.04 L275.97,198.84 L276.43,198.54 L276.90,198.62 L277.37,198.86 L277.83,199.03 L278.30,198.49 L278.77,198.49 L279.23,198.64 L279.70,198.68 L280.17,198.47 L280.63,198.37 L281.10,198.26 L281.57,198.26 L282.03,198.24 L282.50,198.41 L282.97,198.18 L283.43,198.23 L283.90,198.28 L284.36,198.13 L284.83,197.64 L285.30,198.22 L285.76,198.13 L286.23,198.04 L286.70,198.07 L287.16,198.05 L287.63,197.89 L288.10,198.15 L288.56,197.84 L289.03,197.74 L289.50,198.03 L289.96,197.51 L290.43,198.17 L290.90,197.78 L291.36,197.83 L291.83,197.79 L292.30,197.99 L292.76,198.10 L293.23,197.75 L293.69,198.16 L294.16,197.63 L294.63,197.64 L295.09,197.76 L295.56,197.63 L296.03,197.71 L296.49,197.71 L296.96,197.75 L297.43,197.87 L297.89,197.76 L298.36,197.72 L298.83,197.83 L299.29,197.71 L299.76,197.93 L300.23,197.61 L300.69,197.70 L301.16,198.09 L301.62,197.72 L302.09,197.86 L302.56,197.67 L303.02,197.32 L303.49,197.80 L303.96,197.59 L304.42,197.81 L304.89,197.69 L305.36,197.47 L305.82,197.52 L306.29,197.60 L306.76,197.40 L307.22,197.37 L307.69,197.17 L308.16,197.93 L308.62,197.86 L309.09,197.80 L309.56,197.70 L310.02,197.37 L310.49,197.53 L310.95,197.65 L311.42,197.59 L311.89,197.72 L312.35,197.35 L312.82,197.47 L313.29,197.53 L313.75,197.85 L314.22,197.63 L314.69,197.78 L315.15,197.61 L315.62,197.37 L316.09,197.66 L316.55,197.36 L317.02,197.67 L317.49,197.12 L317.95,197.51 L318.42,197.58 L318.89,197.32 L319.35,197.31 L319.82,197.66 L320.29,197.69 L320.75,197.69 L321.22,197.35 L321.68,197.59 L322.15,197.56 L322.62,197.40 L323.08,197.63 L323.55,197.38 L324.02,197.38 L324.48,197.59 L324.95,197.63" fill="none" stroke="#2a2ac4" stroke-width="1.35" stroke-linejoin="round" stroke-linecap="round"/>
<path d="M231.65,247.71 L232.12,248.26 L232.58,247.90 L233.05,247.60 L233.52,248.04 L233.98,248.16 L234.45,247.82 L234.92,247.94 L235.38,248.11 L235.85,247.84 L236.31,247.78 L236.78,246.60 L237.25,245.34 L237.71,243.99 L238.18,241.93 L238.65,239.56 L239.11,236.70 L239.58,233.74 L240.05,230.48 L240.51,227.91 L240.98,225.47 L241.45,222.76 L241.91,220.22 L242.38,217.77 L242.85,215.37 L243.31,213.23 L243.78,211.60 L244.25,209.63 L244.71,208.60 L245.18,207.10 L245.65,205.84 L246.11,205.09 L246.58,204.49 L247.04,203.79 L247.51,203.01 L247.98,202.73 L248.44,202.61 L248.91,201.83 L249.38,201.85 L249.84,201.53 L250.31,201.26 L250.78,201.06 L251.24,201.06 L251.71,200.80 L252.18,200.58 L252.64,200.22 L253.11,200.57 L253.58,199.89 L254.04,199.61 L254.51,199.94 L254.97,199.53 L255.44,199.43 L255.91,199.38 L256.37,198.67 L256.84,198.63 L257.31,198.22 L257.77,198.05 L258.24,197.92 L258.71,197.98 L259.17,197.67 L259.64,197.60 L260.11,197.60 L260.57,197.37 L261.04,197.55 L261.51,197.45 L261.97,197.30 L262.44,197.20 L262.91,197.29 L263.37,197.49 L263.84,197.26 L264.31,196.89 L264.77,197.27 L265.24,197.12 L265.70,197.48 L266.17,197.17 L266.64,197.15 L267.10,197.34 L267.57,197.20 L268.04,197.23 L268.50,197.06 L268.97,197.14 L269.44,197.45 L269.90,197.03 L270.37,196.69 L270.84,197.41 L271.30,197.33 L271.77,197.21 L272.24,197.29 L272.70,197.28 L273.17,197.03 L273.63,196.63 L274.10,196.84 L274.57,197.05 L275.03,196.94 L275.50,196.82 L275.97,196.84 L276.43,196.98 L276.90,197.13 L277.37,197.09 L277.83,196.50 L278.30,196.71 L278.77,196.76 L279.23,196.64 L279.70,196.92 L280.17,196.83 L280.63,196.72 L281.10,196.97 L281.57,196.87 L282.03,196.62 L282.50,196.73 L282.97,196.94 L283.43,196.76 L283.90,196.51 L284.36,196.61 L284.83,196.28 L285.30,196.19 L285.76,196.65 L286.23,196.34 L286.70,196.47 L287.16,196.58 L287.63,196.27 L288.10,196.21 L288.56,196.72 L289.03,196.68 L289.50,196.14 L289.96,196.18 L290.43,196.15 L290.90,196.14 L291.36,196.44 L291.83,196.46 L292.30,196.45 L292.76,196.16 L293.23,196.11 L293.69,196.60 L294.16,196.56 L294.63,196.15 L295.09,196.43 L295.56,196.15 L296.03,196.41 L296.49,196.40 L296.96,196.42 L297.43,196.14 L297.89,196.08 L298.36,196.31 L298.83,196.25 L299.29,196.24 L299.76,196.10 L300.23,196.16 L300.69,196.12 L301.16,196.25 L301.62,196.14 L302.09,196.13 L302.56,196.14 L303.02,196.05 L303.49,196.33 L303.96,195.96 L304.42,195.84 L304.89,196.05 L305.36,196.39 L305.82,195.83 L306.29,196.09 L306.76,196.02 L307.22,196.02 L307.69,195.64 L308.16,196.22 L308.62,196.01 L309.09,196.08 L309.56,195.87 L310.02,195.85 L310.49,195.81 L310.95,195.93 L311.42,195.91 L311.89,195.90 L312.35,195.87 L312.82,195.87 L313.29,196.05 L313.75,195.50 L314.22,195.87 L314.69,196.47 L315.15,195.92 L315.62,195.90 L316.09,196.16 L316.55,195.95 L317.02,195.94 L317.49,196.06 L317.95,195.87 L318.42,196.21 L318.89,195.67 L319.35,196.26 L319.82,196.24 L320.29,195.88 L320.75,196.30 L321.22,195.74 L321.68,195.77 L322.15,195.77 L322.62,196.21 L323.08,195.83 L323.55,196.10 L324.02,195.75 L324.48,195.74 L324.95,196.21" fill="none" stroke="#2fa23a" stroke-width="1.5" stroke-linejoin="round" stroke-linecap="round"/>
<path d="M231.65,248.10 L232.12,248.27 L232.58,247.57 L233.05,247.66 L233.52,248.20 L233.98,247.96 L234.45,248.64 L234.92,247.75 L235.38,247.82 L235.85,248.16 L236.31,247.66 L236.78,246.98 L237.25,245.70 L237.71,243.86 L238.18,242.02 L238.65,239.38 L239.11,236.58 L239.58,233.60 L240.05,230.47 L240.51,227.86 L240.98,225.30 L241.45,222.62 L241.91,220.03 L242.38,217.93 L242.85,215.44 L243.31,213.53 L243.78,211.63 L244.25,210.10 L244.71,208.60 L245.18,206.32 L245.65,206.14 L246.11,204.72 L246.58,203.96 L247.04,203.57 L247.51,203.06 L247.98,202.07 L248.44,202.07 L248.91,201.50 L249.38,201.22 L249.84,201.06 L250.31,200.62 L250.78,200.39 L251.24,200.13 L251.71,199.80 L252.18,199.92 L252.64,199.56 L253.11,199.89 L253.58,199.28 L254.04,199.37 L254.51,199.00 L254.97,199.11 L255.44,198.37 L255.91,198.65 L256.37,197.88 L256.84,198.52 L257.31,198.14 L257.77,197.68 L258.24,197.26 L258.71,197.55 L259.17,197.53 L259.64,197.41 L260.11,197.61 L260.57,197.52 L261.04,196.44 L261.51,197.34 L261.97,197.06 L262.44,196.78 L262.91,196.75 L263.37,196.84 L263.84,196.82 L264.31,196.44 L264.77,196.20 L265.24,196.68 L265.70,196.94 L266.17,197.01 L266.64,196.67 L267.10,196.31 L267.57,196.47 L268.04,196.59 L268.50,196.40 L268.97,196.43 L269.44,196.43 L269.90,196.31 L270.37,196.29 L270.84,196.38 L271.30,196.57 L271.77,196.28 L272.24,196.60 L272.70,196.22 L273.17,196.37 L273.63,196.56 L274.10,195.69 L274.57,196.32 L275.03,195.97 L275.50,196.34 L275.97,196.14 L276.43,195.87 L276.90,196.38 L277.37,196.06 L277.83,195.73 L278.30,196.16 L278.77,195.89 L279.23,196.04 L279.70,196.08 L280.17,196.08 L280.63,195.90 L281.10,195.90 L281.57,195.98 L282.03,195.75 L282.50,195.87 L282.97,195.76 L283.43,195.62 L283.90,195.74 L284.36,195.80 L284.83,196.00 L285.30,195.81 L285.76,196.21 L286.23,196.00 L286.70,195.67 L287.16,195.59 L287.63,195.43 L288.10,195.63 L288.56,196.02 L289.03,195.50 L289.50,195.46 L289.96,195.82 L290.43,195.50 L290.90,195.90 L291.36,195.84 L291.83,195.53 L292.30,195.42 L292.76,195.34 L293.23,195.40 L293.69,195.57 L294.16,195.40 L294.63,195.37 L295.09,195.66 L295.56,195.46 L296.03,195.26 L296.49,195.20 L296.96,195.65 L297.43,195.38 L297.89,195.53 L298.36,195.29 L298.83,195.19 L299.29,195.51 L299.76,195.36 L300.23,195.34 L300.69,195.28 L301.16,195.24 L301.62,195.29 L302.09,195.34 L302.56,195.14 L303.02,196.01 L303.49,195.83 L303.96,195.55 L304.42,195.43 L304.89,195.39 L305.36,195.22 L305.82,195.43 L306.29,195.50 L306.76,195.40 L307.22,195.46 L307.69,195.21 L308.16,195.05 L308.62,195.14 L309.09,195.10 L309.56,195.09 L310.02,195.28 L310.49,195.66 L310.95,195.53 L311.42,195.38 L311.89,195.09 L312.35,195.11 L312.82,195.13 L313.29,194.96 L313.75,195.31 L314.22,195.22 L314.69,195.12 L315.15,195.21 L315.62,195.30 L316.09,195.56 L316.55,195.17 L317.02,195.02 L317.49,195.60 L317.95,195.17 L318.42,195.02 L318.89,195.01 L319.35,195.02 L319.82,195.23 L320.29,195.02 L320.75,194.97 L321.22,194.98 L321.68,195.25 L322.15,195.08 L322.62,195.10 L323.08,195.23 L323.55,195.31 L324.02,194.99 L324.48,195.39 L324.95,194.94" fill="none" stroke="#111111" stroke-width="1.35" stroke-linejoin="round" stroke-linecap="round"/>
<path d="M373.30,252.42 L373.76,251.40 L374.23,250.41 L374.69,249.34 L375.16,247.65 L375.62,246.51 L376.09,244.61 L376.56,242.68 L377.02,240.70 L377.49,237.97 L377.95,235.52 L378.42,232.32 L378.88,229.80 L379.35,228.20 L379.81,226.94 L380.28,225.48 L380.74,224.23 L381.20,223.43 L381.67,221.81 L382.13,221.08 L382.60,219.96 L383.06,218.60 L383.53,217.58 L384.00,216.18 L384.46,215.34 L384.93,214.44 L385.39,213.21 L385.86,212.48 L386.32,211.69 L386.79,211.11 L387.25,210.00 L387.72,210.10 L388.18,209.50 L388.65,208.92 L389.11,207.94 L389.57,208.09 L390.04,207.39 L390.50,207.26 L390.97,206.32 L391.44,206.17 L391.90,206.05 L392.37,205.16 L392.83,205.13 L393.30,204.93 L393.76,204.35 L394.23,204.14 L394.69,203.83 L395.16,203.51 L395.62,203.69 L396.09,202.71 L396.55,202.57 L397.01,202.78 L397.48,203.03 L397.94,202.12 L398.41,202.34 L398.88,201.77 L399.34,201.89 L399.81,201.89 L400.27,201.65 L400.74,201.85 L401.20,201.43 L401.67,200.71 L402.13,200.42 L402.60,200.50 L403.06,200.78 L403.53,200.37 L403.99,200.16 L404.46,200.14 L404.92,200.54 L405.38,199.89 L405.85,199.83 L406.31,199.44 L406.78,199.77 L407.25,199.24 L407.71,199.26 L408.18,198.56 L408.64,198.67 L409.11,199.13 L409.57,199.08 L410.04,198.79 L410.50,198.65 L410.97,198.37 L411.43,198.71 L411.89,198.38 L412.36,198.39 L412.82,198.28 L413.29,198.07 L413.75,198.50 L414.22,198.04 L414.69,198.11 L415.15,197.96 L415.62,197.71 L416.08,198.35 L416.55,197.98 L417.01,197.96 L417.48,197.28 L417.94,197.23 L418.41,197.42 L418.87,197.61 L419.34,197.24 L419.80,197.55 L420.26,197.64 L420.73,196.98 L421.19,197.23 L421.66,197.33 L422.12,197.02 L422.59,196.67 L423.06,196.79 L423.52,196.85 L423.99,197.28 L424.45,196.63 L424.92,196.35 L425.38,196.54 L425.85,196.67 L426.31,196.51 L426.78,196.17 L427.24,196.54 L427.71,196.69 L428.17,196.31 L428.63,195.87 L429.10,195.56 L429.56,196.19 L430.03,195.89 L430.50,196.16 L430.96,195.97 L431.43,196.09 L431.89,196.00 L432.36,195.74 L432.82,195.28 L433.29,195.63 L433.75,195.61 L434.22,195.52 L434.68,195.65 L435.14,194.98 L435.61,194.93 L436.07,195.02 L436.54,195.32 L437.00,195.14 L437.47,195.52 L437.94,194.99 L438.40,194.75 L438.87,194.86 L439.33,194.98 L439.80,195.06 L440.26,194.86 L440.73,194.40 L441.19,194.76 L441.66,194.62 L442.12,194.17 L442.59,194.75 L443.05,194.91 L443.51,194.45 L443.98,194.33 L444.44,194.26 L444.91,193.84 L445.38,194.23 L445.84,194.02 L446.31,193.96 L446.77,193.94 L447.24,194.12 L447.70,193.61 L448.17,193.55 L448.63,194.17 L449.10,193.86 L449.56,193.88 L450.02,193.80 L450.49,193.95 L450.96,192.95 L451.42,193.47 L451.88,193.55 L452.35,193.11 L452.81,193.49 L453.28,193.45 L453.75,193.01 L454.21,193.58 L454.68,193.63 L455.14,193.20 L455.61,193.46 L456.07,193.17 L456.54,193.54 L457.00,193.69 L457.47,192.79 L457.93,192.92 L458.39,193.03 L458.86,193.11 L459.33,193.20 L459.79,192.93 L460.25,193.32 L460.72,193.27 L461.19,193.13 L461.65,193.03 L462.12,193.16 L462.58,193.24 L463.05,192.99 L463.51,193.15 L463.98,193.04 L464.44,193.02 L464.91,192.99 L465.37,193.20 L465.84,193.19 L466.30,192.85" fill="none" stroke="#2a2ac4" stroke-width="1.35" stroke-linejoin="round" stroke-linecap="round"/>
<path d="M373.30,251.98 L373.76,251.71 L374.23,250.27 L374.69,248.98 L375.16,247.94 L375.62,246.41 L376.09,244.79 L376.56,242.14 L377.02,240.57 L377.49,237.79 L377.95,235.62 L378.42,232.90 L378.88,230.36 L379.35,227.95 L379.81,225.45 L380.28,223.63 L380.74,221.22 L381.20,219.35 L381.67,217.54 L382.13,215.51 L382.60,213.89 L383.06,212.32 L383.53,210.70 L384.00,208.67 L384.46,207.31 L384.93,205.92 L385.39,204.56 L385.86,203.27 L386.32,202.52 L386.79,202.05 L387.25,201.19 L387.72,200.55 L388.18,199.37 L388.65,199.46 L389.11,198.52 L389.57,197.99 L390.04,197.86 L390.50,197.39 L390.97,197.23 L391.44,196.83 L391.90,196.58 L392.37,196.55 L392.83,195.79 L393.30,195.76 L393.76,195.31 L394.23,195.32 L394.69,195.27 L395.16,194.71 L395.62,194.86 L396.09,194.65 L396.55,194.19 L397.01,193.91 L397.48,193.57 L397.94,193.65 L398.41,193.64 L398.88,193.24 L399.34,193.14 L399.81,193.15 L400.27,192.73 L400.74,192.38 L401.20,192.66 L401.67,192.18 L402.13,191.88 L402.60,191.61 L403.06,192.06 L403.53,192.07 L403.99,191.65 L404.46,191.41 L404.92,191.45 L405.38,191.09 L405.85,191.13 L406.31,191.09 L406.78,190.78 L407.25,190.88 L407.71,191.00 L408.18,190.59 L408.64,190.39 L409.11,190.09 L409.57,190.38 L410.04,190.33 L410.50,189.86 L410.97,190.20 L411.43,190.27 L411.89,189.71 L412.36,190.05 L412.82,189.95 L413.29,189.38 L413.75,189.95 L414.22,189.42 L414.69,189.82 L415.15,189.55 L415.62,189.44 L416.08,189.23 L416.55,189.57 L417.01,189.38 L417.48,189.28 L417.94,189.02 L418.41,189.43 L418.87,189.06 L419.34,189.10 L419.80,189.53 L420.26,189.31 L420.73,189.04 L421.19,188.88 L421.66,188.88 L422.12,189.11 L422.59,188.74 L423.06,188.81 L423.52,188.62 L423.99,188.83 L424.45,189.10 L424.92,188.61 L425.38,188.96 L425.85,188.73 L426.31,188.99 L426.78,188.47 L427.24,188.50 L427.71,188.72 L428.17,188.78 L428.63,188.56 L429.10,188.78 L429.56,188.34 L430.03,188.88 L430.50,188.85 L430.96,188.37 L431.43,188.51 L431.89,188.37 L432.36,188.43 L432.82,188.53 L433.29,188.58 L433.75,188.72 L434.22,188.56 L434.68,188.39 L435.14,188.19 L435.61,188.32 L436.07,188.52 L436.54,188.20 L437.00,188.26 L437.47,188.13 L437.94,188.25 L438.40,188.13 L438.87,188.42 L439.33,187.85 L439.80,188.00 L440.26,188.32 L440.73,188.24 L441.19,188.34 L441.66,188.26 L442.12,188.16 L442.59,188.11 L443.05,188.17 L443.51,188.03 L443.98,187.83 L444.44,188.18 L444.91,187.71 L445.38,187.56 L445.84,187.78 L446.31,187.74 L446.77,188.09 L447.24,187.84 L447.70,187.85 L448.17,187.80 L448.63,187.62 L449.10,187.89 L449.56,187.66 L450.02,188.08 L450.49,187.28 L450.96,187.91 L451.42,187.36 L451.88,187.58 L452.35,187.38 L452.81,187.62 L453.28,187.32 L453.75,187.50 L454.21,187.40 L454.68,187.69 L455.14,187.72 L455.61,187.04 L456.07,187.05 L456.54,187.32 L457.00,187.16 L457.47,187.13 L457.93,187.67 L458.39,187.19 L458.86,187.45 L459.33,186.88 L459.79,187.35 L460.25,187.24 L460.72,186.95 L461.19,186.68 L461.65,186.78 L462.12,186.51 L462.58,187.14 L463.05,186.65 L463.51,186.89 L463.98,186.78 L464.44,186.95 L464.91,186.65 L465.37,186.80 L465.84,186.55 L466.30,186.59" fill="none" stroke="#2fa23a" stroke-width="1.35" stroke-linejoin="round" stroke-linecap="round"/>
<path d="M373.30,252.14 L373.76,251.23 L374.23,250.78 L374.69,249.23 L375.16,248.44 L375.62,246.54 L376.09,244.59 L376.56,242.49 L377.02,240.43 L377.49,237.72 L377.95,235.59 L378.42,232.97 L378.88,230.55 L379.35,227.51 L379.81,225.75 L380.28,223.37 L380.74,221.47 L381.20,219.10 L381.67,217.33 L382.13,215.85 L382.60,213.55 L383.06,212.28 L383.53,210.67 L384.00,209.31 L384.46,208.03 L384.93,207.24 L385.39,206.60 L385.86,205.58 L386.32,205.15 L386.79,204.42 L387.25,203.99 L387.72,203.26 L388.18,202.57 L388.65,201.99 L389.11,201.82 L389.57,201.26 L390.04,201.43 L390.50,200.83 L390.97,200.28 L391.44,200.30 L391.90,199.82 L392.37,199.76 L392.83,199.59 L393.30,199.22 L393.76,198.90 L394.23,198.77 L394.69,198.43 L395.16,197.67 L395.62,198.27 L396.09,197.86 L396.55,197.91 L397.01,196.84 L397.48,196.93 L397.94,197.05 L398.41,196.94 L398.88,196.62 L399.34,196.59 L399.81,196.22 L400.27,196.32 L400.74,196.03 L401.20,195.54 L401.67,195.87 L402.13,195.35 L402.60,195.66 L403.06,195.16 L403.53,194.76 L403.99,195.02 L404.46,194.54 L404.92,194.21 L405.38,194.26 L405.85,193.81 L406.31,194.34 L406.78,194.05 L407.25,193.90 L407.71,194.29 L408.18,193.63 L408.64,193.84 L409.11,193.67 L409.57,193.27 L410.04,193.18 L410.50,192.83 L410.97,193.05 L411.43,193.06 L411.89,192.61 L412.36,192.77 L412.82,192.32 L413.29,192.15 L413.75,192.05 L414.22,192.03 L414.69,191.81 L415.15,192.11 L415.62,191.53 L416.08,191.23 L416.55,191.66 L417.01,191.27 L417.48,191.40 L417.94,191.19 L418.41,191.09 L418.87,190.97 L419.34,190.61 L419.80,191.27 L420.26,190.95 L420.73,190.36 L421.19,190.39 L421.66,190.71 L422.12,190.19 L422.59,190.10 L423.06,190.25 L423.52,189.50 L423.99,189.96 L424.45,189.72 L424.92,189.68 L425.38,189.77 L425.85,189.58 L426.31,189.73 L426.78,189.84 L427.24,189.67 L427.71,189.31 L428.17,189.02 L428.63,189.60 L429.10,188.87 L429.56,189.09 L430.03,189.10 L430.50,188.99 L430.96,189.40 L431.43,188.99 L431.89,189.09 L432.36,188.97 L432.82,188.50 L433.29,188.90 L433.75,189.28 L434.22,189.17 L434.68,188.41 L435.14,188.68 L435.61,188.94 L436.07,188.46 L436.54,188.56 L437.00,188.57 L437.47,188.56 L437.94,188.69 L438.40,188.50 L438.87,188.44 L439.33,188.06 L439.80,188.22 L440.26,188.40 L440.73,187.83 L441.19,187.90 L441.66,188.22 L442.12,187.97 L442.59,188.18 L443.05,188.18 L443.51,187.86 L443.98,188.03 L444.44,187.91 L444.91,188.17 L445.38,187.78 L445.84,187.64 L446.31,187.87 L446.77,187.81 L447.24,187.17 L447.70,187.73 L448.17,187.79 L448.63,187.68 L449.10,187.45 L449.56,187.58 L450.02,187.77 L450.49,187.23 L450.96,187.69 L451.42,187.19 L451.88,187.79 L452.35,187.56 L452.81,187.65 L453.28,187.24 L453.75,187.42 L454.21,187.56 L454.68,187.40 L455.14,187.32 L455.61,186.93 L456.07,187.14 L456.54,186.83 L457.00,186.91 L457.47,186.82 L457.93,187.48 L458.39,187.49 L458.86,187.27 L459.33,187.27 L459.79,187.29 L460.25,187.20 L460.72,187.22 L461.19,187.42 L461.65,186.58 L462.12,187.11 L462.58,186.73 L463.05,186.77 L463.51,186.67 L463.98,187.24 L464.44,186.56 L464.91,186.29 L465.37,186.44 L465.84,186.65 L466.30,186.62" fill="none" stroke="#111111" stroke-width="1.35" stroke-linejoin="round" stroke-linecap="round"/>
<path d="M48.36,390.80 L48.80,391.67 L49.23,391.91 L49.66,392.01 L50.10,393.01 L50.53,392.21 L50.97,393.02 L51.41,392.24 L51.84,392.35 L52.27,392.92 L52.71,392.96" fill="none" stroke="#dd2a25" stroke-width="2.2" stroke-linejoin="round" stroke-linecap="round"/>
<path d="M48.94,393.26 L49.38,394.05 L49.81,394.77 L50.24,394.09 L50.68,394.77 L51.12,394.27 L51.55,394.79 L51.98,394.30 L52.42,394.39 L52.85,394.98" fill="none" stroke="#2a2ac4" stroke-width="2.2" stroke-linejoin="round" stroke-linecap="round"/>
<path d="M53.00,387.47 L53.44,387.69 L53.87,387.87 L54.30,387.41 L54.74,387.61 L55.17,387.69 L55.61,387.34 L56.05,387.29 L56.48,387.66 L56.91,387.31 L57.35,387.44 L57.78,387.65 L58.22,387.59 L58.66,387.50 L59.09,387.54 L59.52,387.62 L59.96,387.56 L60.39,387.57 L60.83,387.37 L61.27,387.33 L61.70,387.52 L62.13,387.47 L62.57,387.43 L63.00,387.42 L63.44,387.39 L63.88,387.50 L64.31,387.42 L64.75,387.38 L65.18,387.55 L65.61,387.36 L66.05,387.58 L66.48,387.53 L66.92,387.64 L67.36,387.52 L67.79,387.42 L68.22,387.41 L68.66,387.23 L69.09,387.18 L69.53,387.45 L69.97,387.33 L70.40,387.14 L70.83,387.42 L71.27,387.46 L71.70,387.28 L72.14,387.03 L72.58,387.34 L73.01,387.22 L73.44,387.41 L73.88,386.77 L74.31,385.18 L74.75,383.27 L75.19,380.61 L75.62,377.89 L76.06,375.38 L76.49,373.22 L76.92,370.55 L77.36,368.41 L77.80,365.95 L78.23,363.70 L78.66,361.38 L79.10,359.39 L79.53,357.63 L79.97,355.64 L80.41,354.15 L80.84,352.58 L81.28,351.17 L81.71,350.51 L82.14,349.26 L82.58,348.32 L83.02,347.67 L83.45,346.73 L83.88,346.35 L84.32,345.59 L84.75,345.05 L85.19,344.83 L85.62,344.52 L86.06,343.67 L86.50,343.54 L86.93,342.95 L87.36,342.73 L87.80,342.20 L88.23,342.02 L88.67,341.70 L89.10,341.40 L89.54,341.05 L89.97,340.88 L90.41,340.47 L90.84,340.56 L91.28,340.26 L91.72,339.94 L92.15,339.82 L92.58,339.72 L93.02,339.46 L93.45,339.31 L93.89,338.94 L94.32,338.75 L94.76,338.78 L95.19,338.70 L95.63,338.45 L96.06,338.56 L96.50,338.17 L96.94,338.10 L97.37,338.32 L97.81,337.95 L98.24,337.45 L98.67,337.54 L99.11,337.64 L99.54,337.56 L99.98,337.49 L100.41,337.13 L100.85,337.03 L101.28,336.94 L101.72,336.86 L102.16,336.65 L102.59,336.48 L103.03,336.41 L103.46,336.51 L103.89,336.30 L104.33,336.01 L104.76,335.75 L105.20,335.69 L105.63,335.80 L106.07,335.81 L106.50,335.28 L106.94,335.27 L107.38,335.42 L107.81,334.99 L108.25,334.97 L108.68,335.17 L109.11,335.03 L109.55,334.88 L109.98,334.92 L110.42,334.93 L110.85,334.47 L111.29,334.88 L111.72,334.83 L112.16,334.84 L112.59,334.65 L113.03,334.71 L113.47,334.61 L113.90,334.49 L114.33,334.63 L114.77,334.38 L115.20,334.58 L115.64,334.47 L116.07,334.40 L116.51,334.34 L116.94,333.98 L117.38,334.03 L117.81,334.62 L118.25,333.88 L118.69,334.09 L119.12,334.16 L119.55,334.27 L119.99,333.79 L120.42,334.13 L120.86,334.03 L121.30,334.20 L121.73,334.12 L122.16,334.22 L122.60,333.99 L123.03,333.89 L123.47,333.76 L123.91,333.53 L124.34,333.48 L124.77,333.54 L125.21,333.61 L125.64,333.32 L126.08,333.50 L126.52,333.61 L126.95,333.29 L127.38,333.45 L127.82,333.05 L128.25,332.99 L128.69,333.31 L129.12,333.06 L129.56,332.97 L130.00,333.01 L130.43,332.90 L130.87,333.04 L131.30,333.13 L131.74,332.80 L132.17,332.85 L132.60,333.05 L133.04,332.79 L133.47,332.83 L133.91,332.41 L134.34,333.09 L134.78,332.41 L135.21,332.56 L135.65,332.39 L136.08,332.45 L136.52,332.63 L136.95,332.20 L137.39,332.52 L137.82,332.11 L138.26,332.45 L138.69,332.67 L139.13,332.30 L139.56,332.44 L140.00,332.18 L140.44,332.07 L140.87,332.35 L141.31,331.95 L141.74,332.13 L142.18,332.19 L142.61,331.92 L143.04,331.82 L143.48,331.97 L143.91,332.18 L144.35,331.75 L144.78,331.83 L145.22,332.07 L145.65,331.96 L146.09,331.85 L146.52,331.65 L146.96,331.99 L147.39,331.73 L147.83,331.46 L148.26,331.48 L148.70,331.84 L149.13,331.49 L149.57,331.77 L150.00,331.59 L150.44,331.51 L150.88,331.53 L151.31,331.41 L151.75,331.42 L152.18,331.46 L152.62,331.56 L153.05,331.67 L153.49,331.53 L153.92,331.29 L154.35,331.45 L154.79,331.53 L155.22,331.58 L155.66,331.59 L156.09,331.33 L156.53,331.56 L156.96,331.32 L157.40,331.36 L157.83,331.08 L158.27,331.27 L158.70,331.50 L159.14,331.21 L159.57,331.23 L160.01,331.30 L160.44,331.18 L160.88,331.24 L161.31,330.89 L161.75,331.05 L162.19,331.07 L162.62,331.31 L163.06,330.97 L163.49,330.86 L163.93,331.17 L164.36,331.19 L164.79,331.21 L165.23,331.11 L165.66,330.92 L166.10,331.04 L166.53,331.08 L166.97,330.69 L167.40,330.88 L167.84,330.94 L168.27,330.87 L168.71,330.89 L169.14,330.77 L169.58,330.74 L170.01,331.09 L170.45,330.57 L170.88,330.76 L171.32,330.81 L171.75,330.57 L172.19,330.51 L172.62,330.58 L173.06,330.55 L173.50,330.73 L173.93,330.76 L174.37,330.37 L174.80,330.43 L175.23,330.35 L175.67,330.50 L176.10,330.30 L176.54,330.01 L176.97,330.49 L177.41,330.45 L177.84,330.32 L178.28,329.98 L178.71,329.87 L179.15,330.25 L179.58,329.94 L180.02,330.16 L180.45,330.12 L180.89,330.20 L181.32,330.06 L181.76,330.37 L182.19,329.95 L182.63,329.97 L183.06,330.19 L183.50,329.89" fill="none" stroke="#111111" stroke-width="1.35" stroke-linejoin="round" stroke-linecap="round"/>
<path d="M53.00,387.71 L53.44,387.61 L53.87,387.73 L54.30,387.45 L54.74,387.81 L55.17,387.67 L55.61,387.50 L56.05,387.46 L56.48,387.66 L56.91,387.62 L57.35,387.46 L57.78,387.29 L58.22,387.66 L58.66,387.49 L59.09,387.51 L59.52,387.64 L59.96,387.37 L60.39,387.39 L60.83,387.56 L61.27,387.71 L61.70,387.43 L62.13,387.54 L62.57,387.37 L63.00,387.89 L63.44,387.67 L63.88,387.69 L64.31,387.49 L64.75,387.54 L65.18,387.57 L65.61,387.44 L66.05,387.72 L66.48,387.69 L66.92,387.61 L67.36,387.47 L67.79,387.87 L68.22,387.41 L68.66,387.72 L69.09,387.53 L69.53,387.40 L69.97,387.47 L70.40,387.38 L70.83,387.58 L71.27,387.69 L71.70,387.42 L72.14,387.67 L72.58,387.54 L73.01,387.75 L73.44,387.33 L73.88,387.77 L74.31,387.63 L74.75,387.65 L75.19,387.16 L75.62,386.95 L76.06,386.61 L76.49,385.53 L76.92,384.86 L77.36,383.74 L77.80,382.39 L78.23,381.12 L78.66,379.51 L79.10,378.01 L79.53,376.50 L79.97,374.37 L80.41,372.30 L80.84,369.05 L81.28,365.50 L81.71,362.97 L82.14,360.38 L82.58,358.43 L83.02,356.34 L83.45,354.66 L83.88,353.56 L84.32,352.81 L84.75,351.89 L85.19,350.79 L85.62,350.06 L86.06,349.23 L86.50,348.75 L86.93,348.19 L87.36,347.45 L87.80,347.09 L88.23,346.20 L88.67,345.78 L89.10,345.03 L89.54,344.08 L89.97,344.22 L90.41,343.21 L90.84,343.17 L91.28,342.39 L91.72,342.34 L92.15,341.65 L92.58,341.63 L93.02,341.41 L93.45,340.73 L93.89,340.59 L94.32,340.22 L94.76,340.23 L95.19,339.95 L95.63,339.63 L96.06,339.45 L96.50,339.26 L96.94,339.03 L97.37,338.81 L97.81,338.83 L98.24,338.40 L98.67,338.51 L99.11,338.12 L99.54,338.21 L99.98,338.04 L100.41,337.81 L100.85,337.47 L101.28,337.42 L101.72,337.17 L102.16,337.03 L102.59,337.14 L103.03,336.68 L103.46,336.72 L103.89,336.71 L104.33,336.57 L104.76,336.62 L105.20,336.15 L105.63,336.30 L106.07,336.27 L106.50,336.17 L106.94,336.07 L107.38,335.98 L107.81,335.91 L108.25,335.66 L108.68,335.81 L109.11,335.59 L109.55,335.43 L109.98,335.41 L110.42,335.31 L110.85,335.41 L111.29,335.34 L111.72,335.15 L112.16,335.37 L112.59,335.20 L113.03,334.92 L113.47,335.01 L113.90,335.03 L114.33,335.06 L114.77,334.84 L115.20,334.74 L115.64,334.78 L116.07,334.64 L116.51,334.44 L116.94,334.52 L117.38,334.46 L117.81,334.48 L118.25,334.15 L118.69,334.53 L119.12,334.22 L119.55,334.41 L119.99,334.32 L120.42,334.16 L120.86,334.17 L121.30,334.39 L121.73,333.92 L122.16,333.97 L122.60,334.16 L123.03,333.93 L123.47,333.84 L123.91,333.71 L124.34,333.55 L124.77,333.82 L125.21,333.83 L125.64,333.76 L126.08,333.62 L126.52,333.54 L126.95,333.82 L127.38,333.39 L127.82,333.57 L128.25,333.37 L128.69,333.18 L129.12,333.37 L129.56,333.23 L130.00,333.38 L130.43,333.18 L130.87,333.21 L131.30,332.90 L131.74,333.22 L132.17,333.10 L132.60,332.82 L133.04,333.00 L133.47,332.59 L133.91,332.69 L134.34,332.66 L134.78,332.57 L135.21,332.80 L135.65,332.47 L136.08,332.35 L136.52,332.55 L136.95,332.68 L137.39,332.48 L137.82,332.59 L138.26,332.26 L138.69,332.21 L139.13,332.02 L139.56,332.36 L140.00,332.38 L140.44,332.42 L140.87,332.34 L141.31,331.84 L141.74,332.08 L142.18,332.14 L142.61,332.17 L143.04,331.95 L143.48,332.16 L143.91,331.99 L144.35,331.74 L144.78,331.89 L145.22,332.09 L145.65,332.01 L146.09,331.80 L146.52,331.86 L146.96,331.77 L147.39,331.65 L147.83,331.71 L148.26,331.76 L148.70,331.89 L149.13,331.74 L149.57,331.67 L150.00,331.56 L150.44,331.66 L150.88,331.77 L151.31,331.29 L151.75,331.69 L152.18,331.22 L152.62,331.56 L153.05,331.64 L153.49,331.54 L153.92,331.58 L154.35,331.31 L154.79,331.59 L155.22,331.56 L155.66,331.71 L156.09,331.45 L156.53,331.33 L156.96,331.43 L157.40,331.50 L157.83,331.58 L158.27,331.18 L158.70,331.28 L159.14,331.18 L159.57,331.44 L160.01,331.36 L160.44,331.29 L160.88,331.19 L161.31,331.44 L161.75,330.99 L162.19,331.15 L162.62,331.23 L163.06,331.20 L163.49,331.27 L163.93,330.94 L164.36,331.10 L164.79,331.19 L165.23,331.12 L165.66,330.91 L166.10,331.16 L166.53,330.93 L166.97,330.77 L167.40,330.99 L167.84,330.96 L168.27,330.65 L168.71,330.50 L169.14,330.78 L169.58,330.89 L170.01,330.81 L170.45,330.65 L170.88,330.58 L171.32,330.69 L171.75,330.44 L172.19,330.44 L172.62,330.62 L173.06,330.60 L173.50,330.57 L173.93,330.44 L174.37,330.68 L174.80,330.57 L175.23,330.52 L175.67,330.44 L176.10,330.44 L176.54,330.44 L176.97,330.53 L177.41,330.50 L177.84,330.32 L178.28,330.45 L178.71,330.11 L179.15,329.98 L179.58,330.02 L180.02,329.77 L180.45,330.04 L180.89,330.12 L181.32,330.34 L181.76,330.18 L182.19,329.98 L182.63,329.94 L183.06,330.08 L183.50,330.08" fill="none" stroke="#2fa23a" stroke-width="1.35" stroke-linejoin="round" stroke-linecap="round"/>
<path d="M53.00,387.56 L53.44,387.56 L53.87,387.56 L54.30,387.56 L54.74,387.56 L55.17,387.56 L55.61,387.56 L56.05,387.56 L56.48,387.56 L56.91,387.56 L57.35,387.56 L57.78,387.56 L58.22,387.56 L58.66,387.56 L59.09,387.56 L59.52,387.56 L59.96,387.56 L60.39,387.56 L60.83,387.56 L61.27,387.55 L61.70,387.55 L62.13,387.55 L62.57,387.55 L63.00,387.55 L63.44,387.55 L63.88,387.55 L64.31,387.55 L64.75,387.55 L65.18,387.54 L65.61,387.54 L66.05,387.54 L66.48,387.54 L66.92,387.54 L67.36,387.53 L67.79,387.53 L68.22,387.53 L68.66,387.53 L69.09,387.52 L69.53,387.52 L69.97,387.52 L70.40,387.52 L70.83,387.51 L71.27,387.51 L71.70,387.51 L72.14,387.50 L72.58,387.50 L73.01,387.50 L73.44,387.49 L73.88,387.49 L74.31,387.48 L74.75,387.48 L75.19,387.48 L75.62,387.47 L76.06,387.47 L76.49,387.46 L76.92,387.46 L77.36,387.45 L77.80,387.45 L78.23,387.44 L78.66,387.43 L79.10,387.43 L79.53,387.42 L79.97,387.42 L80.41,387.41 L80.84,387.35 L81.28,387.09 L81.71,386.71 L82.14,386.28 L82.58,385.89 L83.02,385.60 L83.45,385.33 L83.88,385.07 L84.32,384.83 L84.75,384.59 L85.19,384.34 L85.62,384.07 L86.06,383.79 L86.50,383.47 L86.93,383.13 L87.36,382.75 L87.80,382.35 L88.23,381.92 L88.67,381.47 L89.10,381.02 L89.54,380.55 L89.97,380.09 L90.41,379.62 L90.84,379.15 L91.28,378.66 L91.72,378.17 L92.15,377.66 L92.58,377.14 L93.02,376.62 L93.45,376.10 L93.89,375.58 L94.32,375.07 L94.76,374.56 L95.19,374.06 L95.63,373.56 L96.06,373.07 L96.50,372.57 L96.94,372.08 L97.37,371.59 L97.81,371.11 L98.24,370.62 L98.67,370.12 L99.11,369.63 L99.54,369.13 L99.98,368.64 L100.41,368.13 L100.85,367.62 L101.28,367.10 L101.72,366.58 L102.16,366.05 L102.59,365.51 L103.03,364.98 L103.46,364.45 L103.89,363.92 L104.33,363.40 L104.76,362.89 L105.20,362.38 L105.63,361.89 L106.07,361.41 L106.50,360.94 L106.94,360.48 L107.38,360.02 L107.81,359.57 L108.25,359.12 L108.68,358.68 L109.11,358.24 L109.55,357.80 L109.98,357.37 L110.42,356.93 L110.85,356.50 L111.29,356.08 L111.72,355.65 L112.16,355.22 L112.59,354.79 L113.03,354.36 L113.47,353.92 L113.90,353.48 L114.33,353.04 L114.77,352.60 L115.20,352.16 L115.64,351.73 L116.07,351.31 L116.51,350.89 L116.94,350.49 L117.38,350.11 L117.81,349.74 L118.25,349.40 L118.69,349.06 L119.12,348.74 L119.55,348.42 L119.99,348.11 L120.42,347.81 L120.86,347.51 L121.30,347.22 L121.73,346.94 L122.16,346.66 L122.60,346.39 L123.03,346.13 L123.47,345.87 L123.91,345.63 L124.34,345.38 L124.77,345.15 L125.21,344.92 L125.64,344.70 L126.08,344.48 L126.52,344.26 L126.95,344.05 L127.38,343.85 L127.82,343.64 L128.25,343.44 L128.69,343.24 L129.12,343.04 L129.56,342.85 L130.00,342.66 L130.43,342.47 L130.87,342.29 L131.30,342.11 L131.74,341.93 L132.17,341.75 L132.60,341.57 L133.04,341.40 L133.47,341.23 L133.91,341.06 L134.34,340.90 L134.78,340.73 L135.21,340.57 L135.65,340.41 L136.08,340.26 L136.52,340.10 L136.95,339.95 L137.39,339.79 L137.82,339.64 L138.26,339.49 L138.69,339.35 L139.13,339.20 L139.56,339.05 L140.00,338.91 L140.44,338.77 L140.87,338.63 L141.31,338.49 L141.74,338.35 L142.18,338.21 L142.61,338.07 L143.04,337.93 L143.48,337.80 L143.91,337.66 L144.35,337.53 L144.78,337.40 L145.22,337.27 L145.65,337.14 L146.09,337.01 L146.52,336.88 L146.96,336.76 L147.39,336.64 L147.83,336.52 L148.26,336.40 L148.70,336.28 L149.13,336.16 L149.57,336.05 L150.00,335.94 L150.44,335.83 L150.88,335.72 L151.31,335.61 L151.75,335.51 L152.18,335.41 L152.62,335.31 L153.05,335.21 L153.49,335.11 L153.92,335.02 L154.35,334.93 L154.79,334.84 L155.22,334.76 L155.66,334.67 L156.09,334.59 L156.53,334.51 L156.96,334.43 L157.40,334.35 L157.83,334.27 L158.27,334.20 L158.70,334.12 L159.14,334.05 L159.57,333.98 L160.01,333.90 L160.44,333.83 L160.88,333.77 L161.31,333.70 L161.75,333.63 L162.19,333.56 L162.62,333.50 L163.06,333.43 L163.49,333.37 L163.93,333.30 L164.36,333.24 L164.79,333.18 L165.23,333.12 L165.66,333.05 L166.10,332.99 L166.53,332.93 L166.97,332.87 L167.40,332.81 L167.84,332.75 L168.27,332.69 L168.71,332.63 L169.14,332.57 L169.58,332.51 L170.01,332.45 L170.45,332.39 L170.88,332.33 L171.32,332.27 L171.75,332.21 L172.19,332.16 L172.62,332.10 L173.06,332.04 L173.50,331.99 L173.93,331.93 L174.37,331.87 L174.80,331.82 L175.23,331.77 L175.67,331.71 L176.10,331.66 L176.54,331.60 L176.97,331.55 L177.41,331.50 L177.84,331.45 L178.28,331.39 L178.71,331.34 L179.15,331.29 L179.58,331.24 L180.02,331.19 L180.45,331.14 L180.89,331.10 L181.32,331.05 L181.76,331.00 L182.19,330.95 L182.63,330.91 L183.06,330.86 L183.50,330.82" fill="none" stroke="#dd2a25" stroke-width="1.35" stroke-linejoin="round" stroke-linecap="round"/>
<path d="M53.00,387.37 L53.44,387.74 L53.87,387.87 L54.30,387.64 L54.74,387.63 L55.17,387.41 L55.61,387.25 L56.05,387.85 L56.48,387.38 L56.91,387.27 L57.35,387.66 L57.78,387.47 L58.22,387.71 L58.66,387.51 L59.09,387.28 L59.52,386.88 L59.96,387.20 L60.39,387.99 L60.83,387.57 L61.27,387.82 L61.70,387.86 L62.13,387.19 L62.57,387.85 L63.00,388.08 L63.44,387.55 L63.88,387.94 L64.31,387.92 L64.75,388.01 L65.18,387.78 L65.61,387.46 L66.05,388.22 L66.48,387.70 L66.92,387.72 L67.36,387.73 L67.79,387.84 L68.22,388.04 L68.66,387.85 L69.09,388.02 L69.53,387.07 L69.97,387.39 L70.40,386.99 L70.83,387.77 L71.27,387.59 L71.70,387.66 L72.14,387.62 L72.58,387.65 L73.01,387.48 L73.44,387.57 L73.88,387.93 L74.31,387.08 L74.75,387.47 L75.19,387.39 L75.62,387.35 L76.06,387.04 L76.49,387.62 L76.92,387.63 L77.36,387.88 L77.80,387.84 L78.23,388.00 L78.66,388.01 L79.10,387.72 L79.53,387.89 L79.97,387.83 L80.41,387.84 L80.84,387.51 L81.28,386.74 L81.71,387.55 L82.14,387.41 L82.58,387.62 L83.02,387.29 L83.45,387.07 L83.88,387.47 L84.32,387.36 L84.75,386.82 L85.19,386.62 L85.62,386.87 L86.06,386.92 L86.50,386.35 L86.93,386.40 L87.36,386.45 L87.80,385.71 L88.23,385.86 L88.67,386.12 L89.10,385.47 L89.54,385.54 L89.97,385.56 L90.41,385.30 L90.84,384.83 L91.28,385.53 L91.72,385.37 L92.15,385.02 L92.58,384.81 L93.02,384.94 L93.45,384.81 L93.89,384.96 L94.32,384.34 L94.76,384.33 L95.19,384.23 L95.63,383.69 L96.06,383.87 L96.50,383.44 L96.94,383.54 L97.37,384.16 L97.81,383.14 L98.24,383.27 L98.67,383.73 L99.11,383.03 L99.54,383.28 L99.98,382.66 L100.41,382.59 L100.85,382.82 L101.28,382.15 L101.72,382.15 L102.16,381.46 L102.59,381.67 L103.03,382.04 L103.46,382.15 L103.89,382.10 L104.33,381.73 L104.76,381.28 L105.20,381.58 L105.63,381.28 L106.07,380.83 L106.50,380.45 L106.94,381.34 L107.38,380.99 L107.81,380.84 L108.25,380.95 L108.68,380.97 L109.11,380.14 L109.55,380.11 L109.98,380.16 L110.42,380.38 L110.85,379.75 L111.29,380.14 L111.72,379.72 L112.16,379.60 L112.59,379.91 L113.03,379.19 L113.47,379.59 L113.90,378.79 L114.33,378.16 L114.77,379.01 L115.20,379.32 L115.64,378.91 L116.07,377.78 L116.51,378.21 L116.94,378.08 L117.38,377.67 L117.81,377.77 L118.25,378.15 L118.69,377.09 L119.12,376.95 L119.55,376.92 L119.99,376.93 L120.42,376.95 L120.86,377.45 L121.30,376.58 L121.73,376.84 L122.16,376.54 L122.60,376.62 L123.03,376.40 L123.47,376.87 L123.91,376.57 L124.34,375.79 L124.77,375.82 L125.21,376.02 L125.64,375.81 L126.08,376.17 L126.52,375.04 L126.95,375.34 L127.38,375.10 L127.82,375.82 L128.25,375.29 L128.69,375.03 L129.12,375.45 L129.56,374.98 L130.00,375.67 L130.43,374.89 L130.87,375.16 L131.30,374.60 L131.74,374.14 L132.17,374.55 L132.60,374.41 L133.04,374.45 L133.47,374.31 L133.91,374.61 L134.34,374.10 L134.78,374.25 L135.21,374.25 L135.65,373.80 L136.08,374.10 L136.52,373.35 L136.95,373.48 L137.39,374.14 L137.82,373.70 L138.26,373.45 L138.69,373.30 L139.13,373.31 L139.56,372.99 L140.00,373.23 L140.44,372.61 L140.87,372.83 L141.31,372.65 L141.74,372.64 L142.18,372.91 L142.61,372.66 L143.04,373.35 L143.48,372.47 L143.91,372.98 L144.35,372.33 L144.78,371.87 L145.22,372.01 L145.65,372.05 L146.09,372.19 L146.52,372.25 L146.96,371.79 L147.39,371.79 L147.83,371.87 L148.26,372.01 L148.70,371.44 L149.13,371.77 L149.57,371.45 L150.00,372.01 L150.44,371.04 L150.88,370.91 L151.31,370.74 L151.75,371.40 L152.18,371.45 L152.62,371.06 L153.05,370.37 L153.49,370.74 L153.92,370.68 L154.35,370.19 L154.79,370.54 L155.22,370.16 L155.66,370.45 L156.09,370.29 L156.53,369.92 L156.96,370.04 L157.40,369.80 L157.83,369.76 L158.27,370.01 L158.70,369.39 L159.14,368.99 L159.57,369.44 L160.01,369.83 L160.44,369.37 L160.88,369.46 L161.31,370.33 L161.75,369.95 L162.19,369.34 L162.62,369.02 L163.06,369.12 L163.49,369.76 L163.93,369.02 L164.36,369.36 L164.79,368.85 L165.23,369.32 L165.66,368.81 L166.10,368.54 L166.53,368.62 L166.97,368.90 L167.40,368.56 L167.84,368.71 L168.27,368.66 L168.71,367.99 L169.14,367.80 L169.58,368.79 L170.01,367.96 L170.45,367.76 L170.88,368.42 L171.32,368.23 L171.75,368.36 L172.19,368.04 L172.62,368.32 L173.06,368.03 L173.50,368.05 L173.93,368.16 L174.37,368.25 L174.80,367.95 L175.23,367.60 L175.67,367.86 L176.10,367.92 L176.54,367.77 L176.97,367.96 L177.41,368.35 L177.84,367.30 L178.28,367.03 L178.71,367.57 L179.15,367.38 L179.58,367.75 L180.02,367.85 L180.45,367.78 L180.89,367.35 L181.32,366.88 L181.76,367.12 L182.19,366.89 L182.63,366.52 L183.06,367.43 L183.50,367.09" fill="none" stroke="#b133b5" stroke-width="1.5" stroke-linejoin="round" stroke-linecap="round"/>
<path d="M53.00,386.87 L53.44,386.87 L53.87,386.87 L54.30,387.00 L54.74,386.66 L55.17,386.65 L55.61,386.61 L56.05,387.07 L56.48,386.73 L56.91,387.04 L57.35,386.96 L57.78,386.53 L58.22,386.88 L58.66,386.81 L59.09,386.86 L59.52,386.77 L59.96,386.74 L60.39,386.89 L60.83,386.84 L61.27,386.85 L61.70,386.65 L62.13,386.73 L62.57,386.68 L63.00,386.85 L63.44,386.48 L63.88,386.78 L64.31,386.71 L64.75,386.71 L65.18,386.82 L65.61,386.66 L66.05,386.85 L66.48,386.96 L66.92,386.91 L67.36,386.64 L67.79,386.90 L68.22,386.65 L68.66,386.70 L69.09,386.89 L69.53,386.63 L69.97,387.20 L70.40,386.90 L70.83,386.92 L71.27,386.81 L71.70,386.93 L72.14,386.80 L72.58,386.75 L73.01,386.73 L73.44,386.84 L73.88,386.86 L74.31,386.77 L74.75,386.66 L75.19,387.09 L75.62,386.63 L76.06,386.81 L76.49,386.57 L76.92,386.96 L77.36,386.70 L77.80,386.24 L78.23,385.67 L78.66,384.66 L79.10,383.70 L79.53,382.72 L79.97,381.66 L80.41,380.42 L80.84,379.45 L81.28,378.50 L81.71,377.16 L82.14,375.72 L82.58,374.20 L83.02,372.86 L83.45,370.52 L83.88,368.81 L84.32,366.94 L84.75,365.57 L85.19,364.09 L85.62,362.44 L86.06,361.45 L86.50,359.94 L86.93,359.07 L87.36,357.99 L87.80,356.91 L88.23,355.85 L88.67,354.93 L89.10,354.19 L89.54,353.36 L89.97,352.23 L90.41,351.54 L90.84,350.78 L91.28,349.98 L91.72,349.56 L92.15,348.68 L92.58,348.00 L93.02,347.26 L93.45,346.31 L93.89,345.49 L94.32,345.33 L94.76,344.73 L95.19,344.45 L95.63,343.96 L96.06,343.33 L96.50,342.89 L96.94,342.70 L97.37,342.44 L97.81,341.73 L98.24,341.70 L98.67,341.56 L99.11,341.34 L99.54,340.69 L99.98,340.61 L100.41,340.37 L100.85,340.31 L101.28,340.09 L101.72,339.92 L102.16,339.30 L102.59,339.23 L103.03,338.97 L103.46,338.65 L103.89,338.66 L104.33,338.36 L104.76,338.32 L105.20,338.08 L105.63,337.99 L106.07,337.75 L106.50,337.45 L106.94,337.40 L107.38,336.96 L107.81,337.07 L108.25,336.67 L108.68,336.81 L109.11,336.37 L109.55,336.22 L109.98,336.24 L110.42,335.88 L110.85,336.05 L111.29,335.57 L111.72,335.68 L112.16,335.60 L112.59,335.27 L113.03,335.52 L113.47,335.59 L113.90,335.38 L114.33,334.99 L114.77,335.09 L115.20,335.04 L115.64,335.31 L116.07,335.03 L116.51,334.50 L116.94,335.13 L117.38,335.08 L117.81,335.02 L118.25,334.76 L118.69,334.77 L119.12,334.64 L119.55,334.35 L119.99,334.64 L120.42,334.57 L120.86,334.41 L121.30,334.44 L121.73,334.22 L122.16,334.38 L122.60,334.01 L123.03,333.84 L123.47,333.85 L123.91,333.92 L124.34,334.00 L124.77,333.91 L125.21,333.99 L125.64,333.77 L126.08,333.70 L126.52,333.50 L126.95,333.55 L127.38,333.17 L127.82,333.76 L128.25,333.34 L128.69,333.46 L129.12,333.21 L129.56,333.18 L130.00,333.12 L130.43,333.40 L130.87,332.84 L131.30,333.15 L131.74,332.97 L132.17,332.55 L132.60,333.02 L133.04,332.87 L133.47,332.46 L133.91,332.47 L134.34,332.70 L134.78,332.41 L135.21,332.52 L135.65,332.61 L136.08,332.50 L136.52,332.68 L136.95,332.29 L137.39,332.29 L137.82,332.24 L138.26,332.63 L138.69,332.00 L139.13,332.29 L139.56,332.06 L140.00,331.99 L140.44,332.23 L140.87,332.13 L141.31,331.98 L141.74,331.95 L142.18,331.78 L142.61,331.58 L143.04,331.69 L143.48,331.75 L143.91,331.80 L144.35,331.59 L144.78,331.44 L145.22,331.86 L145.65,331.73 L146.09,331.63 L146.52,331.62 L146.96,331.57 L147.39,331.83 L147.83,331.40 L148.26,331.62 L148.70,331.48 L149.13,331.46 L149.57,331.40 L150.00,331.50 L150.44,331.56 L150.88,331.20 L151.31,331.49 L151.75,331.56 L152.18,331.38 L152.62,331.20 L153.05,331.30 L153.49,331.31 L153.92,331.24 L154.35,331.08 L154.79,331.24 L155.22,331.36 L155.66,331.02 L156.09,331.10 L156.53,331.30 L156.96,331.19 L157.40,331.36 L157.83,330.90 L158.27,330.91 L158.70,331.03 L159.14,331.35 L159.57,330.98 L160.01,330.86 L160.44,331.19 L160.88,330.85 L161.31,330.92 L161.75,330.96 L162.19,330.78 L162.62,330.79 L163.06,330.58 L163.49,330.91 L163.93,330.84 L164.36,330.73 L164.79,330.81 L165.23,330.58 L165.66,330.60 L166.10,330.51 L166.53,330.76 L166.97,330.65 L167.40,330.47 L167.84,330.61 L168.27,330.72 L168.71,330.64 L169.14,330.93 L169.58,330.20 L170.01,330.52 L170.45,330.53 L170.88,330.52 L171.32,330.41 L171.75,330.35 L172.19,330.14 L172.62,330.21 L173.06,330.29 L173.50,330.31 L173.93,330.19 L174.37,330.08 L174.80,330.14 L175.23,330.20 L175.67,330.01 L176.10,330.21 L176.54,329.77 L176.97,329.95 L177.41,329.93 L177.84,329.50 L178.28,329.87 L178.71,329.68 L179.15,329.70 L179.58,330.04 L180.02,329.85 L180.45,329.59 L180.89,329.53 L181.32,329.62 L181.76,329.44 L182.19,329.58 L182.63,329.34 L183.06,329.47 L183.50,329.40" fill="none" stroke="#f2c21e" stroke-width="1.35" stroke-linejoin="round" stroke-linecap="round"/>
<path d="M53.00,390.23 L53.29,388.49 L53.58,389.09 L53.87,388.30 L54.16,389.70 L54.45,388.65 L54.74,388.21 L55.03,389.13 L55.32,389.33 L55.61,389.60 L55.90,389.14 L56.19,389.60 L56.48,388.86 L56.77,389.36 L57.06,389.17 L57.35,389.33 L57.64,389.15 L57.93,389.44 L58.22,389.26 L58.51,389.34 L58.80,389.55 L59.09,389.69 L59.38,389.92 L59.67,389.12 L59.96,389.06 L60.25,388.37 L60.54,389.33 L60.83,389.09 L61.12,387.90 L61.41,389.35 L61.70,388.57 L61.99,389.00 L62.28,389.38 L62.57,389.47 L62.86,389.40 L63.15,389.41 L63.44,389.16 L63.73,389.08 L64.02,390.25 L64.31,390.30 L64.60,389.61 L64.89,388.89 L65.18,389.34 L65.47,388.91 L65.76,389.54 L66.05,388.44 L66.34,389.50 L66.63,389.53 L66.92,390.22 L67.21,388.87 L67.50,388.55 L67.79,388.15 L68.08,389.28 L68.37,389.80 L68.66,388.22 L68.95,389.64 L69.24,388.90 L69.53,388.48 L69.82,390.05 L70.11,388.64 L70.40,388.68 L70.69,388.77 L70.98,388.31 L71.27,388.93 L71.56,389.04 L71.85,388.51 L72.14,389.49 L72.43,390.13 L72.72,389.61 L73.01,388.95 L73.30,388.17 L73.59,389.82 L73.88,390.11 L74.17,388.52 L74.46,388.81 L74.75,389.40 L75.04,389.13 L75.33,389.25 L75.62,389.35 L75.91,389.12 L76.20,390.06 L76.49,389.57 L76.78,389.41 L77.07,389.82 L77.36,388.86 L77.65,389.11 L77.94,388.42 L78.23,389.41 L78.52,389.26 L78.81,389.16 L79.10,390.17 L79.39,389.49 L79.68,389.08 L79.97,388.52 L80.26,389.95 L80.55,389.23 L80.84,390.03 L81.13,389.73 L81.42,388.35 L81.71,389.34 L82.00,389.33 L82.29,389.79 L82.58,389.61 L82.87,388.43 L83.16,389.09 L83.45,388.79 L83.74,389.82 L84.03,390.13 L84.32,388.95 L84.61,388.79 L84.90,388.86 L85.19,389.01 L85.48,388.99 L85.77,389.27 L86.06,389.17 L86.35,390.12 L86.64,389.22 L86.93,388.68 L87.22,388.74 L87.51,388.64 L87.80,389.18 L88.09,388.99 L88.38,389.53 L88.67,389.26 L88.96,388.58 L89.25,388.96 L89.54,387.44 L89.83,388.72 L90.12,389.89 L90.41,389.47 L90.70,389.77 L90.99,389.14 L91.28,389.45 L91.57,389.37 L91.86,389.49 L92.15,390.27 L92.44,390.13 L92.73,389.26 L93.02,389.22 L93.31,390.04 L93.60,389.29 L93.89,388.36 L94.18,389.46 L94.47,388.30 L94.76,389.44 L95.05,388.64 L95.34,390.01 L95.63,389.29 L95.92,389.12 L96.21,389.14 L96.50,388.89 L96.79,389.54 L97.08,388.51 L97.37,389.36 L97.66,389.78 L97.95,388.78 L98.24,389.86 L98.53,391.25 L98.82,388.52 L99.11,390.14 L99.40,388.41 L99.69,389.31 L99.98,389.70 L100.27,389.32 L100.56,389.03 L100.85,389.62 L101.14,390.00 L101.43,388.92 L101.72,389.21 L102.01,389.10 L102.30,389.45 L102.59,389.91 L102.88,389.48 L103.17,390.24 L103.46,388.85 L103.75,389.40 L104.04,389.01 L104.33,389.03 L104.62,389.04 L104.91,389.43 L105.20,389.41 L105.49,389.95 L105.78,389.05 L106.07,390.39 L106.36,390.07 L106.65,389.37 L106.94,389.48 L107.23,389.16 L107.52,389.05 L107.81,389.15 L108.10,389.32 L108.39,388.06 L108.68,388.40 L108.97,389.11 L109.26,387.93 L109.55,388.80 L109.84,389.58 L110.13,389.82 L110.42,390.03 L110.71,390.01 L111.00,389.26 L111.29,389.67 L111.58,388.61 L111.87,389.83 L112.16,389.22 L112.45,389.51 L112.74,388.54 L113.03,389.78 L113.32,389.00 L113.61,388.59 L113.90,389.56 L114.19,389.97 L114.48,389.59 L114.77,389.79 L115.06,389.12 L115.35,388.94 L115.64,389.20 L115.93,389.68 L116.22,389.36 L116.51,388.80 L116.80,390.32 L117.09,390.20 L117.38,389.72 L117.67,389.66 L117.96,389.74 L118.25,388.64 L118.54,388.24 L118.83,389.91 L119.12,389.73 L119.41,389.52 L119.70,389.11 L119.99,389.59 L120.28,388.94 L120.57,389.54 L120.86,389.18 L121.15,389.15 L121.44,389.69 L121.73,389.02 L122.02,389.42 L122.31,390.24 L122.60,390.31 L122.89,388.60 L123.18,388.63 L123.47,389.13 L123.76,389.01 L124.05,388.90 L124.34,389.10 L124.63,388.56 L124.92,388.57 L125.21,389.03 L125.50,388.25 L125.79,387.88 L126.08,389.57 L126.37,389.39 L126.66,388.68 L126.95,389.44 L127.24,388.74 L127.53,389.57 L127.82,388.76 L128.11,388.76 L128.40,388.77 L128.69,388.85 L128.98,388.66 L129.27,389.22 L129.56,388.55 L129.85,388.75 L130.14,387.52 L130.43,388.26 L130.72,388.32 L131.01,387.70 L131.30,388.31 L131.59,387.88 L131.88,388.30 L132.17,387.86 L132.46,388.57 L132.75,389.14 L133.04,388.13 L133.33,388.77 L133.62,389.12 L133.91,388.58 L134.20,387.65 L134.49,388.70 L134.78,387.70 L135.07,388.20 L135.36,387.80 L135.65,388.21 L135.94,387.82 L136.23,388.51 L136.52,389.24 L136.81,387.54 L137.10,388.24 L137.39,388.40 L137.68,387.35 L137.97,388.18 L138.26,387.38 L138.55,388.79 L138.84,387.75 L139.13,388.07 L139.42,387.95 L139.71,387.99 L140.00,388.04 L140.29,388.01 L140.58,387.99 L140.87,388.28 L141.16,387.86 L141.45,388.41 L141.74,388.15 L142.03,387.92 L142.32,387.93 L142.61,387.91 L142.90,388.04 L143.19,387.99 L143.48,387.50 L143.77,387.53 L144.06,387.24 L144.35,388.01 L144.64,388.27 L144.93,388.09 L145.22,387.73 L145.51,387.84 L145.80,389.34 L146.09,388.12 L146.38,388.10 L146.67,388.14 L146.96,388.69 L147.25,386.76 L147.54,387.52 L147.83,386.64 L148.12,388.55 L148.41,387.38 L148.70,387.92 L148.99,387.74 L149.28,387.06 L149.57,387.01 L149.86,388.27 L150.15,388.25 L150.44,386.73 L150.73,388.10 L151.02,388.72 L151.31,386.88 L151.60,388.39 L151.89,387.63 L152.18,387.15 L152.47,386.96 L152.76,387.62 L153.05,387.42 L153.34,387.81 L153.63,387.64 L153.92,386.22 L154.21,388.14 L154.50,387.56 L154.79,387.87 L155.08,388.06 L155.37,387.49 L155.66,386.82 L155.95,388.10 L156.24,387.81 L156.53,386.46 L156.82,387.25 L157.11,387.05 L157.40,387.05 L157.69,387.36 L157.98,387.43 L158.27,387.62 L158.56,387.67 L158.85,386.44 L159.14,386.34 L159.43,386.62 L159.72,387.18 L160.01,386.43 L160.30,387.70 L160.59,386.86 L160.88,387.59 L161.17,386.67 L161.46,387.81 L161.75,387.06 L162.04,387.50 L162.33,387.27 L162.62,387.55 L162.91,387.44 L163.20,387.70 L163.49,387.06 L163.78,386.76 L164.07,386.86 L164.36,387.19 L164.65,387.17 L164.94,386.55 L165.23,386.02 L165.52,387.19 L165.81,387.00 L166.10,387.14 L166.39,387.84 L166.68,387.14 L166.97,387.09 L167.26,386.86 L167.55,386.97 L167.84,387.29 L168.13,387.42 L168.42,386.56 L168.71,387.46 L169.00,387.71 L169.29,386.63 L169.58,386.09 L169.87,386.44 L170.16,386.35 L170.45,387.12 L170.74,387.37 L171.03,386.76 L171.32,387.36 L171.61,386.27 L171.90,387.52 L172.19,387.09 L172.48,386.86 L172.77,386.88 L173.06,386.60 L173.35,387.33 L173.64,385.93 L173.93,385.58 L174.22,386.41 L174.51,385.72 L174.80,387.05 L175.09,385.83 L175.38,386.70 L175.67,386.71 L175.96,387.14 L176.25,386.92 L176.54,387.73 L176.83,386.39 L177.12,385.66 L177.41,386.22 L177.70,385.88 L177.99,386.01 L178.28,385.77 L178.57,385.44 L178.86,386.61 L179.15,385.92 L179.44,386.00 L179.73,385.60 L180.02,386.08 L180.31,385.49 L180.60,386.46 L180.89,386.26 L181.18,386.02 L181.47,385.93 L181.76,385.34 L182.05,385.89 L182.34,386.85 L182.63,386.18 L182.92,386.93 L183.21,386.54 L183.50,386.55" fill="none" stroke="#2a2ac4" stroke-width="1.9" stroke-linejoin="round" stroke-linecap="round"/>
<path d="M226.99,398.33 L227.30,396.54 L227.61,397.47 L227.92,396.23 L228.23,395.87 L228.54,396.52 L228.85,395.99 L229.16,397.11 L229.47,394.83 L229.78,395.10 L230.09,394.71 L230.41,394.94 L230.72,398.00 L231.03,395.63 L231.34,396.41 L231.65,397.30" fill="none" stroke="#1f7a2a" stroke-width="2.6" stroke-linejoin="round" stroke-linecap="round"/>
<path d="M240.98,392.68 L241.45,393.39 L241.91,394.05 L242.38,393.54 L242.85,393.90 L243.31,392.60 L243.78,391.84 L244.25,389.98 L244.71,387.00 L245.18,384.29 L245.65,380.84 L246.11,377.69 L246.58,374.34 L247.04,370.90 L247.51,367.55 L247.98,365.28 L248.44,362.36 L248.91,359.89 L249.38,357.97 L249.84,356.24 L250.31,354.23 L250.78,352.53 L251.24,351.62 L251.71,349.97 L252.18,349.26 L252.64,347.82 L253.11,347.00 L253.58,345.98 L254.04,345.10 L254.51,344.43 L254.97,343.76 L255.44,342.65 L255.91,342.32 L256.37,341.98 L256.84,341.43 L257.31,341.13 L257.77,340.44 L258.24,339.78 L258.71,339.54 L259.17,339.24 L259.64,338.49 L260.11,338.79 L260.57,338.02 L261.04,337.84 L261.51,337.16 L261.97,336.83 L262.44,337.18 L262.91,336.47 L263.37,335.64 L263.84,335.53 L264.31,335.52 L264.77,335.52 L265.24,335.41 L265.70,335.01 L266.17,334.90 L266.64,334.59 L267.10,334.49 L267.57,334.26 L268.04,333.90 L268.50,333.81 L268.97,334.12 L269.44,332.87 L269.90,332.80 L270.37,332.97 L270.84,332.70 L271.30,332.69 L271.77,332.51 L272.24,332.49 L272.70,331.78 L273.17,332.08 L273.63,331.65 L274.10,331.84 L274.57,331.64 L275.03,331.28 L275.50,331.35 L275.97,331.05 L276.43,330.98 L276.90,330.67 L277.37,330.57 L277.83,330.49 L278.30,330.25 L278.77,329.75 L279.23,329.92 L279.70,329.82 L280.17,329.37 L280.63,329.26 L281.10,329.45 L281.57,329.37 L282.03,329.81 L282.50,329.34 L282.97,329.27 L283.43,329.05 L283.90,328.34 L284.36,329.05 L284.83,328.46 L285.30,328.21 L285.76,328.00 L286.23,328.14 L286.70,327.59 L287.16,327.84 L287.63,328.02 L288.10,327.58 L288.56,327.27 L289.03,327.51 L289.50,326.94 L289.96,327.08 L290.43,326.80 L290.90,327.10 L291.36,326.88 L291.83,326.95 L292.30,326.64 L292.76,326.67 L293.23,326.40 L293.69,326.61 L294.16,326.99 L294.63,326.23 L295.09,326.38 L295.56,326.07 L296.03,326.57 L296.49,326.25 L296.96,325.91 L297.43,326.16 L297.89,326.23 L298.36,326.01 L298.83,326.05 L299.29,325.82 L299.76,325.81 L300.23,325.78 L300.69,325.62 L301.16,325.17 L301.62,325.76 L302.09,325.43 L302.56,325.33 L303.02,325.32 L303.49,325.22 L303.96,325.67 L304.42,324.98 L304.89,325.13 L305.36,324.95 L305.82,324.88 L306.29,325.09 L306.76,325.08 L307.22,325.18 L307.69,325.07 L308.16,324.98 L308.62,324.76 L309.09,324.99 L309.56,325.33 L310.02,325.03 L310.49,324.65 L310.95,324.71 L311.42,325.22 L311.89,324.58 L312.35,324.60 L312.82,324.43 L313.29,324.80 L313.75,324.52 L314.22,324.54 L314.69,324.62 L315.15,324.34 L315.62,324.24 L316.09,324.11 L316.55,324.63 L317.02,324.27 L317.49,324.42 L317.95,324.44 L318.42,324.12 L318.89,324.25 L319.35,324.37 L319.82,324.04 L320.29,324.14 L320.75,324.17 L321.22,324.02 L321.68,323.86 L322.15,324.00 L322.62,323.93 L323.08,323.75 L323.55,324.11 L324.02,323.72 L324.48,324.10 L324.95,323.96" fill="none" stroke="#2fa23a" stroke-width="1.35" stroke-linejoin="round" stroke-linecap="round"/>
<path d="M240.98,392.77 L241.45,394.07 L241.91,394.23 L242.38,394.12 L242.85,394.14 L243.31,393.27 L243.78,393.44 L244.25,392.76 L244.71,391.96 L245.18,391.58 L245.65,390.01 L246.11,388.34 L246.58,386.28 L247.04,384.19 L247.51,382.08 L247.98,379.44 L248.44,376.87 L248.91,374.00 L249.38,371.82 L249.84,369.38 L250.31,366.74 L250.78,365.52 L251.24,363.04 L251.71,361.52 L252.18,359.42 L252.64,358.21 L253.11,357.68 L253.58,355.77 L254.04,354.46 L254.51,353.17 L254.97,352.73 L255.44,351.97 L255.91,351.68 L256.37,350.28 L256.84,350.22 L257.31,349.48 L257.77,348.67 L258.24,348.06 L258.71,348.10 L259.17,347.39 L259.64,346.74 L260.11,346.42 L260.57,345.86 L261.04,345.42 L261.51,344.74 L261.97,345.21 L262.44,344.24 L262.91,344.24 L263.37,343.45 L263.84,342.91 L264.31,343.18 L264.77,342.35 L265.24,342.38 L265.70,342.65 L266.17,341.90 L266.64,341.20 L267.10,341.25 L267.57,340.89 L268.04,340.87 L268.50,340.08 L268.97,340.22 L269.44,339.87 L269.90,339.97 L270.37,339.50 L270.84,339.52 L271.30,339.01 L271.77,338.92 L272.24,339.06 L272.70,338.78 L273.17,338.74 L273.63,338.79 L274.10,338.37 L274.57,338.41 L275.03,337.95 L275.50,337.85 L275.97,337.73 L276.43,337.71 L276.90,337.56 L277.37,336.98 L277.83,337.01 L278.30,337.01 L278.77,336.78 L279.23,336.69 L279.70,336.30 L280.17,336.09 L280.63,335.86 L281.10,336.31 L281.57,335.68 L282.03,335.86 L282.50,336.01 L282.97,335.40 L283.43,335.53 L283.90,335.50 L284.36,334.95 L284.83,334.94 L285.30,334.62 L285.76,334.39 L286.23,334.31 L286.70,333.59 L287.16,334.05 L287.63,333.69 L288.10,333.67 L288.56,333.86 L289.03,333.65 L289.50,333.79 L289.96,333.38 L290.43,333.06 L290.90,333.18 L291.36,332.86 L291.83,332.87 L292.30,332.73 L292.76,332.63 L293.23,332.50 L293.69,332.68 L294.16,332.36 L294.63,332.57 L295.09,331.98 L295.56,331.86 L296.03,332.22 L296.49,331.20 L296.96,331.44 L297.43,331.80 L297.89,331.73 L298.36,331.67 L298.83,331.05 L299.29,331.34 L299.76,331.67 L300.23,331.35 L300.69,330.92 L301.16,330.81 L301.62,330.64 L302.09,330.80 L302.56,331.29 L303.02,330.54 L303.49,330.41 L303.96,330.17 L304.42,330.54 L304.89,330.03 L305.36,329.85 L305.82,330.54 L306.29,330.09 L306.76,329.89 L307.22,330.05 L307.69,329.99 L308.16,329.73 L308.62,329.59 L309.09,329.86 L309.56,330.06 L310.02,329.71 L310.49,329.51 L310.95,329.37 L311.42,329.44 L311.89,329.40 L312.35,329.18 L312.82,329.57 L313.29,329.24 L313.75,329.91 L314.22,329.33 L314.69,329.27 L315.15,329.12 L315.62,329.13 L316.09,329.27 L316.55,329.43 L317.02,328.75 L317.49,329.04 L317.95,328.52 L318.42,328.72 L318.89,328.50 L319.35,329.07 L319.82,328.48 L320.29,328.42 L320.75,328.78 L321.22,328.93 L321.68,328.49 L322.15,328.77 L322.62,328.55 L323.08,328.46 L323.55,328.56 L324.02,328.80 L324.48,328.76 L324.95,328.91" fill="none" stroke="#111111" stroke-width="1.35" stroke-linejoin="round" stroke-linecap="round"/>
<path d="M240.98,393.05 L241.45,393.26 L241.91,393.82 L242.38,394.21 L242.85,394.26 L243.31,394.13 L243.78,394.37 L244.25,394.01 L244.71,393.93 L245.18,393.46 L245.65,393.03 L246.11,392.92 L246.58,392.65 L247.04,392.17 L247.51,391.56 L247.98,390.51 L248.44,389.09 L248.91,386.66 L249.38,384.62 L249.84,382.96 L250.31,380.85 L250.78,379.79 L251.24,378.21 L251.71,376.95 L252.18,375.86 L252.64,374.80 L253.11,373.77 L253.58,372.82 L254.04,371.92 L254.51,370.96 L254.97,370.62 L255.44,369.44 L255.91,368.48 L256.37,368.12 L256.84,367.51 L257.31,366.73 L257.77,366.18 L258.24,365.52 L258.71,365.24 L259.17,364.44 L259.64,363.97 L260.11,363.86 L260.57,362.69 L261.04,362.53 L261.51,361.58 L261.97,361.39 L262.44,361.03 L262.91,360.59 L263.37,359.88 L263.84,359.52 L264.31,359.03 L264.77,358.80 L265.24,358.29 L265.70,358.28 L266.17,357.83 L266.64,357.37 L267.10,356.83 L267.57,357.10 L268.04,356.48 L268.50,355.93 L268.97,355.79 L269.44,355.69 L269.90,355.20 L270.37,354.31 L270.84,354.81 L271.30,354.45 L271.77,353.97 L272.24,353.91 L272.70,353.58 L273.17,353.19 L273.63,352.74 L274.10,353.17 L274.57,352.86 L275.03,352.59 L275.50,352.29 L275.97,352.21 L276.43,352.04 L276.90,351.63 L277.37,351.81 L277.83,351.19 L278.30,350.98 L278.77,350.67 L279.23,350.61 L279.70,350.02 L280.17,350.21 L280.63,349.66 L281.10,349.57 L281.57,349.29 L282.03,349.03 L282.50,348.83 L282.97,348.78 L283.43,348.70 L283.90,348.14 L284.36,347.86 L284.83,347.18 L285.30,347.65 L285.76,347.24 L286.23,347.21 L286.70,346.68 L287.16,346.56 L287.63,346.01 L288.10,346.40 L288.56,345.86 L289.03,345.53 L289.50,345.46 L289.96,345.45 L290.43,345.05 L290.90,345.05 L291.36,344.65 L291.83,344.42 L292.30,344.22 L292.76,343.93 L293.23,344.10 L293.69,344.24 L294.16,344.00 L294.63,343.62 L295.09,342.91 L295.56,343.31 L296.03,343.18 L296.49,342.68 L296.96,342.64 L297.43,342.42 L297.89,342.55 L298.36,342.05 L298.83,342.07 L299.29,341.85 L299.76,341.55 L300.23,341.56 L300.69,341.68 L301.16,341.44 L301.62,341.61 L302.09,341.09 L302.56,340.94 L303.02,340.66 L303.49,340.71 L303.96,340.53 L304.42,340.43 L304.89,340.27 L305.36,340.54 L305.82,340.19 L306.29,340.31 L306.76,339.95 L307.22,339.55 L307.69,339.79 L308.16,339.65 L308.62,339.48 L309.09,339.84 L309.56,339.55 L310.02,339.39 L310.49,339.31 L310.95,339.14 L311.42,339.25 L311.89,339.19 L312.35,338.81 L312.82,338.91 L313.29,338.57 L313.75,338.85 L314.22,338.41 L314.69,338.86 L315.15,338.77 L315.62,338.64 L316.09,338.40 L316.55,338.68 L317.02,338.23 L317.49,338.25 L317.95,338.52 L318.42,337.81 L318.89,337.96 L319.35,338.14 L319.82,337.95 L320.29,337.73 L320.75,338.08 L321.22,338.00 L321.68,337.65 L322.15,337.65 L322.62,337.81 L323.08,337.53 L323.55,337.89 L324.02,337.61 L324.48,337.39 L324.95,337.80" fill="none" stroke="#2a2ac4" stroke-width="1.35" stroke-linejoin="round" stroke-linecap="round"/>
<path d="M231.65,395.99 L231.84,394.86 L232.02,391.07 L232.21,393.29 L232.40,390.02 L232.58,388.89 L232.77,390.40 L232.96,391.05 L233.14,388.97 L233.33,388.84 L233.52,388.04 L233.70,387.61 L233.89,391.22 L234.08,386.96 L234.26,384.96 L234.45,387.17 L234.64,386.25 L234.82,387.35 L235.01,388.82 L235.20,384.84 L235.38,386.65 L235.57,386.15 L235.76,384.41 L235.94,384.41 L236.13,383.78 L236.31,386.37 L236.50,383.40 L236.69,386.93 L236.87,385.85 L237.06,388.13 L237.25,387.60 L237.43,388.72 L237.62,386.51 L237.81,387.33 L237.99,385.75 L238.18,392.72 L238.37,391.03 L238.55,386.90 L238.74,388.29 L238.93,390.01 L239.11,391.98 L239.30,389.42 L239.49,388.47 L239.67,389.82 L239.86,392.55 L240.05,392.88 L240.23,390.40 L240.42,393.28 L240.61,392.51 L240.79,391.54 L240.98,391.30 L241.17,393.09 L241.35,393.60 L241.54,394.41 L241.73,392.17 L241.91,390.00 L242.10,394.53 L242.29,392.35 L242.47,391.17 L242.66,395.93 L242.85,393.51 L243.03,393.79 L243.22,396.00 L243.41,393.69 L243.59,393.87 L243.78,393.11 L243.97,396.69" fill="none" stroke="#1d4a1d" stroke-width="1.4" stroke-linejoin="round" stroke-linecap="round"/>
<path d="M231.65,393.25 L231.81,394.08 L231.96,391.71 L232.12,391.16 L232.27,391.33 L232.43,390.66 L232.58,389.91 L232.74,391.89 L232.89,387.25 L233.05,388.70 L233.21,388.63 L233.36,387.96 L233.52,386.92 L233.67,388.08 L233.83,388.90 L233.98,389.22 L234.14,389.02 L234.29,388.03 L234.45,386.04 L234.60,386.62 L234.76,387.97 L234.92,386.09 L235.07,386.58 L235.23,388.55 L235.38,385.99 L235.54,384.51 L235.69,385.10 L235.85,385.47 L236.00,385.97 L236.16,384.19 L236.31,385.19 L236.47,384.48 L236.63,386.84 L236.78,385.72 L236.94,387.94 L237.09,387.45 L237.25,387.13 L237.40,386.93 L237.56,386.26 L237.71,388.05 L237.87,387.70 L238.03,388.97 L238.18,391.11 L238.34,388.95 L238.49,388.21 L238.65,390.01 L238.80,390.92 L238.96,390.59 L239.11,390.63 L239.27,391.94 L239.43,393.19 L239.58,390.54 L239.74,391.95 L239.89,391.21 L240.05,389.24 L240.20,391.33 L240.36,392.19 L240.51,391.20 L240.67,392.33 L240.82,394.32 L240.98,391.77 L241.14,392.05 L241.29,393.76 L241.45,391.88 L241.60,393.74 L241.76,392.77 L241.91,393.20 L242.07,392.85 L242.22,394.09 L242.38,395.41 L242.53,392.31 L242.69,397.05 L242.85,395.66 L243.00,393.99 L243.16,394.96 L243.31,396.30 L243.47,393.65 L243.62,394.25 L243.78,397.69 L243.93,393.34 L244.09,394.10" fill="none" stroke="#111111" stroke-width="1.5" stroke-linejoin="round" stroke-linecap="round"/>
<path d="M368.96,393.47 L369.43,393.00 L369.89,392.93 L370.36,393.66 L370.82,393.88 L371.29,393.22 L371.75,392.03 L372.22,393.10 L372.68,392.89 L373.15,394.08" fill="none" stroke="#2fa23a" stroke-width="2.2" stroke-linejoin="round" stroke-linecap="round"/>
<path d="M373.30,394.82 L373.76,393.59 L374.23,392.78 L374.69,390.87 L375.16,388.75 L375.62,386.54 L376.09,384.01 L376.56,382.56 L377.02,380.62 L377.49,378.75 L377.95,377.03 L378.42,376.25 L378.88,374.89 L379.35,373.47 L379.81,373.21 L380.28,371.81 L380.74,371.48 L381.20,371.05 L381.67,370.17 L382.13,369.74 L382.60,369.50 L383.06,369.20 L383.53,368.49 L384.00,368.58 L384.46,368.07 L384.93,368.17 L385.39,368.03 L385.86,367.10 L386.32,367.07 L386.79,366.83 L387.25,366.74 L387.72,366.66 L388.18,366.48 L388.65,365.94 L389.11,365.55 L389.57,364.93 L390.04,364.72 L390.50,364.58 L390.97,364.35 L391.44,364.42 L391.90,363.98 L392.37,364.18 L392.83,363.59 L393.30,363.32 L393.76,363.31 L394.23,362.94 L394.69,363.31 L395.16,362.90 L395.62,362.39 L396.09,362.21 L396.55,362.54 L397.01,361.85 L397.48,361.59 L397.94,362.42 L398.41,361.56 L398.88,361.50 L399.34,361.32 L399.81,361.22 L400.27,360.81 L400.74,360.96 L401.20,360.50 L401.67,360.55 L402.13,360.53 L402.60,360.61 L403.06,360.52 L403.53,360.11 L403.99,360.29 L404.46,359.63 L404.92,359.72 L405.38,359.50 L405.85,359.09 L406.31,359.49 L406.78,359.36 L407.25,358.79 L407.71,358.66 L408.18,358.74 L408.64,358.80 L409.11,358.46 L409.57,358.64 L410.04,358.30 L410.50,358.26 L410.97,358.11 L411.43,357.96 L411.89,357.67 L412.36,357.86 L412.82,357.44 L413.29,357.86 L413.75,357.42 L414.22,357.32 L414.69,357.26 L415.15,357.60 L415.62,356.82 L416.08,357.25 L416.55,356.59 L417.01,356.62 L417.48,356.34 L417.94,356.97 L418.41,356.12 L418.87,356.47 L419.34,356.48 L419.80,356.32 L420.26,356.02 L420.73,355.64 L421.19,355.67 L421.66,355.59 L422.12,355.70 L422.59,355.02 L423.06,355.18 L423.52,354.86 L423.99,354.93 L424.45,354.51 L424.92,354.56 L425.38,354.73 L425.85,354.54 L426.31,354.39 L426.78,354.28 L427.24,354.37 L427.71,353.96 L428.17,354.17 L428.63,354.06 L429.10,353.93 L429.56,354.04 L430.03,353.51 L430.50,353.44 L430.96,353.67 L431.43,353.06 L431.89,353.18 L432.36,353.47 L432.82,353.56 L433.29,353.24 L433.75,352.98 L434.22,352.67 L434.68,352.80 L435.14,352.61 L435.61,352.25 L436.07,352.77 L436.54,352.27 L437.00,352.41 L437.47,352.63 L437.94,351.99 L438.40,352.26 L438.87,352.41 L439.33,352.58 L439.80,351.95 L440.26,352.48 L440.73,351.74 L441.19,352.22 L441.66,351.75 L442.12,351.65 L442.59,351.58 L443.05,351.62 L443.51,351.46 L443.98,351.57 L444.44,351.64 L444.91,351.49 L445.38,351.25 L445.84,351.11 L446.31,351.30 L446.77,351.19 L447.24,351.13 L447.70,351.08 L448.17,351.09 L448.63,351.45 L449.10,350.85 L449.56,351.17 L450.02,351.10 L450.49,351.16 L450.96,350.93 L451.42,351.21 L451.88,351.00 L452.35,351.02 L452.81,350.31 L453.28,350.76 L453.75,350.93 L454.21,350.25 L454.68,350.34 L455.14,350.80 L455.61,350.87 L456.07,350.27 L456.54,350.00 L457.00,350.09 L457.47,350.38 L457.93,350.20 L458.39,350.20 L458.86,350.00 L459.33,350.49 L459.79,349.68 L460.25,350.22 L460.72,349.73 L461.19,349.75 L461.65,349.39 L462.12,349.80 L462.58,350.24 L463.05,349.93 L463.51,349.91 L463.98,349.83 L464.44,349.32 L464.91,349.87 L465.37,349.47 L465.84,349.56 L466.30,349.31" fill="none" stroke="#2a2ac4" stroke-width="1.35" stroke-linejoin="round" stroke-linecap="round"/>
<path d="M373.30,394.04 L373.76,393.67 L374.23,392.42 L374.69,390.56 L375.16,387.41 L375.62,383.67 L376.09,380.09 L376.56,377.18 L377.02,373.92 L377.49,370.99 L377.95,368.27 L378.42,366.56 L378.88,364.72 L379.35,363.04 L379.81,361.92 L380.28,361.33 L380.74,359.78 L381.20,358.70 L381.67,357.84 L382.13,357.93 L382.60,356.80 L383.06,356.39 L383.53,356.03 L384.00,355.49 L384.46,354.95 L384.93,354.65 L385.39,353.62 L385.86,353.11 L386.32,353.23 L386.79,352.82 L387.25,352.08 L387.72,351.72 L388.18,351.59 L388.65,351.12 L389.11,350.87 L389.57,350.27 L390.04,350.30 L390.50,350.03 L390.97,349.97 L391.44,349.67 L391.90,349.48 L392.37,349.07 L392.83,348.90 L393.30,348.20 L393.76,348.25 L394.23,347.70 L394.69,347.66 L395.16,347.59 L395.62,347.01 L396.09,347.20 L396.55,347.14 L397.01,346.67 L397.48,346.26 L397.94,346.30 L398.41,345.82 L398.88,346.06 L399.34,345.66 L399.81,345.53 L400.27,345.68 L400.74,345.48 L401.20,344.96 L401.67,345.28 L402.13,345.08 L402.60,344.96 L403.06,344.82 L403.53,345.21 L403.99,344.52 L404.46,344.04 L404.92,344.39 L405.38,344.40 L405.85,343.87 L406.31,344.23 L406.78,343.99 L407.25,344.19 L407.71,343.95 L408.18,344.05 L408.64,343.34 L409.11,343.48 L409.57,342.81 L410.04,343.25 L410.50,343.00 L410.97,342.44 L411.43,343.05 L411.89,342.86 L412.36,342.35 L412.82,342.63 L413.29,342.40 L413.75,342.05 L414.22,342.42 L414.69,342.11 L415.15,342.35 L415.62,341.95 L416.08,341.84 L416.55,341.92 L417.01,341.87 L417.48,341.89 L417.94,341.58 L418.41,341.46 L418.87,341.69 L419.34,341.39 L419.80,341.26 L420.26,341.60 L420.73,341.19 L421.19,341.39 L421.66,341.23 L422.12,341.22 L422.59,341.16 L423.06,341.56 L423.52,340.96 L423.99,341.14 L424.45,341.02 L424.92,340.71 L425.38,340.89 L425.85,340.80 L426.31,341.01 L426.78,341.08 L427.24,340.36 L427.71,341.04 L428.17,340.58 L428.63,340.93 L429.10,340.62 L429.56,340.93 L430.03,340.55 L430.50,340.63 L430.96,340.54 L431.43,340.59 L431.89,340.21 L432.36,340.48 L432.82,340.55 L433.29,340.37 L433.75,340.21 L434.22,340.00 L434.68,339.92 L435.14,339.99 L435.61,340.07 L436.07,340.38 L436.54,340.31 L437.00,339.75 L437.47,340.02 L437.94,339.91 L438.40,340.02 L438.87,340.00 L439.33,339.76 L439.80,339.44 L440.26,339.42 L440.73,339.60 L441.19,339.50 L441.66,339.39 L442.12,339.06 L442.59,339.12 L443.05,339.20 L443.51,339.36 L443.98,339.16 L444.44,339.31 L444.91,339.24 L445.38,338.97 L445.84,338.53 L446.31,339.27 L446.77,339.02 L447.24,339.15 L447.70,338.86 L448.17,338.72 L448.63,338.78 L449.10,338.67 L449.56,338.56 L450.02,338.90 L450.49,338.12 L450.96,338.44 L451.42,338.74 L451.88,338.30 L452.35,338.22 L452.81,338.47 L453.28,338.18 L453.75,338.31 L454.21,338.12 L454.68,338.10 L455.14,338.26 L455.61,338.22 L456.07,338.13 L456.54,338.31 L457.00,337.90 L457.47,338.05 L457.93,338.34 L458.39,337.92 L458.86,337.27 L459.33,338.20 L459.79,338.00 L460.25,337.75 L460.72,337.58 L461.19,337.93 L461.65,337.80 L462.12,337.61 L462.58,337.42 L463.05,337.78 L463.51,337.38 L463.98,337.61 L464.44,337.95 L464.91,337.39 L465.37,337.09 L465.84,337.27 L466.30,337.87" fill="none" stroke="#2fa23a" stroke-width="1.35" stroke-linejoin="round" stroke-linecap="round"/>
<path d="M373.30,394.45 L373.76,393.59 L374.23,392.55 L374.69,388.89 L375.16,384.71 L375.62,380.46 L376.09,377.12 L376.56,374.05 L377.02,370.93 L377.49,368.84 L377.95,366.60 L378.42,364.06 L378.88,362.51 L379.35,361.17 L379.81,359.22 L380.28,358.08 L380.74,356.88 L381.20,355.57 L381.67,354.57 L382.13,353.92 L382.60,353.51 L383.06,352.71 L383.53,352.23 L384.00,351.82 L384.46,351.28 L384.93,350.81 L385.39,350.56 L385.86,350.09 L386.32,349.69 L386.79,349.31 L387.25,348.79 L387.72,348.98 L388.18,348.50 L388.65,347.83 L389.11,346.97 L389.57,347.62 L390.04,346.90 L390.50,346.79 L390.97,346.31 L391.44,345.84 L391.90,345.87 L392.37,345.34 L392.83,345.03 L393.30,344.95 L393.76,344.66 L394.23,344.52 L394.69,344.23 L395.16,344.49 L395.62,343.67 L396.09,343.68 L396.55,343.35 L397.01,343.15 L397.48,342.96 L397.94,342.96 L398.41,342.65 L398.88,342.62 L399.34,342.49 L399.81,342.14 L400.27,341.83 L400.74,341.58 L401.20,341.81 L401.67,341.42 L402.13,341.11 L402.60,341.43 L403.06,341.35 L403.53,341.11 L403.99,341.30 L404.46,341.02 L404.92,340.72 L405.38,340.73 L405.85,340.58 L406.31,340.40 L406.78,340.60 L407.25,340.56 L407.71,340.28 L408.18,340.16 L408.64,339.63 L409.11,339.84 L409.57,339.80 L410.04,339.60 L410.50,339.74 L410.97,339.66 L411.43,339.16 L411.89,338.98 L412.36,339.72 L412.82,338.99 L413.29,338.74 L413.75,338.89 L414.22,338.24 L414.69,338.32 L415.15,338.80 L415.62,338.51 L416.08,338.60 L416.55,338.51 L417.01,338.12 L417.48,338.39 L417.94,337.91 L418.41,338.24 L418.87,337.96 L419.34,337.63 L419.80,338.26 L420.26,337.88 L420.73,337.64 L421.19,337.74 L421.66,337.61 L422.12,337.45 L422.59,337.91 L423.06,337.68 L423.52,337.79 L423.99,337.60 L424.45,338.01 L424.92,337.44 L425.38,337.30 L425.85,338.09 L426.31,337.49 L426.78,337.77 L427.24,337.47 L427.71,337.26 L428.17,337.00 L428.63,337.24 L429.10,337.31 L429.56,337.01 L430.03,336.88 L430.50,336.99 L430.96,337.14 L431.43,337.26 L431.89,336.98 L432.36,336.99 L432.82,337.27 L433.29,336.98 L433.75,336.48 L434.22,336.78 L434.68,336.65 L435.14,336.98 L435.61,336.73 L436.07,336.59 L436.54,336.60 L437.00,336.17 L437.47,336.85 L437.94,336.29 L438.40,336.57 L438.87,336.72 L439.33,336.70 L439.80,336.07 L440.26,336.34 L440.73,336.65 L441.19,335.86 L441.66,336.29 L442.12,335.87 L442.59,335.92 L443.05,335.78 L443.51,335.82 L443.98,335.75 L444.44,335.45 L444.91,335.70 L445.38,335.61 L445.84,335.75 L446.31,335.20 L446.77,335.72 L447.24,335.66 L447.70,335.36 L448.17,335.38 L448.63,335.38 L449.10,335.40 L449.56,335.06 L450.02,334.92 L450.49,334.72 L450.96,334.99 L451.42,335.07 L451.88,334.89 L452.35,334.84 L452.81,334.94 L453.28,334.92 L453.75,334.77 L454.21,334.59 L454.68,334.73 L455.14,334.86 L455.61,334.74 L456.07,334.41 L456.54,334.90 L457.00,334.61 L457.47,334.34 L457.93,334.25 L458.39,334.63 L458.86,334.64 L459.33,333.99 L459.79,334.61 L460.25,334.31 L460.72,334.10 L461.19,334.14 L461.65,334.60 L462.12,334.38 L462.58,334.61 L463.05,334.40 L463.51,334.06 L463.98,334.49 L464.44,333.94 L464.91,333.96 L465.37,334.28 L465.84,333.57 L466.30,333.73" fill="none" stroke="#111111" stroke-width="1.35" stroke-linejoin="round" stroke-linecap="round"/>
<text x="7.30" y="442.00" font-size="12.8" font-weight="bold" fill="#000" textLength="10.00" lengthAdjust="spacingAndGlyphs">B</text>
<text x="32.60" y="453.70" font-size="9" font-weight="bold" fill="#000">i</text>
<text x="135.00" y="453.70" font-size="9" text-anchor="middle" font-weight="bold" fill="#000" textLength="62.30" lengthAdjust="spacingAndGlyphs">hCLEC-2-hFc2</text>
<text x="288.50" y="453.70" font-size="9" font-weight="bold" fill="#000">ii</text>
<text x="356.30" y="453.70" font-size="9" font-weight="bold" fill="#000" textLength="58.70" lengthAdjust="spacingAndGlyphs">Integrin α2β1</text>
<line x1="53.30" y1="462.90" x2="53.30" y2="601.60" stroke="#000" stroke-width="1.6"/>
<line x1="49.90" y1="466.10" x2="53.30" y2="466.10" stroke="#000" stroke-width="1.0"/>
<text x="46.20" y="468.50" font-size="6.8" text-anchor="end" fill="#222">200</text>
<line x1="49.90" y1="488.63" x2="53.30" y2="488.63" stroke="#000" stroke-width="1.0"/>
<text x="46.20" y="491.03" font-size="6.8" text-anchor="end" fill="#222">150</text>
<line x1="49.90" y1="511.15" x2="53.30" y2="511.15" stroke="#000" stroke-width="1.0"/>
<text x="46.20" y="513.55" font-size="6.8" text-anchor="end" fill="#222">100</text>
<line x1="49.90" y1="533.68" x2="53.30" y2="533.68" stroke="#000" stroke-width="1.0"/>
<text x="46.20" y="536.08" font-size="6.8" text-anchor="end" fill="#222">50</text>
<line x1="49.90" y1="578.73" x2="53.30" y2="578.73" stroke="#000" stroke-width="1.0"/>
<text x="46.20" y="581.12" font-size="6.8" text-anchor="end" fill="#222">−50</text>
<line x1="49.90" y1="601.25" x2="53.30" y2="601.25" stroke="#000" stroke-width="1.0"/>
<text x="46.20" y="603.65" font-size="6.8" text-anchor="end" fill="#222">−100</text>
<line x1="26.60" y1="556.20" x2="242.80" y2="556.20" stroke="#000" stroke-width="1.8"/>
<text x="27.92" y="565.20" font-size="6.8" text-anchor="middle" fill="#222">−60</text>
<text x="53.30" y="565.20" font-size="6.8" text-anchor="middle" fill="#222">0</text>
<text x="80.48" y="565.20" font-size="6.8" text-anchor="middle" fill="#222">60</text>
<text x="107.66" y="565.20" font-size="6.8" text-anchor="middle" fill="#222">120</text>
<text x="134.84" y="565.20" font-size="6.8" text-anchor="middle" fill="#222">180</text>
<text x="162.02" y="565.20" font-size="6.8" text-anchor="middle" fill="#222">240</text>
<text x="189.20" y="565.20" font-size="6.8" text-anchor="middle" fill="#222">300</text>
<text x="216.38" y="565.20" font-size="6.8" text-anchor="middle" fill="#222">360</text>
<text x="243.56" y="565.20" font-size="6.8" text-anchor="middle" fill="#222">420</text>
<text x="22.60" y="532.70" font-size="8.2" text-anchor="middle" font-weight="bold" textLength="43.30" lengthAdjust="spacingAndGlyphs" transform="rotate(-90 22.60 532.70)">Resonance unit</text>
<path d="M26.12,555.97 L39.71,555.97 L39.71,555.97 L39.94,555.80 L40.16,555.37 L40.39,554.94 L40.62,554.80 L40.84,555.15 L41.07,555.97 L41.30,557.05 L41.52,558.00 L41.75,558.47 L41.97,558.24 L42.20,557.31 L42.43,555.97 L42.65,554.63 L42.88,553.71 L43.11,553.48 L43.33,553.95 L43.56,554.90 L43.79,555.97 L44.01,556.80 L44.24,557.15 L44.47,557.01 L44.69,556.58 L44.92,556.15 L45.15,555.97 L45.60,555.97 L52.85,555.97 L53.30,556.20 L54.21,555.62 L55.11,555.01 L56.02,554.38 L56.92,553.74 L57.83,553.07 L58.74,552.38 L59.64,551.68 L60.55,550.96 L61.45,550.22 L62.36,549.46 L63.27,548.69 L64.17,547.90 L65.08,547.10 L65.98,546.29 L66.89,545.45 L67.80,544.57 L68.70,543.66 L69.61,542.72 L70.51,541.76 L71.42,540.77 L72.33,539.77 L73.23,538.76 L74.14,537.74 L75.04,536.72 L75.95,535.70 L76.86,534.68 L77.76,533.68 L78.67,532.66 L79.57,531.64 L80.48,530.59 L81.39,529.54 L82.29,528.48 L83.20,527.42 L84.10,526.36 L85.01,525.31 L85.92,524.27 L86.82,523.25 L87.73,522.25 L88.63,521.27 L89.54,520.32 L90.45,519.38 L91.35,518.47 L92.26,517.56 L93.16,516.67 L94.07,515.79 L94.98,514.91 L95.88,514.05 L96.79,513.19 L97.69,512.33 L98.60,511.48 L99.51,510.63 L100.41,509.77 L101.32,508.92 L102.22,508.07 L103.13,507.21 L104.04,506.36 L104.94,505.52 L105.85,504.67 L106.75,503.84 L107.66,503.01 L108.57,502.18 L109.47,501.37 L110.38,500.56 L111.28,499.77 L112.19,498.99 L113.10,498.22 L114.00,497.46 L114.91,496.72 L115.81,495.99 L116.72,495.27 L117.63,494.55 L118.53,493.84 L119.44,493.12 L120.34,492.41 L121.25,491.70 L122.16,490.98 L123.06,490.26 L123.97,489.53 L124.87,488.75 L125.78,487.93 L126.69,487.07 L127.59,486.20 L128.50,485.34 L129.40,484.53 L130.31,483.77 L131.22,483.09 L132.12,482.53 L133.03,482.09 L133.93,481.77 L134.84,481.51 L137.56,482.54 L162.02,482.77 L189.20,482.99 L214.57,482.77 L214.57,482.77 L214.98,482.48 L215.40,481.95 L215.81,481.92 L216.23,482.77 L216.64,484.13 L217.06,485.00 L217.47,484.54 L217.89,482.77 L218.31,480.71 L218.72,479.72 L219.14,480.56 L219.55,482.77 L219.97,484.98 L220.38,485.81 L220.80,484.83 L221.21,482.77 L221.63,481.00 L222.04,480.54 L222.46,481.41 L222.87,482.77 L223.29,483.62 L223.70,483.58 L224.12,483.06 L224.53,482.77 L225.44,482.77" fill="none" stroke="#2d4274" stroke-width="1.45" stroke-linejoin="round" stroke-linecap="round"/>
<path d="M26.12,556.06 L52.85,556.06 L53.53,603.05 L55.56,603.50 L56.70,565.21 L57.38,551.24 L57.38,550.79 L58.06,548.73 L58.74,546.89 L59.42,545.36 L60.09,544.18 L60.77,543.19 L61.45,542.34 L62.13,541.58 L62.81,540.87 L63.49,540.22 L64.17,539.62 L64.85,539.06 L65.53,538.53 L66.21,538.01 L66.89,537.51 L67.57,537.03 L68.25,536.57 L68.93,536.12 L69.61,535.68 L70.29,535.26 L70.97,534.85 L71.65,534.44 L72.33,534.04 L73.01,533.64 L73.69,533.24 L74.36,532.85 L75.04,532.48 L75.72,532.13 L76.40,531.79 L77.08,531.48 L77.76,531.20 L78.44,530.93 L79.12,530.68 L79.80,530.43 L80.48,530.19 L81.16,529.96 L81.84,529.74 L82.52,529.52 L83.20,529.32 L83.88,529.11 L84.56,528.92 L85.24,528.74 L85.92,528.56 L86.60,528.39 L87.28,528.22 L87.95,528.06 L88.63,527.91 L89.31,527.77 L89.99,527.63 L90.67,527.50 L91.35,527.36 L92.03,527.23 L92.71,527.11 L93.39,526.98 L94.07,526.86 L94.75,526.74 L95.43,526.62 L96.11,526.51 L96.79,526.40 L97.47,526.29 L98.15,526.18 L98.83,526.08 L99.51,525.98 L100.19,525.87 L100.87,525.78 L101.54,525.68 L102.22,525.58 L102.90,525.49 L103.58,525.39 L104.26,525.30 L104.94,525.21 L105.62,525.12 L106.30,525.04 L106.98,524.95 L107.66,524.86 L108.34,524.78 L109.02,524.69 L109.70,524.61 L110.38,524.53 L111.06,524.44 L111.74,524.36 L112.42,524.28 L113.10,524.20 L113.78,524.12 L114.45,524.05 L115.13,523.99 L115.81,523.92 L116.49,523.86 L117.17,523.80 L117.85,523.74 L118.53,523.69 L119.21,523.63 L119.89,523.58 L120.57,523.52 L121.25,523.47 L121.93,523.42 L122.61,523.36 L123.29,523.31 L123.97,523.25 L124.65,523.19 L125.33,523.13 L126.01,523.07 L126.69,523.00 L127.37,522.93 L128.05,522.86 L128.72,522.78 L129.40,522.70 L130.08,522.62 L130.76,522.53 L131.44,522.43 L132.12,522.33 L132.80,522.22 L133.48,522.08 L134.30,528.27 L134.66,465.65 L136.47,465.65 L136.92,502.14 L137.24,518.36 L138.01,521.51 L139.37,522.86 L141.18,523.31 L143.90,523.31 L189.20,523.31 L214.57,523.22 L214.57,523.31 L214.98,523.06 L215.40,522.61 L215.81,522.58 L216.23,523.31 L216.64,524.48 L217.06,525.22 L217.47,524.83 L217.89,523.31 L218.31,521.55 L218.72,520.70 L219.14,521.42 L219.55,523.31 L219.97,525.21 L220.38,525.92 L220.80,525.08 L221.21,523.31 L221.63,521.80 L222.04,521.40 L222.46,522.15 L222.87,523.31 L223.29,524.04 L223.70,524.01 L224.12,523.56 L224.53,523.31 L225.44,523.31" fill="none" stroke="#ab2242" stroke-width="1.45" stroke-linejoin="round" stroke-linecap="round"/>
<line x1="53.30" y1="462.90" x2="53.30" y2="518.50" stroke="#000" stroke-width="1.8"/>
<path d="M49.50,514.20 L53.30,516.70 L57.10,514.20 L53.30,521.50 Z" fill="#000"/>
<line x1="132.40" y1="551.30" x2="132.40" y2="535.80" stroke="#000" stroke-width="1.7"/>
<path d="M128.80,541.80 L132.40,539.30 L136.00,541.80 L132.40,532.80 Z" fill="#000"/>
<text x="186.20" y="470.50" font-size="6.5" text-anchor="middle" fill="#222" textLength="48.50" lengthAdjust="spacingAndGlyphs">Anti-CLEC-2 Ab</text>
<text x="186.40" y="477.80" font-size="6.5" text-anchor="middle" fill="#222" textLength="27.70" lengthAdjust="spacingAndGlyphs">(1 µg/ml)</text>
<text x="189.60" y="512.30" font-size="6.5" text-anchor="middle" fill="#222" textLength="20.00" lengthAdjust="spacingAndGlyphs">Co-HP</text>
<text x="189.20" y="520.00" font-size="6.5" text-anchor="middle" fill="#222" textLength="30.00" lengthAdjust="spacingAndGlyphs">(1.53 µM)</text>
<text x="135.00" y="601.60" font-size="8.2" text-anchor="middle" font-weight="bold" textLength="30.00" lengthAdjust="spacingAndGlyphs">Time (sec)</text>
<line x1="306.60" y1="459.40" x2="306.60" y2="604.60" stroke="#000" stroke-width="1.6"/>
<text x="302.90" y="464.40" font-size="6.8" text-anchor="end" fill="#222">200</text>
<text x="302.90" y="487.93" font-size="6.8" text-anchor="end" fill="#222">150</text>
<text x="302.90" y="511.45" font-size="6.8" text-anchor="end" fill="#222">100</text>
<text x="302.90" y="534.98" font-size="6.8" text-anchor="end" fill="#222">50</text>
<text x="302.90" y="582.02" font-size="6.8" text-anchor="end" fill="#222">−50</text>
<text x="302.90" y="605.55" font-size="6.8" text-anchor="end" fill="#222">−100</text>
<line x1="280.30" y1="556.10" x2="491.80" y2="556.10" stroke="#000" stroke-width="1.8"/>
<text x="281.90" y="565.10" font-size="6.8" text-anchor="middle" fill="#222">−60</text>
<text x="306.60" y="565.10" font-size="6.8" text-anchor="middle" fill="#222">0</text>
<text x="333.10" y="565.10" font-size="6.8" text-anchor="middle" fill="#222">60</text>
<text x="359.60" y="565.10" font-size="6.8" text-anchor="middle" fill="#222">120</text>
<text x="386.11" y="565.10" font-size="6.8" text-anchor="middle" fill="#222">180</text>
<text x="412.61" y="565.10" font-size="6.8" text-anchor="middle" fill="#222">240</text>
<text x="439.11" y="565.10" font-size="6.8" text-anchor="middle" fill="#222">300</text>
<text x="465.61" y="565.10" font-size="6.8" text-anchor="middle" fill="#222">360</text>
<text x="492.11" y="565.10" font-size="6.8" text-anchor="middle" fill="#222">420</text>
<text x="274.30" y="532.70" font-size="8.2" text-anchor="middle" font-weight="bold" textLength="43.30" lengthAdjust="spacingAndGlyphs" transform="rotate(-90 274.30 532.70)">Resonance unit</text>
<path d="M280.10,555.86 L294.67,555.86 L294.67,555.86 L295.02,555.60 L295.37,555.13 L295.72,555.10 L296.07,555.86 L296.42,557.08 L296.77,557.86 L297.12,557.45 L297.47,555.86 L297.82,554.02 L298.17,553.14 L298.52,553.89 L298.87,555.86 L299.22,557.84 L299.57,558.59 L299.92,557.71 L300.27,555.86 L300.62,554.28 L300.97,553.87 L301.32,554.65 L301.67,555.86 L302.02,556.63 L302.37,556.60 L302.72,556.13 L303.07,555.86 L303.51,555.86 L306.16,555.86 L306.60,556.10 L307.48,555.22 L308.37,554.35 L309.25,553.48 L310.13,552.64 L311.02,551.81 L311.90,550.98 L312.78,550.15 L313.67,549.31 L314.55,548.48 L315.43,547.66 L316.32,546.87 L317.20,546.13 L318.08,545.44 L318.97,544.81 L319.85,544.23 L320.73,543.68 L321.62,543.16 L322.50,542.66 L323.38,542.18 L324.27,541.72 L325.15,541.28 L326.03,540.85 L326.92,540.44 L327.80,540.03 L328.69,539.63 L329.57,539.24 L330.45,538.86 L331.34,538.48 L332.22,538.11 L333.10,537.76 L333.99,537.41 L334.87,537.08 L335.75,536.75 L336.64,536.44 L337.52,536.15 L338.40,535.87 L339.29,535.60 L340.17,535.33 L341.05,535.08 L341.94,534.82 L342.82,534.58 L343.70,534.34 L344.59,534.10 L345.47,533.87 L346.35,533.64 L347.24,533.42 L348.12,533.21 L349.00,532.99 L349.89,532.79 L350.77,532.58 L351.65,532.38 L352.54,532.19 L353.42,531.99 L354.30,531.80 L355.19,531.62 L356.07,531.43 L356.95,531.25 L357.84,531.08 L358.72,530.90 L359.60,530.74 L360.49,530.57 L361.37,530.42 L362.25,530.26 L363.14,530.11 L364.02,529.97 L364.90,529.82 L365.79,529.68 L366.67,529.54 L367.55,529.40 L368.44,529.26 L369.32,529.12 L370.20,528.98 L371.09,528.84 L371.97,528.70 L372.86,528.55 L373.74,528.41 L374.62,528.26 L375.51,528.11 L376.39,527.95 L377.27,527.79 L378.16,527.63 L379.04,527.46 L379.92,527.29 L380.81,527.12 L381.69,526.95 L382.57,526.78 L383.46,526.61 L384.34,526.43 L385.22,526.25 L386.11,526.08 L390.52,526.69 L417.03,527.16 L439.11,527.16 L465.61,527.16 L465.61,527.16 L465.98,526.86 L466.35,526.31 L466.72,526.27 L467.08,527.16 L467.45,528.58 L467.82,529.49 L468.19,529.01 L468.56,527.16 L468.92,525.01 L469.29,523.98 L469.66,524.86 L470.03,527.16 L470.40,529.47 L470.77,530.35 L471.13,529.32 L471.50,527.16 L471.87,525.32 L472.24,524.84 L472.61,525.75 L472.97,527.16 L473.34,528.06 L473.71,528.02 L474.08,527.47 L474.45,527.16 L475.33,527.16" fill="none" stroke="#2d4274" stroke-width="1.45" stroke-linejoin="round" stroke-linecap="round"/>
<path d="M280.10,555.96 L306.16,555.96 L308.15,604.56 L309.69,604.56 L311.02,560.81 L312.34,557.04 L314.11,557.04 L314.11,557.04 L314.99,557.14 L315.88,557.24 L316.76,557.34 L317.64,557.44 L318.53,557.54 L319.41,557.64 L320.29,557.74 L321.18,557.84 L322.06,557.94 L322.94,558.04 L323.83,558.14 L324.71,558.24 L325.59,558.34 L326.48,558.44 L327.36,558.54 L328.24,558.64 L329.13,558.74 L330.01,558.84 L330.89,558.94 L331.78,559.05 L332.66,559.15 L333.54,559.26 L334.43,559.37 L335.31,559.48 L336.19,559.58 L337.08,559.69 L337.96,559.80 L338.84,559.91 L339.73,560.02 L340.61,560.13 L341.49,560.24 L342.38,560.35 L343.26,560.46 L344.14,560.56 L345.03,560.67 L345.91,560.77 L346.79,560.88 L347.68,560.98 L348.56,561.08 L349.44,561.18 L350.33,561.28 L351.21,561.37 L352.10,561.47 L352.98,561.56 L353.86,561.65 L354.75,561.74 L355.63,561.82 L356.51,561.90 L357.40,561.98 L358.28,562.06 L359.16,562.13 L360.05,562.21 L360.93,562.28 L361.81,562.36 L362.70,562.43 L363.58,562.50 L364.46,562.57 L365.35,562.65 L366.23,562.71 L367.11,562.78 L368.00,562.85 L368.88,562.91 L369.76,562.98 L370.65,563.04 L371.53,563.10 L372.41,563.16 L373.30,563.22 L374.18,563.28 L375.06,563.33 L375.95,563.39 L376.83,563.44 L377.71,563.49 L378.60,563.54 L379.48,563.58 L380.36,563.63 L381.25,563.67 L382.13,563.71 L383.01,563.75 L383.90,563.78 L384.78,563.82 L385.66,563.85 L387.34,564.19 L387.56,578.50 L387.74,459.65 L390.35,459.65 L390.83,563.63 L391.23,565.27 L392.29,566.22 L394.94,566.45 L439.11,566.22 L465.61,565.98 L465.61,565.98 L465.98,565.72 L466.35,565.25 L466.72,565.22 L467.08,565.98 L467.45,567.20 L467.82,567.98 L468.19,567.56 L468.56,565.98 L468.92,564.14 L469.29,563.25 L469.66,564.00 L470.03,565.98 L470.40,567.96 L470.77,568.71 L471.13,567.82 L471.50,565.98 L471.87,564.40 L472.24,563.98 L472.61,564.77 L472.97,565.98 L473.34,566.74 L473.71,566.71 L474.08,566.24 L474.45,565.98 L475.33,565.98" fill="none" stroke="#ab2242" stroke-width="1.45" stroke-linejoin="round" stroke-linecap="round"/>
<line x1="310.00" y1="498.70" x2="310.00" y2="513.90" stroke="#000" stroke-width="1.8"/>
<path d="M306.60,508.40 L310.00,510.90 L313.40,508.40 L310.00,516.90 Z" fill="#000"/>
<line x1="384.80" y1="498.90" x2="384.80" y2="514.30" stroke="#000" stroke-width="1.8"/>
<path d="M381.20,508.80 L384.80,511.30 L388.40,508.80 L384.80,517.30 Z" fill="#000"/>
<text x="432.30" y="512.30" font-size="6.5" text-anchor="middle" fill="#222" textLength="57.70" lengthAdjust="spacingAndGlyphs">Anti-integrin α2 Ab</text>
<text x="432.20" y="520.40" font-size="6.5" text-anchor="middle" fill="#222" textLength="31.90" lengthAdjust="spacingAndGlyphs">(10 µg/ml)</text>
<text x="434.20" y="573.50" font-size="6.5" text-anchor="middle" fill="#222" textLength="19.60" lengthAdjust="spacingAndGlyphs">Co-HP</text>
<text x="434.30" y="582.50" font-size="6.5" text-anchor="middle" fill="#222" textLength="29.50" lengthAdjust="spacingAndGlyphs">(1.53 µM)</text>
<text x="392.50" y="601.00" font-size="8.2" text-anchor="middle" font-weight="bold" textLength="30.00" lengthAdjust="spacingAndGlyphs">Time (sec)</text>
<text x="7.10" y="636.20" font-size="12.8" font-weight="bold" fill="#000" textLength="9.80" lengthAdjust="spacingAndGlyphs">C</text>
<text x="130.90" y="647.50" font-size="9.4" text-anchor="middle" font-weight="bold" fill="#000" textLength="73.50" lengthAdjust="spacingAndGlyphs">Human platelets</text>
<text x="39.80" y="660.60" font-size="9" textLength="165.70" lengthAdjust="spacingAndGlyphs">Podoplanin-expressing CHO cells 1 × 10</text>
<text x="205.70" y="658.00" font-size="6.6">6</text>
<text x="209.20" y="660.60" font-size="9" textLength="13.20" lengthAdjust="spacingAndGlyphs">/ml</text>
<line x1="52.60" y1="666.30" x2="52.60" y2="740.00" stroke="#222" stroke-width="1.3"/>
<line x1="48.40" y1="738.80" x2="213.40" y2="738.80" stroke="#111" stroke-width="1.8"/>
<line x1="49.80" y1="666.66" x2="52.60" y2="666.66" stroke="#222" stroke-width="1.0"/>
<text x="47.00" y="668.96" font-size="6.5" text-anchor="end" fill="#222">100</text>
<line x1="49.80" y1="702.73" x2="52.60" y2="702.73" stroke="#222" stroke-width="1.0"/>
<text x="47.00" y="705.03" font-size="6.5" text-anchor="end" fill="#222">50</text>
<line x1="52.60" y1="738.80" x2="52.60" y2="741.40" stroke="#222" stroke-width="1.0"/>
<text x="53.10" y="750.00" font-size="6.9" text-anchor="middle" fill="#222">0</text>
<line x1="132.52" y1="738.80" x2="132.52" y2="741.40" stroke="#222" stroke-width="1.0"/>
<text x="132.52" y="750.00" font-size="6.9" text-anchor="middle" fill="#222">600</text>
<line x1="212.44" y1="738.80" x2="212.44" y2="741.40" stroke="#222" stroke-width="1.0"/>
<text x="212.44" y="750.00" font-size="6.9" text-anchor="middle" fill="#222">1200</text>
<text x="24.80" y="704.50" font-size="8.4" text-anchor="middle" font-weight="bold" fill="#222" textLength="47.60" lengthAdjust="spacingAndGlyphs" transform="rotate(-90 24.80 704.50)">Aggregation (%)</text>
<path d="M52.60,738.02 L53.67,738.03 L54.73,737.93 L55.80,738.22 L56.86,738.22 L57.93,737.87 L58.99,738.12 L60.06,737.92 L61.12,738.03 L62.19,737.83 L63.26,738.12 L64.32,738.14 L65.39,738.05 L66.45,737.90 L67.52,738.27 L68.58,738.04 L69.65,738.02 L70.72,737.99 L71.78,738.08 L72.85,738.01 L73.91,738.01 L74.98,738.00 L76.04,738.06 L77.11,737.85 L78.17,737.98 L79.24,738.07 L80.31,738.09 L81.37,738.05 L82.44,738.04 L83.50,738.18 L84.57,738.26 L85.63,738.03 L86.70,738.04 L87.76,738.03 L88.83,738.01 L89.90,737.92 L90.96,738.00 L92.03,737.92 L93.09,738.06 L94.16,738.04 L95.22,737.90 L96.29,737.89 L97.36,738.21 L98.42,737.98 L99.49,738.14 L100.55,738.06 L101.62,738.05 L102.68,737.99 L103.75,738.11 L104.81,737.81 L105.88,737.96 L106.95,738.01 L108.01,738.09 L109.08,737.99 L110.14,738.08 L111.21,737.93 L112.27,737.91 L113.34,737.92 L114.40,737.87 L115.47,737.92 L116.54,737.78 L117.60,737.80 L118.67,737.83 L119.73,737.91 L120.80,737.94 L121.86,737.83 L122.93,737.95 L124.00,737.98 L125.06,738.03 L126.13,737.74 L127.19,737.71 L128.26,737.90 L129.32,737.62 L130.39,737.70 L131.45,737.76 L132.52,737.77 L133.59,737.58 L134.65,737.56 L135.72,737.48 L136.78,737.52 L137.85,737.58 L138.91,737.19 L139.98,737.48 L141.04,737.45 L142.11,737.26 L143.18,737.34 L144.24,737.32 L145.31,737.31 L146.37,737.23 L147.44,737.09 L148.50,736.99 L149.57,737.07 L150.64,736.93 L151.70,737.01 L152.77,736.96 L153.83,736.93 L154.90,736.94 L155.96,736.83 L157.03,736.81 L158.09,736.64 L159.16,736.49 L160.23,736.50 L161.29,736.43 L162.36,736.23 L163.42,736.31 L164.49,736.25 L165.55,736.52 L166.62,736.24 L167.68,736.35 L168.75,735.82 L169.82,736.03 L170.88,736.10 L171.95,736.22 L173.01,735.77 L174.08,735.79 L175.14,735.79 L176.21,735.77 L177.28,735.72 L178.34,735.63 L179.41,735.64 L180.47,735.71 L181.54,735.71 L182.60,735.52 L183.67,735.68 L184.73,735.57 L185.80,735.40 L186.87,735.64 L187.93,735.33 L189.00,735.48 L190.06,735.24 L191.13,735.44 L192.19,735.33 L193.26,735.43 L194.32,735.38 L195.39,735.30 L196.46,735.37 L197.52,735.03 L198.59,735.09 L199.65,735.09 L200.72,735.00 L201.78,735.00 L202.85,735.07 L203.92,735.20 L204.98,735.13 L206.05,735.03 L207.11,734.99 L208.18,735.12 L209.24,735.01 L210.31,735.11 L211.37,735.01 L212.44,734.98" fill="none" stroke="#5bb8d0" stroke-width="1.4" stroke-linejoin="round" stroke-linecap="round"/>
<path d="M52.60,738.44 L53.67,738.38 L54.73,738.66 L55.80,738.64 L56.86,738.16 L57.93,738.35 L58.99,738.50 L60.06,738.05 L61.12,738.29 L62.19,738.45 L63.26,738.43 L64.32,738.24 L65.39,738.21 L66.45,738.33 L67.52,738.32 L68.58,738.37 L69.65,738.08 L70.72,738.37 L71.78,738.59 L72.85,738.26 L73.91,738.41 L74.98,738.20 L76.04,738.12 L77.11,738.10 L78.17,738.04 L79.24,738.42 L80.31,738.56 L81.37,738.41 L82.44,738.22 L83.50,738.44 L84.57,738.39 L85.63,738.40 L86.70,738.26 L87.76,738.31 L88.83,738.29 L89.90,738.33 L90.96,738.80 L92.03,738.47 L93.09,738.11 L94.16,738.08 L95.22,738.06 L96.29,738.28 L97.36,738.40 L98.42,738.22 L99.49,738.30 L100.55,738.18 L101.62,738.48 L102.68,738.12 L103.75,738.29 L104.81,738.22 L105.88,738.59 L106.95,738.56 L108.01,738.06 L109.08,738.38 L110.14,738.12 L111.21,738.20 L112.27,738.60 L113.34,737.86 L114.40,738.23 L115.47,738.33 L116.54,738.33 L117.60,738.10 L118.67,738.34 L119.73,738.09 L120.80,737.94 L121.86,738.02 L122.93,738.18 L124.00,737.99 L125.06,737.88 L126.13,738.01 L127.19,737.90 L128.26,737.94 L129.32,738.13 L130.39,738.31 L131.45,738.06 L132.52,738.39 L133.59,738.05 L134.65,738.18 L135.72,737.78 L136.78,738.39 L137.85,738.07 L138.91,738.03 L139.98,737.89 L141.04,738.49 L142.11,738.19 L143.18,738.07 L144.24,737.80 L145.31,737.85 L146.37,737.90 L147.44,737.76 L148.50,737.81 L149.57,737.81 L150.64,737.41 L151.70,738.07 L152.77,737.60 L153.83,737.41 L154.90,737.76 L155.96,737.64 L157.03,737.53 L158.09,737.84 L159.16,737.71 L160.23,737.62 L161.29,737.74 L162.36,737.44 L163.42,737.64 L164.49,737.54 L165.55,737.69 L166.62,737.46 L167.68,737.53 L168.75,737.32 L169.82,737.35 L170.88,737.44 L171.95,736.99 L173.01,737.41 L174.08,737.01 L175.14,737.16 L176.21,736.91 L177.28,736.48 L178.34,736.65 L179.41,736.53 L180.47,736.25 L181.54,735.85 L182.60,736.08 L183.67,735.82 L184.73,735.89 L185.80,735.63 L186.87,735.51 L187.93,735.17 L189.00,735.14 L190.06,735.12 L191.13,735.09 L192.19,734.49 L193.26,734.58 L194.32,734.39 L195.39,734.32 L196.46,734.00 L197.52,733.97 L198.59,733.76 L199.65,733.89 L200.72,733.73 L201.78,733.41 L202.85,733.09 L203.92,733.40 L204.98,732.89 L206.05,733.12 L207.11,732.84 L208.18,732.62 L209.24,732.70 L210.31,732.72 L211.37,732.27 L212.44,732.22" fill="none" stroke="#d8843a" stroke-width="1.4" stroke-linejoin="round" stroke-linecap="round"/>
<path d="M52.60,738.27 L53.67,738.46 L54.73,737.73 L55.80,738.21 L56.86,738.13 L57.93,738.45 L58.99,737.76 L60.06,738.06 L61.12,737.97 L62.19,737.68 L63.26,737.99 L64.32,738.37 L65.39,738.43 L66.45,737.99 L67.52,738.51 L68.58,737.54 L69.65,738.16 L70.72,738.21 L71.78,737.60 L72.85,738.08 L73.91,737.64 L74.98,738.30 L76.04,738.22 L77.11,737.50 L78.17,737.93 L79.24,737.53 L80.31,738.15 L81.37,738.07 L82.44,737.97 L83.50,738.02 L84.57,738.26 L85.63,737.71 L86.70,738.37 L87.76,738.15 L88.83,738.28 L89.90,738.91 L90.96,737.77 L92.03,738.03 L93.09,738.31 L94.16,737.73 L95.22,737.82 L96.29,737.61 L97.36,738.17 L98.42,737.98 L99.49,738.52 L100.55,737.41 L101.62,738.25 L102.68,738.05 L103.75,737.98 L104.81,738.06 L105.88,737.96 L106.95,737.74 L108.01,738.03 L109.08,737.78 L110.14,737.49 L111.21,737.94 L112.27,738.29 L113.34,738.38 L114.40,737.90 L115.47,738.24 L116.54,738.35 L117.60,737.98 L118.67,738.11 L119.73,738.30 L120.80,738.15 L121.86,738.25 L122.93,737.44 L124.00,737.97 L125.06,737.68 L126.13,737.73 L127.19,737.71 L128.26,738.15 L129.32,737.88 L130.39,737.53 L131.45,737.45 L132.52,737.33 L133.59,737.99 L134.65,737.81 L135.72,737.41 L136.78,737.83 L137.85,737.50 L138.91,737.56 L139.98,737.69 L141.04,736.94 L142.11,737.24 L143.18,736.98 L144.24,737.07 L145.31,737.22 L146.37,737.00 L147.44,736.60 L148.50,736.52 L149.57,736.92 L150.64,736.48 L151.70,736.29 L152.77,736.34 L153.83,736.30 L154.90,736.12 L155.96,736.23 L157.03,736.13 L158.09,736.08 L159.16,735.68 L160.23,735.38 L161.29,735.32 L162.36,734.55 L163.42,734.76 L164.49,734.69 L165.55,735.11 L166.62,734.43 L167.68,734.53 L168.75,734.26 L169.82,733.49 L170.88,733.74 L171.95,733.09 L173.01,733.50 L174.08,732.54 L175.14,732.29 L176.21,732.07 L177.28,732.20 L178.34,732.10 L179.41,731.69 L180.47,731.47 L181.54,730.63 L182.60,730.53 L183.67,731.19 L184.73,730.06 L185.80,730.28 L186.87,729.91 L187.93,729.69 L189.00,729.20 L190.06,728.52 L191.13,728.51 L192.19,728.17 L193.26,727.71 L194.32,727.23 L195.39,727.35 L196.46,726.26 L197.52,725.50 L198.59,725.29 L199.65,725.20 L200.72,724.58 L201.78,723.59 L202.85,724.16 L203.92,724.02 L204.98,722.93 L206.05,722.59 L207.11,722.58 L208.18,721.79 L209.24,721.09 L210.31,720.59 L211.37,720.24 L212.44,720.06" fill="none" stroke="#3a2aa0" stroke-width="1.4" stroke-linejoin="round" stroke-linecap="round"/>
<path d="M52.60,737.79 L53.67,737.92 L54.73,737.79 L55.80,737.87 L56.86,737.98 L57.93,737.99 L58.99,738.09 L60.06,737.92 L61.12,737.85 L62.19,737.98 L63.26,738.18 L64.32,738.03 L65.39,737.92 L66.45,737.79 L67.52,737.72 L68.58,738.02 L69.65,737.85 L70.72,737.53 L71.78,738.17 L72.85,738.08 L73.91,737.92 L74.98,737.66 L76.04,738.01 L77.11,737.76 L78.17,738.12 L79.24,737.79 L80.31,737.93 L81.37,737.87 L82.44,737.57 L83.50,738.08 L84.57,737.76 L85.63,737.88 L86.70,737.88 L87.76,737.54 L88.83,737.72 L89.90,737.74 L90.96,737.76 L92.03,737.64 L93.09,737.91 L94.16,737.51 L95.22,737.93 L96.29,738.00 L97.36,737.73 L98.42,737.65 L99.49,737.74 L100.55,737.70 L101.62,737.71 L102.68,737.60 L103.75,737.56 L104.81,737.61 L105.88,737.54 L106.95,737.65 L108.01,737.37 L109.08,737.74 L110.14,737.45 L111.21,737.29 L112.27,737.47 L113.34,737.53 L114.40,737.40 L115.47,737.58 L116.54,737.31 L117.60,737.55 L118.67,737.46 L119.73,737.32 L120.80,737.37 L121.86,737.24 L122.93,737.37 L124.00,737.00 L125.06,737.19 L126.13,736.90 L127.19,736.98 L128.26,736.72 L129.32,736.70 L130.39,736.80 L131.45,736.59 L132.52,736.44 L133.59,736.20 L134.65,736.53 L135.72,736.03 L136.78,736.27 L137.85,735.95 L138.91,735.99 L139.98,735.79 L141.04,735.29 L142.11,735.45 L143.18,735.19 L144.24,735.26 L145.31,734.96 L146.37,734.73 L147.44,734.75 L148.50,734.71 L149.57,734.06 L150.64,734.16 L151.70,734.02 L152.77,733.45 L153.83,733.09 L154.90,732.98 L155.96,732.02 L157.03,731.61 L158.09,731.08 L159.16,730.26 L160.23,730.03 L161.29,728.66 L162.36,727.88 L163.42,726.90 L164.49,725.36 L165.55,723.89 L166.62,722.49 L167.68,720.78 L168.75,718.81 L169.82,716.46 L170.88,713.93 L171.95,710.81 L173.01,706.95 L174.08,703.88 L175.14,701.12 L176.21,698.05 L177.28,695.90 L178.34,693.64 L179.41,692.07 L180.47,690.93 L181.54,689.16 L182.60,688.09 L183.67,687.12 L184.73,686.48 L185.80,686.20 L186.87,685.82 L187.93,685.42 L189.00,685.11 L190.06,684.74 L191.13,684.38 L192.19,684.30 L193.26,683.86 L194.32,683.81 L195.39,683.76 L196.46,683.62 L197.52,683.30 L198.59,683.12 L199.65,683.19 L200.72,682.73 L201.78,682.95 L202.85,682.77 L203.92,682.36 L204.98,682.49 L206.05,682.22 L207.11,682.23 L208.18,682.47 L209.24,682.12 L210.31,682.19 L211.37,682.41 L212.44,682.11" fill="none" stroke="#2fa23a" stroke-width="1.4" stroke-linejoin="round" stroke-linecap="round"/>
<path d="M52.60,738.03 L53.67,738.20 L54.73,738.18 L55.80,738.22 L56.86,738.05 L57.93,738.05 L58.99,738.05 L60.06,738.08 L61.12,738.12 L62.19,737.98 L63.26,738.22 L64.32,738.09 L65.39,738.16 L66.45,738.14 L67.52,738.18 L68.58,738.05 L69.65,738.14 L70.72,738.04 L71.78,738.08 L72.85,738.12 L73.91,738.01 L74.98,738.14 L76.04,738.08 L77.11,737.94 L78.17,737.97 L79.24,738.06 L80.31,738.06 L81.37,738.07 L82.44,738.14 L83.50,738.16 L84.57,737.99 L85.63,738.06 L86.70,738.02 L87.76,738.08 L88.83,738.09 L89.90,737.93 L90.96,737.98 L92.03,738.18 L93.09,738.01 L94.16,738.11 L95.22,737.95 L96.29,738.01 L97.36,738.03 L98.42,738.01 L99.49,737.99 L100.55,737.82 L101.62,738.04 L102.68,737.89 L103.75,737.91 L104.81,737.90 L105.88,737.97 L106.95,737.88 L108.01,737.54 L109.08,736.98 L110.14,736.63 L111.21,736.13 L112.27,735.60 L113.34,734.91 L114.40,734.13 L115.47,733.37 L116.54,732.06 L117.60,730.40 L118.67,728.08 L119.73,725.36 L120.80,722.47 L121.86,718.86 L122.93,714.73 L124.00,711.09 L125.06,707.60 L126.13,704.11 L127.19,700.87 L128.26,698.00 L129.32,695.74 L130.39,693.53 L131.45,691.63 L132.52,690.03 L133.59,688.88 L134.65,687.67 L135.72,686.54 L136.78,685.66 L137.85,684.82 L138.91,684.32 L139.98,683.65 L141.04,683.41 L142.11,683.02 L143.18,682.45 L144.24,682.09 L145.31,681.93 L146.37,681.86 L147.44,681.61 L148.50,681.44 L149.57,681.61 L150.64,681.39 L151.70,681.24 L152.77,681.32 L153.83,681.14 L154.90,681.16 L155.96,681.01 L157.03,681.07 L158.09,681.12 L159.16,681.01 L160.23,681.18 L161.29,681.09 L162.36,680.93 L163.42,681.02 L164.49,681.05 L165.55,681.10 L166.62,680.93 L167.68,681.03 L168.75,681.18 L169.82,681.00 L170.88,681.09 L171.95,681.03 L173.01,681.10 L174.08,681.16 L175.14,681.23 L176.21,681.08 L177.28,681.15 L178.34,681.09 L179.41,681.06 L180.47,681.16 L181.54,681.10 L182.60,681.02 L183.67,681.12 L184.73,681.10 L185.80,681.07 L186.87,681.02 L187.93,681.05 L189.00,681.06 L190.06,681.17 L191.13,681.08 L192.19,681.13 L193.26,681.15 L194.32,681.16 L195.39,681.00 L196.46,681.08 L197.52,681.00 L198.59,681.02 L199.65,680.96 L200.72,681.18 L201.78,681.07 L202.85,681.07 L203.92,681.10 L204.98,681.10 L206.05,681.10 L207.11,681.08 L208.18,681.05 L209.24,681.13 L210.31,681.11 L211.37,681.11 L212.44,681.12" fill="none" stroke="#111" stroke-width="1.4" stroke-linejoin="round" stroke-linecap="round"/>
<text x="243.30" y="678.30" font-size="6.8" text-anchor="middle" fill="#222" textLength="37.00" lengthAdjust="spacingAndGlyphs">Co-HP (µM)</text>
<line x1="229.50" y1="686.90" x2="243.00" y2="686.90" stroke="#111" stroke-width="1.9"/>
<text x="258.30" y="689.30" font-size="6.8" text-anchor="end" fill="#222">0</text>
<line x1="229.50" y1="696.60" x2="243.00" y2="696.60" stroke="#2e8b45" stroke-width="1.9"/>
<text x="259.80" y="699.00" font-size="6.8" text-anchor="end" fill="#4a9a60">0.15</text>
<line x1="229.50" y1="707.80" x2="243.00" y2="707.80" stroke="#2d2480" stroke-width="1.9"/>
<text x="259.80" y="710.20" font-size="6.8" text-anchor="end" fill="#3d3580">1.53</text>
<line x1="229.50" y1="718.80" x2="243.00" y2="718.80" stroke="#d07a34" stroke-width="1.9"/>
<text x="259.80" y="721.20" font-size="6.8" text-anchor="end" fill="#d8945a">3.05</text>
<line x1="229.50" y1="730.00" x2="243.00" y2="730.00" stroke="#55a3bf" stroke-width="1.9"/>
<text x="259.80" y="732.40" font-size="6.8" text-anchor="end" fill="#6aaccc">7.63</text>
</svg>
</body></html>
